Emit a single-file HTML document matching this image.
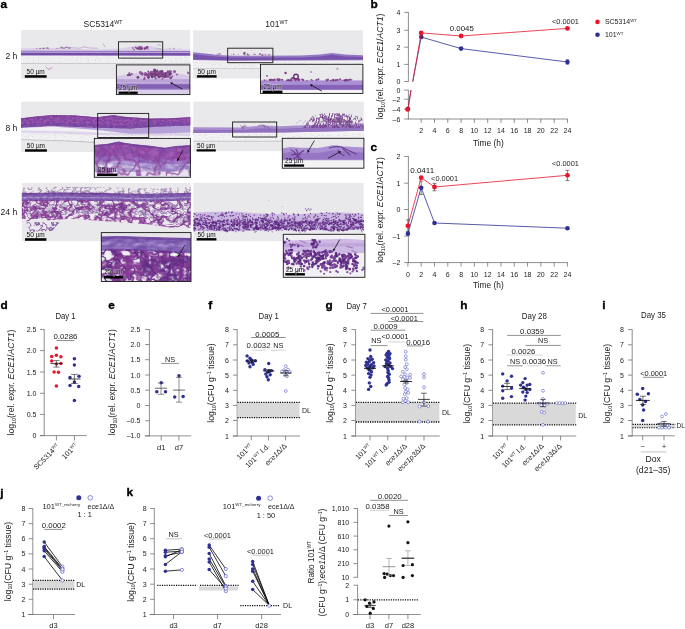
<!DOCTYPE html>
<html><head><meta charset="utf-8"><title>Figure</title>
<style>
html,body{margin:0;padding:0;background:#fff;}
svg{display:block;font-family:"Liberation Sans",sans-serif;}
</style></head><body>
<svg width="685" height="629" viewBox="0 0 685 629">
<rect width="685" height="629" fill="#fff"/>

<defs><filter id="cl_s" x="0" y="0" width="100%" height="100%" color-interpolation-filters="sRGB"><feTurbulence type="fractalNoise" baseFrequency="0.45 0.6" numOctaves="2" seed="23"/><feColorMatrix type="matrix" values="0 0 0 0 0.482  0 0 0 0 0.235  0 0 0 0 0.518  1 0 0 0 0"/><feComponentTransfer><feFuncA type="table" tableValues="0 0 0 0 0 0 0 0 0 0 0 .35 .9 1 1 1 1 1 1 1 1"/></feComponentTransfer><feGaussianBlur stdDeviation="0.25"/><feComposite in2="SourceAlpha" operator="in"/></filter><filter id="cl_m" x="0" y="0" width="100%" height="100%" color-interpolation-filters="sRGB"><feTurbulence type="fractalNoise" baseFrequency="0.22 0.3" numOctaves="2" seed="9"/><feColorMatrix type="matrix" values="0 0 0 0 0.490  0 0 0 0 0.247  0 0 0 0 0.533  1 0 0 0 0"/><feComponentTransfer><feFuncA type="table" tableValues="0 0 0 0 0 0 0 0 0 0 .35 .9 1 1 1 1 1 1 1 1 1"/></feComponentTransfer><feGaussianBlur stdDeviation="0.3"/><feComposite in2="SourceAlpha" operator="in"/></filter><filter id="cl_d" x="0" y="0" width="100%" height="100%" color-interpolation-filters="sRGB"><feTurbulence type="fractalNoise" baseFrequency="0.3 0.38" numOctaves="3" seed="31"/><feColorMatrix type="matrix" values="0 0 0 0 0.400  0 0 0 0 0.192  0 0 0 0 0.549  1 0 0 0 0"/><feComponentTransfer><feFuncA type="table" tableValues="0 0 0 0 0 0 0 0 0 0 .35 .9 1 1 1 1 1 1 1 1 1"/></feComponentTransfer><feGaussianBlur stdDeviation="0.25"/><feComposite in2="SourceAlpha" operator="in"/></filter><filter id="cl_d2" x="0" y="0" width="100%" height="100%" color-interpolation-filters="sRGB"><feTurbulence type="fractalNoise" baseFrequency="0.15 0.19" numOctaves="3" seed="17"/><feColorMatrix type="matrix" values="0 0 0 0 0.400  0 0 0 0 0.192  0 0 0 0 0.549  1 0 0 0 0"/><feComponentTransfer><feFuncA type="table" tableValues="0 0 0 0 0 0 0 0 0 0 .35 .9 1 1 1 1 1 1 1 1 1"/></feComponentTransfer><feGaussianBlur stdDeviation="0.35"/><feComposite in2="SourceAlpha" operator="in"/></filter><filter id="web_s" x="0" y="0" width="100%" height="100%" color-interpolation-filters="sRGB"><feTurbulence type="fractalNoise" baseFrequency="0.09 0.11" numOctaves="3" seed="11"/><feColorMatrix type="matrix" values="0 0 0 0 0.541  0 0 0 0 0.239  0 0 0 0 0.588  1 0 0 0 0"/><feComponentTransfer><feFuncA type="table" tableValues="0 0 0 0 0 0 0 0 .1 .7 1 .7 .1 0 0 0 0 0 0 0 0"/></feComponentTransfer><feGaussianBlur stdDeviation="0.3"/><feComposite in2="SourceAlpha" operator="in"/></filter><filter id="web_s2" x="0" y="0" width="100%" height="100%" color-interpolation-filters="sRGB"><feTurbulence type="fractalNoise" baseFrequency="0.13 0.16" numOctaves="3" seed="41"/><feColorMatrix type="matrix" values="0 0 0 0 0.392  0 0 0 0 0.173  0 0 0 0 0.518  0 1 0 0 0"/><feComponentTransfer><feFuncA type="table" tableValues="0 0 0 0 0 0 0 0 0 .5 1 .5 0 0 0 0 0 0 0 0 0"/></feComponentTransfer><feGaussianBlur stdDeviation="0.3"/><feComposite in2="SourceAlpha" operator="in"/></filter><filter id="web_l" x="0" y="0" width="100%" height="100%" color-interpolation-filters="sRGB"><feTurbulence type="fractalNoise" baseFrequency="0.06 0.075" numOctaves="3" seed="5"/><feColorMatrix type="matrix" values="0 0 0 0 0.525  0 0 0 0 0.235  0 0 0 0 0.588  1 0 0 0 0"/><feComponentTransfer><feFuncA type="table" tableValues="0 0 0 0 0 0 0 0 .25 .9 1 .9 .25 0 0 0 0 0 0 0 0"/></feComponentTransfer><feGaussianBlur stdDeviation="0.4"/><feComposite in2="SourceAlpha" operator="in"/></filter><filter id="web_l2" x="0" y="0" width="100%" height="100%" color-interpolation-filters="sRGB"><feTurbulence type="fractalNoise" baseFrequency="0.085 0.1" numOctaves="3" seed="29"/><feColorMatrix type="matrix" values="0 0 0 0 0.369  0 0 0 0 0.173  0 0 0 0 0.518  0 1 0 0 0"/><feComponentTransfer><feFuncA type="table" tableValues="0 0 0 0 0 0 0 0 .1 .7 1 .7 .1 0 0 0 0 0 0 0 0"/></feComponentTransfer><feGaussianBlur stdDeviation="0.35"/><feComposite in2="SourceAlpha" operator="in"/></filter><filter id="tex_m" x="0" y="0" width="100%" height="100%" color-interpolation-filters="sRGB"><feTurbulence type="fractalNoise" baseFrequency="0.3 0.5" numOctaves="2" seed="4"/><feColorMatrix type="matrix" values="0 0 0 0 0.353  0 0 0 0 0.208  0 0 0 0 0.588  0 0 1 0 0"/><feComponentTransfer><feFuncA type="table" tableValues="0 0 0 0 0 0 0 .1 .25 .4 .55 .7 .85 1 1 1 1 1 1 1 1"/></feComponentTransfer><feGaussianBlur stdDeviation="0.3"/><feComposite in2="SourceAlpha" operator="in"/></filter><filter id="tex_l" x="0" y="0" width="100%" height="100%" color-interpolation-filters="sRGB"><feTurbulence type="fractalNoise" baseFrequency="0.12 0.22" numOctaves="2" seed="14"/><feColorMatrix type="matrix" values="0 0 0 0 0.357  0 0 0 0 0.227  0 0 0 0 0.604  0 0 1 0 0"/><feComponentTransfer><feFuncA type="table" tableValues="0 0 0 0 0 0 0 .1 .25 .4 .55 .7 .85 1 1 1 1 1 1 1 1"/></feComponentTransfer><feGaussianBlur stdDeviation="0.4"/><feComposite in2="SourceAlpha" operator="in"/></filter><filter id="hy_s" x="0" y="0" width="100%" height="100%" color-interpolation-filters="sRGB"><feTurbulence type="fractalNoise" baseFrequency="0.3 0.14" numOctaves="2" seed="3"/><feColorMatrix type="matrix" values="0 0 0 0 0.455  0 0 0 0 0.251  0 0 0 0 0.541  1 0 0 0 0"/><feComponentTransfer><feFuncA type="table" tableValues="0 0 0 0 0 0 0 0 .1 .7 1 .7 .1 0 0 0 0 0 0 0 0"/></feComponentTransfer><feGaussianBlur stdDeviation="0.25"/><feComposite in2="SourceAlpha" operator="in"/></filter><filter id="hy_l" x="0" y="0" width="100%" height="100%" color-interpolation-filters="sRGB"><feTurbulence type="fractalNoise" baseFrequency="0.1 0.075" numOctaves="2" seed="8"/><feColorMatrix type="matrix" values="0 0 0 0 0.541  0 0 0 0 0.247  0 0 0 0 0.596  1 0 0 0 0"/><feComponentTransfer><feFuncA type="table" tableValues="0 0 0 0 0 0 0 0 0 .5 1 .5 0 0 0 0 0 0 0 0 0"/></feComponentTransfer><feGaussianBlur stdDeviation="0.35"/><feComposite in2="SourceAlpha" operator="in"/></filter><filter id="spk" x="0" y="0" width="100%" height="100%" color-interpolation-filters="sRGB"><feTurbulence type="fractalNoise" baseFrequency="0.6 0.9" numOctaves="1" seed="77"/><feColorMatrix type="matrix" values="0 0 0 0 0.663  0 0 0 0 0.655  0 0 0 0 0.675  1 0 0 0 0"/><feComponentTransfer><feFuncA type="table" tableValues="0 0 0 0 0 0 0 0 0 0 0 0 .35 .9 1 1 1 1 1 1 1"/></feComponentTransfer><feGaussianBlur stdDeviation="0.2"/><feComposite in2="SourceAlpha" operator="in"/></filter></defs>
<text x="83.60" y="27.00" font-size="8.5" text-anchor="start" fill="#1a1a1a" >SC5314<tspan dy="-3.1" font-size="5.2">WT</tspan></text>
<text x="265.30" y="27.00" font-size="8.5" text-anchor="start" fill="#1a1a1a" >101<tspan dy="-3.1" font-size="5.2">WT</tspan></text>
<text x="17.40" y="59.30" font-size="8.6" text-anchor="end" fill="#1a1a1a" >2 h</text>
<text x="17.40" y="131.40" font-size="8.6" text-anchor="end" fill="#1a1a1a" >8 h</text>
<text x="17.20" y="214.50" font-size="8.6" text-anchor="end" fill="#1a1a1a" >24 h</text>
<clipPath id="cp1"><rect x="20.90" y="30.00" width="169.50" height="49.20"/></clipPath>
<g clip-path="url(#cp1)">
<rect x="20.90" y="30.00" width="169.50" height="49.20" fill="#e9e8ea"/>
<rect x="20.90" y="55.20" width="169.50" height="8.20" fill="#f0eff2" />
<rect x="20.90" y="57.00" width="169.50" height="6.20" fill="#000" filter="url(#spk)" opacity="0.22"/>
<rect x="20.90" y="63.30" width="169.50" height="0.70" fill="#bdbcbf" />
<polygon points="20.9,48.4 45.0,47.8 70.0,48.6 95.0,49.6 122.0,48.6 135.0,45.6 150.0,46.0 162.0,48.6 190.4,49.6 190.4,52.0 20.9,52.0" fill="#d9cee7" />
<polygon points="20.9,50.8 190.4,51.0 190.4,55.6 20.9,55.3" fill="#9272c0" />
<polygon points="20.9,53.0 190.4,53.2 190.4,55.4 20.9,55.2" fill="#734ba8" />
<polygon points="20.9,51.8 190.4,52.0 190.4,52.7 20.9,52.5" fill="#cbbce2" />
<g opacity="0.9"><circle cx="139.9" cy="48.3" r="0.87" fill="#8a4690"/><circle cx="147.2" cy="46.4" r="0.62" fill="#5e2a70"/><circle cx="141.8" cy="48.6" r="0.69" fill="#6b2f74"/><circle cx="138.2" cy="47.8" r="0.83" fill="#7b3a7e"/><circle cx="132.9" cy="47.9" r="0.76" fill="#6b2f74"/><circle cx="145.0" cy="49.5" r="0.59" fill="#8a4690"/><circle cx="138.2" cy="49.2" r="0.51" fill="#5e2a70"/><circle cx="146.1" cy="47.0" r="0.58" fill="#7b3a7e"/><circle cx="139.2" cy="47.8" r="0.81" fill="#6b2f74"/><circle cx="140.2" cy="47.5" r="0.74" fill="#8a4690"/><circle cx="141.7" cy="47.5" r="0.89" fill="#6b2f74"/><circle cx="139.9" cy="46.5" r="0.80" fill="#8a4690"/><circle cx="135.7" cy="47.6" r="0.93" fill="#7b3a7e"/><circle cx="144.5" cy="48.1" r="0.89" fill="#7b3a7e"/><circle cx="142.5" cy="48.8" r="0.74" fill="#6b2f74"/><circle cx="139.9" cy="48.3" r="0.53" fill="#5e2a70"/><circle cx="147.8" cy="47.4" r="0.85" fill="#8a4690"/><circle cx="141.7" cy="49.4" r="0.55" fill="#7b3a7e"/><circle cx="146.0" cy="48.3" r="0.85" fill="#5e2a70"/><circle cx="145.8" cy="47.6" r="0.66" fill="#7b3a7e"/><circle cx="138.7" cy="48.1" r="0.57" fill="#8a4690"/><circle cx="140.8" cy="48.8" r="0.63" fill="#7b3a7e"/><circle cx="140.1" cy="48.2" r="0.50" fill="#5e2a70"/><circle cx="147.3" cy="47.0" r="0.92" fill="#7b3a7e"/><circle cx="139.8" cy="49.8" r="0.53" fill="#5e2a70"/><circle cx="137.4" cy="48.6" r="0.90" fill="#7b3a7e"/><circle cx="138.4" cy="48.6" r="0.58" fill="#6b2f74"/><circle cx="146.0" cy="47.9" r="0.69" fill="#7b3a7e"/><circle cx="145.3" cy="48.7" r="0.59" fill="#6b2f74"/><circle cx="140.5" cy="47.0" r="0.60" fill="#8a4690"/><circle cx="144.5" cy="49.0" r="0.85" fill="#7b3a7e"/><circle cx="140.2" cy="49.2" r="0.66" fill="#7b3a7e"/><circle cx="139.3" cy="47.9" r="0.67" fill="#7b3a7e"/><circle cx="139.7" cy="49.3" r="0.67" fill="#8a4690"/><circle cx="137.0" cy="48.4" r="0.83" fill="#5e2a70"/><circle cx="145.4" cy="48.5" r="0.60" fill="#6b2f74"/><circle cx="146.7" cy="47.5" r="0.78" fill="#7b3a7e"/><circle cx="146.8" cy="48.5" r="0.58" fill="#5e2a70"/><circle cx="136.7" cy="48.2" r="0.59" fill="#8a4690"/><circle cx="139.1" cy="46.3" r="0.53" fill="#8a4690"/><circle cx="134.1" cy="49.7" r="0.69" fill="#6b2f74"/><circle cx="148.1" cy="49.1" r="0.60" fill="#5e2a70"/><circle cx="141.3" cy="48.7" r="0.93" fill="#7b3a7e"/><circle cx="141.6" cy="47.3" r="0.64" fill="#7b3a7e"/></g>
<g opacity="0.8"><circle cx="39.4" cy="48.3" r="0.57" fill="#8a4690"/><circle cx="44.0" cy="48.2" r="0.69" fill="#8a4690"/><circle cx="36.5" cy="48.7" r="0.43" fill="#6b2f74"/><circle cx="43.7" cy="48.5" r="0.52" fill="#7b3a7e"/><circle cx="46.9" cy="48.0" r="0.56" fill="#6b2f74"/><circle cx="42.4" cy="48.2" r="0.51" fill="#7b3a7e"/><circle cx="48.2" cy="48.2" r="0.64" fill="#7b3a7e"/><circle cx="40.5" cy="48.2" r="0.50" fill="#5e2a70"/><circle cx="47.2" cy="47.9" r="0.57" fill="#7b3a7e"/></g>
<g opacity="0.8"><circle cx="66.1" cy="47.8" r="0.45" fill="#6b2f74"/><circle cx="61.3" cy="47.2" r="0.73" fill="#7b3a7e"/><circle cx="65.1" cy="47.8" r="0.57" fill="#6b2f74"/><circle cx="64.0" cy="48.2" r="0.55" fill="#6b2f74"/><circle cx="70.0" cy="48.1" r="0.59" fill="#6b2f74"/><circle cx="69.1" cy="47.9" r="0.77" fill="#6b2f74"/><circle cx="62.4" cy="48.1" r="0.74" fill="#7b3a7e"/><circle cx="66.9" cy="47.2" r="0.76" fill="#7b3a7e"/></g>
<g opacity="0.55"><circle cx="171.1" cy="48.0" r="0.42" fill="#6b2f74"/><circle cx="159.3" cy="48.2" r="0.47" fill="#5e2a70"/><circle cx="174.5" cy="48.7" r="0.51" fill="#7b3a7e"/><circle cx="169.6" cy="48.6" r="0.49" fill="#8a4690"/><circle cx="160.1" cy="48.6" r="0.37" fill="#5e2a70"/><circle cx="155.8" cy="48.2" r="0.43" fill="#7b3a7e"/><circle cx="157.8" cy="49.0" r="0.59" fill="#5e2a70"/><circle cx="160.9" cy="49.2" r="0.54" fill="#6b2f74"/><circle cx="173.4" cy="48.6" r="0.53" fill="#7b3a7e"/><circle cx="179.4" cy="48.6" r="0.43" fill="#6b2f74"/></g>
<path d="M56,48.6 q10,-2.6 20,-0.6 q6,1 9,-2.6 M84,47 q6,1.6 14,1.2" fill="none" stroke="#a277b8" stroke-width="0.6" opacity="0.8"/>
<path d="M157,45.4 q2.4,-1.6 4,0.6 M103,43.6 l2.2,3.4" fill="none" stroke="#b791c6" stroke-width="0.9" opacity="0.8"/>
<path d="M45.5,66.5 q2,2.5 3.5,3 q2,-0.5 3,-2.5" fill="none" stroke="#b35fb0" stroke-width="0.8" opacity="0.8"/>
</g>
<rect x="24.80" y="75.20" width="21.80" height="2.50" fill="#000"/>
<text x="35.70" y="73.70" font-size="6.5" text-anchor="middle" fill="#111" >50 µm</text>
<rect x="118.50" y="41.80" width="44.20" height="16.30" fill="none" stroke="#1a1a1a" stroke-width="0.9"/>
<clipPath id="cp2"><rect x="116.40" y="64.90" width="73.50" height="29.70"/></clipPath>
<g clip-path="url(#cp2)">
<rect x="116.40" y="64.90" width="73.50" height="29.70" fill="#e6e4e8"/>
<polygon points="116.0,76.5 128.0,74.0 140.0,72.4 165.0,72.0 180.0,73.6 190.0,76.0 190.0,80.0 116.0,80.0" fill="#d5c7e5" />
<rect x="116.00" y="79.20" width="74.00" height="3.80" fill="#b9a1d7" />
<rect x="116.00" y="82.70" width="74.00" height="0.80" fill="#d7cbe9" />
<rect x="116.00" y="83.50" width="74.00" height="6.30" fill="#8e6cbd" />
<rect x="116.00" y="85.00" width="74.00" height="3.00" fill="#8360b4" />
<rect x="116.00" y="89.80" width="74.00" height="5.20" fill="#d9ceea" />
<g opacity="0.88"><circle cx="158.9" cy="72.9" r="1.38" fill="#8a4690"/><circle cx="159.5" cy="77.2" r="1.00" fill="#7b3a7e"/><circle cx="162.3" cy="73.9" r="1.53" fill="#7b3a7e"/><circle cx="168.5" cy="74.9" r="1.43" fill="#6b2f74"/><circle cx="154.8" cy="75.6" r="1.29" fill="#8a4690"/><circle cx="154.8" cy="74.6" r="1.14" fill="#5e2a70"/><circle cx="160.3" cy="71.7" r="1.33" fill="#5e2a70"/><circle cx="145.8" cy="74.6" r="1.33" fill="#5e2a70"/><circle cx="161.6" cy="74.0" r="1.14" fill="#7b3a7e"/><circle cx="155.2" cy="70.7" r="1.01" fill="#8a4690"/><circle cx="168.1" cy="72.4" r="1.18" fill="#5e2a70"/><circle cx="155.3" cy="73.6" r="1.14" fill="#7b3a7e"/><circle cx="157.0" cy="73.4" r="0.81" fill="#6b2f74"/><circle cx="160.9" cy="73.2" r="0.92" fill="#6b2f74"/><circle cx="152.2" cy="77.3" r="1.05" fill="#7b3a7e"/><circle cx="148.6" cy="77.1" r="1.49" fill="#7b3a7e"/><circle cx="151.9" cy="76.3" r="0.91" fill="#8a4690"/><circle cx="168.2" cy="71.6" r="1.46" fill="#8a4690"/><circle cx="158.4" cy="73.5" r="1.16" fill="#7b3a7e"/><circle cx="148.6" cy="75.0" r="1.13" fill="#5e2a70"/><circle cx="158.6" cy="77.0" r="1.19" fill="#6b2f74"/><circle cx="162.8" cy="73.4" r="0.88" fill="#6b2f74"/><circle cx="142.1" cy="73.9" r="1.59" fill="#7b3a7e"/><circle cx="157.9" cy="73.5" r="0.85" fill="#6b2f74"/><circle cx="165.2" cy="74.6" r="1.27" fill="#8a4690"/><circle cx="154.1" cy="76.3" r="0.82" fill="#7b3a7e"/><circle cx="148.8" cy="73.4" r="1.05" fill="#8a4690"/><circle cx="168.1" cy="76.4" r="1.34" fill="#6b2f74"/><circle cx="160.8" cy="75.7" r="1.01" fill="#8a4690"/><circle cx="159.5" cy="74.3" r="1.55" fill="#6b2f74"/><circle cx="158.7" cy="73.1" r="1.57" fill="#6b2f74"/><circle cx="162.0" cy="74.7" r="1.14" fill="#5e2a70"/><circle cx="151.9" cy="72.4" r="1.19" fill="#7b3a7e"/><circle cx="154.8" cy="75.2" r="0.92" fill="#7b3a7e"/><circle cx="159.9" cy="72.8" r="1.55" fill="#8a4690"/><circle cx="164.3" cy="74.2" r="1.23" fill="#5e2a70"/><circle cx="161.8" cy="75.1" r="1.18" fill="#6b2f74"/><circle cx="152.5" cy="74.2" r="0.82" fill="#6b2f74"/><circle cx="162.2" cy="73.5" r="1.42" fill="#6b2f74"/><circle cx="145.5" cy="73.6" r="1.55" fill="#8a4690"/><circle cx="156.8" cy="74.7" r="1.25" fill="#5e2a70"/><circle cx="148.7" cy="73.9" r="1.52" fill="#7b3a7e"/><circle cx="153.5" cy="73.6" r="1.44" fill="#6b2f74"/><circle cx="172.2" cy="76.4" r="0.89" fill="#7b3a7e"/><circle cx="137.9" cy="77.3" r="1.38" fill="#5e2a70"/><circle cx="151.0" cy="73.0" r="1.03" fill="#6b2f74"/><circle cx="162.1" cy="71.4" r="1.31" fill="#5e2a70"/><circle cx="161.0" cy="75.8" r="0.90" fill="#8a4690"/><circle cx="151.1" cy="72.3" r="1.43" fill="#8a4690"/><circle cx="159.0" cy="76.6" r="0.80" fill="#5e2a70"/><circle cx="147.1" cy="75.3" r="0.88" fill="#5e2a70"/><circle cx="157.5" cy="75.2" r="0.94" fill="#6b2f74"/><circle cx="176.9" cy="74.6" r="0.86" fill="#6b2f74"/><circle cx="159.5" cy="75.8" r="0.80" fill="#7b3a7e"/><circle cx="170.7" cy="77.9" r="1.41" fill="#7b3a7e"/><circle cx="155.8" cy="78.5" r="1.04" fill="#7b3a7e"/><circle cx="145.1" cy="74.9" r="1.07" fill="#7b3a7e"/><circle cx="169.8" cy="75.1" r="0.88" fill="#5e2a70"/><circle cx="160.5" cy="74.5" r="1.56" fill="#5e2a70"/><circle cx="152.2" cy="76.7" r="1.33" fill="#5e2a70"/><circle cx="162.6" cy="72.9" r="0.92" fill="#8a4690"/><circle cx="155.2" cy="73.2" r="1.56" fill="#5e2a70"/><circle cx="144.3" cy="79.0" r="1.18" fill="#8a4690"/><circle cx="162.2" cy="75.7" r="1.22" fill="#7b3a7e"/><circle cx="164.3" cy="75.9" r="1.06" fill="#5e2a70"/><circle cx="153.0" cy="73.4" r="1.01" fill="#7b3a7e"/><circle cx="160.3" cy="75.6" r="0.99" fill="#7b3a7e"/><circle cx="160.5" cy="76.6" r="0.81" fill="#5e2a70"/><circle cx="149.9" cy="75.5" r="1.11" fill="#8a4690"/><circle cx="159.6" cy="74.3" r="1.32" fill="#7b3a7e"/><circle cx="156.1" cy="74.8" r="1.42" fill="#5e2a70"/><circle cx="148.3" cy="71.3" r="0.88" fill="#5e2a70"/><circle cx="152.6" cy="75.0" r="0.83" fill="#6b2f74"/><circle cx="160.6" cy="72.5" r="1.56" fill="#5e2a70"/><circle cx="164.8" cy="74.9" r="1.13" fill="#8a4690"/><circle cx="147.3" cy="75.9" r="1.01" fill="#8a4690"/><circle cx="152.0" cy="75.2" r="1.00" fill="#5e2a70"/><circle cx="155.6" cy="71.9" r="0.87" fill="#8a4690"/><circle cx="141.3" cy="73.6" r="1.19" fill="#8a4690"/><circle cx="153.0" cy="72.2" r="1.35" fill="#8a4690"/><circle cx="165.9" cy="75.6" r="1.15" fill="#5e2a70"/><circle cx="155.7" cy="71.9" r="1.14" fill="#6b2f74"/><circle cx="161.1" cy="72.5" r="1.15" fill="#5e2a70"/><circle cx="160.9" cy="74.3" r="0.82" fill="#8a4690"/><circle cx="154.5" cy="70.0" r="1.48" fill="#7b3a7e"/><circle cx="170.1" cy="74.0" r="1.33" fill="#6b2f74"/><circle cx="144.7" cy="77.5" r="0.80" fill="#7b3a7e"/><circle cx="154.7" cy="76.6" r="1.20" fill="#6b2f74"/><circle cx="162.5" cy="78.6" r="1.05" fill="#8a4690"/><circle cx="151.0" cy="75.3" r="0.95" fill="#5e2a70"/><circle cx="157.5" cy="74.5" r="0.98" fill="#6b2f74"/><circle cx="159.6" cy="72.4" r="0.94" fill="#7b3a7e"/><circle cx="170.2" cy="73.5" r="1.57" fill="#5e2a70"/><circle cx="163.5" cy="76.4" r="1.33" fill="#8a4690"/><circle cx="151.0" cy="73.4" r="0.88" fill="#6b2f74"/><circle cx="167.7" cy="72.0" r="0.90" fill="#5e2a70"/><circle cx="140.4" cy="72.5" r="1.42" fill="#8a4690"/><circle cx="157.9" cy="75.5" r="0.96" fill="#6b2f74"/><circle cx="166.6" cy="76.6" r="1.24" fill="#7b3a7e"/><circle cx="158.5" cy="73.6" r="1.32" fill="#6b2f74"/><circle cx="148.5" cy="77.6" r="1.20" fill="#5e2a70"/><circle cx="157.1" cy="73.0" r="1.19" fill="#7b3a7e"/><circle cx="170.4" cy="71.8" r="1.44" fill="#7b3a7e"/><circle cx="156.9" cy="71.8" r="1.41" fill="#7b3a7e"/><circle cx="168.2" cy="75.7" r="1.41" fill="#8a4690"/><circle cx="155.7" cy="72.4" r="0.83" fill="#7b3a7e"/><circle cx="153.3" cy="74.3" r="1.06" fill="#5e2a70"/><circle cx="159.6" cy="72.9" r="1.47" fill="#7b3a7e"/><circle cx="151.3" cy="74.1" r="1.36" fill="#6b2f74"/><circle cx="165.0" cy="76.6" r="1.59" fill="#6b2f74"/><circle cx="157.2" cy="70.5" r="1.06" fill="#5e2a70"/><circle cx="174.5" cy="71.5" r="1.58" fill="#8a4690"/><circle cx="165.6" cy="73.5" r="1.40" fill="#5e2a70"/><circle cx="154.9" cy="70.8" r="1.54" fill="#5e2a70"/><circle cx="162.9" cy="75.4" r="1.48" fill="#6b2f74"/><circle cx="144.6" cy="73.8" r="0.81" fill="#8a4690"/></g>
<g opacity="0.8"><circle cx="129.3" cy="73.3" r="1.04" fill="#5e2a70"/><circle cx="129.5" cy="75.2" r="0.83" fill="#6b2f74"/><circle cx="129.4" cy="74.6" r="1.10" fill="#8a4690"/><circle cx="130.0" cy="75.2" r="0.85" fill="#7b3a7e"/><circle cx="128.0" cy="75.1" r="1.18" fill="#5e2a70"/><circle cx="131.9" cy="74.6" r="0.75" fill="#5e2a70"/><circle cx="130.0" cy="74.9" r="1.05" fill="#6b2f74"/><circle cx="131.8" cy="73.6" r="0.78" fill="#7b3a7e"/></g>
<g opacity="0.7"><circle cx="188.4" cy="72.9" r="0.85" fill="#6b2f74"/><circle cx="187.6" cy="72.2" r="0.80" fill="#5e2a70"/><circle cx="188.3" cy="73.6" r="0.81" fill="#5e2a70"/></g>
</g>
<rect x="116.40" y="64.90" width="73.50" height="29.70" fill="none" stroke="#1a1a1a" stroke-width="0.9"/>
<rect x="118.70" y="91.60" width="19.00" height="2.30" fill="#000"/>
<text x="128.20" y="90.10" font-size="6.5" text-anchor="middle" fill="#111" stroke="#fff" stroke-width="0.9" stroke-opacity="0.55" paint-order="stroke">25 µm</text>
<line x1="182.50" y1="89.10" x2="172.47" y2="83.72" stroke="#111" stroke-width="0.8" />
<polygon points="170.00,82.40 173.08,82.58 171.85,84.87" fill="#111"/>
<clipPath id="cp3"><rect x="193.10" y="30.20" width="170.00" height="48.60"/></clipPath>
<g clip-path="url(#cp3)">
<rect x="193.10" y="30.20" width="170.00" height="48.60" fill="#e9e8ea"/>
<rect x="193.10" y="60.00" width="170.00" height="8.40" fill="#f0eff2" />
<rect x="193.10" y="62.00" width="170.00" height="6.20" fill="#000" filter="url(#spk)" opacity="0.2"/>
<rect x="193.10" y="68.30" width="170.00" height="0.70" fill="#c4c3c6" />
<polygon points="193.1,52.3 205.0,53.6 218.0,55.0 232.0,55.8 300.0,55.6 320.0,54.6 332.0,53.0 345.0,54.6 363.1,55.2 363.1,60.2 232.0,60.8 193.1,60.0" fill="#9579c4" />
<polygon points="193.1,54.1 205.0,55.4 218.0,56.8 232.0,57.6 300.0,57.4 320.0,56.4 332.0,54.8 345.0,56.4 363.1,57.0 363.1,59.6 232.0,60.2 193.1,59.4" fill="#7853ad" />
<g opacity="0.85"><circle cx="259.0" cy="54.8" r="0.38" fill="#8a4690"/><circle cx="243.4" cy="54.0" r="0.35" fill="#8a4690"/><circle cx="245.6" cy="55.1" r="0.44" fill="#7b3a7e"/><circle cx="248.3" cy="55.2" r="0.53" fill="#5e2a70"/><circle cx="231.5" cy="54.1" r="0.37" fill="#7b3a7e"/><circle cx="265.7" cy="55.0" r="0.64" fill="#8a4690"/><circle cx="259.7" cy="54.0" r="0.68" fill="#5e2a70"/><circle cx="233.7" cy="54.4" r="0.59" fill="#7b3a7e"/><circle cx="254.9" cy="54.4" r="0.69" fill="#6b2f74"/><circle cx="247.0" cy="54.8" r="0.46" fill="#8a4690"/><circle cx="261.9" cy="55.2" r="0.63" fill="#8a4690"/><circle cx="231.3" cy="55.0" r="0.37" fill="#8a4690"/><circle cx="269.9" cy="54.9" r="0.56" fill="#7b3a7e"/><circle cx="262.5" cy="55.3" r="0.61" fill="#8a4690"/><circle cx="263.9" cy="55.3" r="0.35" fill="#5e2a70"/><circle cx="264.0" cy="54.3" r="0.37" fill="#7b3a7e"/><circle cx="268.4" cy="54.8" r="0.65" fill="#6b2f74"/><circle cx="260.5" cy="53.9" r="0.59" fill="#6b2f74"/><circle cx="238.7" cy="54.2" r="0.47" fill="#8a4690"/><circle cx="233.9" cy="53.9" r="0.48" fill="#7b3a7e"/><circle cx="249.1" cy="54.3" r="0.51" fill="#6b2f74"/><circle cx="247.5" cy="54.2" r="0.64" fill="#5e2a70"/><circle cx="253.8" cy="54.5" r="0.49" fill="#8a4690"/><circle cx="262.3" cy="54.3" r="0.60" fill="#5e2a70"/><circle cx="247.3" cy="55.3" r="0.38" fill="#8a4690"/><circle cx="264.2" cy="54.3" r="0.45" fill="#8a4690"/></g>
<g opacity="0.85"><circle cx="243.8" cy="52.8" r="0.66" fill="#5e2a70"/><circle cx="245.0" cy="52.5" r="0.50" fill="#7b3a7e"/><circle cx="243.9" cy="53.7" r="0.56" fill="#8a4690"/><circle cx="244.1" cy="53.6" r="0.78" fill="#6b2f74"/><circle cx="244.7" cy="54.6" r="0.55" fill="#7b3a7e"/><circle cx="244.0" cy="53.8" r="0.63" fill="#8a4690"/><circle cx="244.9" cy="52.7" r="0.65" fill="#8a4690"/><circle cx="244.9" cy="53.2" r="0.67" fill="#5e2a70"/></g>
<g opacity="0.8"><circle cx="217.1" cy="54.4" r="0.45" fill="#6b2f74"/><circle cx="219.2" cy="54.1" r="0.50" fill="#8a4690"/><circle cx="211.6" cy="54.3" r="0.46" fill="#6b2f74"/><circle cx="218.1" cy="54.4" r="0.32" fill="#7b3a7e"/><circle cx="220.0" cy="54.3" r="0.34" fill="#7b3a7e"/><circle cx="220.7" cy="54.2" r="0.45" fill="#8a4690"/><circle cx="218.0" cy="54.2" r="0.59" fill="#7b3a7e"/><circle cx="220.0" cy="53.6" r="0.54" fill="#5e2a70"/></g>
<g opacity="0.7"><circle cx="240.2" cy="50.6" r="0.39" fill="#a86fb0"/><circle cx="251.2" cy="50.0" r="0.47" fill="#a86fb0"/><circle cx="253.5" cy="52.5" r="0.38" fill="#a86fb0"/><circle cx="264.5" cy="49.6" r="0.35" fill="#a86fb0"/><circle cx="266.3" cy="49.6" r="0.38" fill="#a86fb0"/><circle cx="261.5" cy="50.1" r="0.50" fill="#a86fb0"/></g>
</g>
<rect x="196.90" y="75.20" width="19.70" height="2.40" fill="#000"/>
<text x="206.75" y="74.20" font-size="6.5" text-anchor="middle" fill="#111" >50 µm</text>
<rect x="227.70" y="48.20" width="45.20" height="14.50" fill="none" stroke="#1a1a1a" stroke-width="0.9"/>
<clipPath id="cp4"><rect x="260.50" y="64.30" width="102.40" height="29.10"/></clipPath>
<g clip-path="url(#cp4)">
<rect x="260.50" y="64.30" width="102.40" height="29.10" fill="#e9e8eb"/>
<rect x="260.00" y="80.40" width="104.00" height="9.60" fill="#a98fd4" />
<rect x="260.00" y="84.90" width="104.00" height="4.60" fill="#8662b9" />
<rect x="260.00" y="90.20" width="104.00" height="3.80" fill="#f4f4f5" />
<g opacity="0.9"><circle cx="333.7" cy="80.6" r="0.90" fill="#5e2a70"/><circle cx="337.4" cy="79.6" r="0.88" fill="#8a4690"/><circle cx="350.2" cy="79.8" r="0.94" fill="#8a4690"/><circle cx="270.6" cy="80.2" r="0.96" fill="#7b3a7e"/><circle cx="346.5" cy="79.8" r="1.02" fill="#7b3a7e"/><circle cx="307.0" cy="80.6" r="0.69" fill="#5e2a70"/><circle cx="349.9" cy="79.4" r="0.96" fill="#8a4690"/><circle cx="274.8" cy="80.1" r="1.09" fill="#8a4690"/><circle cx="346.6" cy="79.9" r="0.96" fill="#7b3a7e"/><circle cx="345.3" cy="80.7" r="0.79" fill="#6b2f74"/><circle cx="326.9" cy="80.7" r="0.90" fill="#6b2f74"/><circle cx="291.8" cy="80.4" r="0.99" fill="#8a4690"/><circle cx="279.2" cy="80.1" r="0.63" fill="#7b3a7e"/><circle cx="264.0" cy="80.1" r="0.70" fill="#8a4690"/><circle cx="332.6" cy="80.3" r="1.12" fill="#8a4690"/><circle cx="269.8" cy="79.9" r="1.13" fill="#6b2f74"/><circle cx="277.5" cy="79.4" r="1.10" fill="#6b2f74"/><circle cx="291.1" cy="80.2" r="0.83" fill="#7b3a7e"/><circle cx="327.9" cy="79.6" r="1.10" fill="#8a4690"/><circle cx="301.9" cy="79.3" r="0.69" fill="#5e2a70"/><circle cx="266.3" cy="80.1" r="0.64" fill="#7b3a7e"/><circle cx="298.5" cy="80.2" r="0.74" fill="#7b3a7e"/><circle cx="291.1" cy="79.4" r="1.03" fill="#7b3a7e"/><circle cx="273.0" cy="80.0" r="1.07" fill="#5e2a70"/><circle cx="333.2" cy="79.9" r="1.12" fill="#6b2f74"/><circle cx="346.7" cy="80.6" r="0.91" fill="#7b3a7e"/><circle cx="345.6" cy="80.1" r="0.96" fill="#5e2a70"/><circle cx="290.3" cy="80.4" r="0.94" fill="#6b2f74"/><circle cx="332.6" cy="80.2" r="0.87" fill="#8a4690"/><circle cx="298.6" cy="80.6" r="0.84" fill="#7b3a7e"/><circle cx="335.9" cy="80.0" r="1.07" fill="#8a4690"/><circle cx="281.8" cy="79.8" r="0.68" fill="#5e2a70"/><circle cx="340.0" cy="79.4" r="1.13" fill="#8a4690"/><circle cx="337.7" cy="80.0" r="0.94" fill="#5e2a70"/><circle cx="350.1" cy="79.8" r="0.65" fill="#6b2f74"/><circle cx="328.1" cy="79.7" r="0.63" fill="#6b2f74"/><circle cx="287.2" cy="80.3" r="0.98" fill="#5e2a70"/><circle cx="295.5" cy="80.4" r="0.90" fill="#7b3a7e"/><circle cx="264.6" cy="80.3" r="0.74" fill="#7b3a7e"/><circle cx="299.0" cy="79.7" r="1.05" fill="#6b2f74"/><circle cx="348.0" cy="80.1" r="1.14" fill="#7b3a7e"/><circle cx="328.2" cy="80.1" r="0.81" fill="#8a4690"/><circle cx="345.3" cy="80.6" r="0.77" fill="#6b2f74"/><circle cx="335.5" cy="80.2" r="0.77" fill="#6b2f74"/><circle cx="318.3" cy="79.3" r="1.08" fill="#6b2f74"/><circle cx="311.4" cy="79.8" r="0.92" fill="#7b3a7e"/><circle cx="330.8" cy="80.6" r="0.83" fill="#6b2f74"/><circle cx="344.3" cy="80.2" r="0.95" fill="#6b2f74"/><circle cx="335.0" cy="80.2" r="0.62" fill="#6b2f74"/><circle cx="296.4" cy="79.5" r="0.72" fill="#7b3a7e"/><circle cx="336.0" cy="80.7" r="0.76" fill="#8a4690"/><circle cx="278.4" cy="80.1" r="1.04" fill="#5e2a70"/><circle cx="303.4" cy="80.0" r="0.87" fill="#7b3a7e"/><circle cx="351.7" cy="79.7" r="0.75" fill="#8a4690"/><circle cx="282.3" cy="79.8" r="0.87" fill="#5e2a70"/><circle cx="271.4" cy="79.8" r="1.06" fill="#6b2f74"/><circle cx="299.8" cy="79.4" r="0.63" fill="#6b2f74"/><circle cx="295.7" cy="79.5" r="0.76" fill="#7b3a7e"/><circle cx="288.7" cy="80.2" r="1.08" fill="#5e2a70"/><circle cx="280.0" cy="80.0" r="0.74" fill="#7b3a7e"/><circle cx="312.8" cy="80.3" r="0.65" fill="#8a4690"/><circle cx="277.9" cy="79.4" r="1.02" fill="#7b3a7e"/><circle cx="296.6" cy="79.5" r="0.60" fill="#7b3a7e"/><circle cx="278.6" cy="80.4" r="0.70" fill="#5e2a70"/><circle cx="342.0" cy="80.3" r="0.68" fill="#8a4690"/><circle cx="274.5" cy="79.3" r="0.80" fill="#6b2f74"/><circle cx="326.0" cy="79.7" r="0.70" fill="#6b2f74"/><circle cx="316.4" cy="79.9" r="0.93" fill="#6b2f74"/><circle cx="302.7" cy="79.7" r="0.99" fill="#6b2f74"/><circle cx="298.8" cy="79.7" r="0.74" fill="#8a4690"/></g>
<g opacity="0.9"><circle cx="294.0" cy="78.6" r="0.61" fill="#5e2a70"/><circle cx="295.6" cy="78.8" r="0.70" fill="#5e2a70"/><circle cx="293.9" cy="78.4" r="0.95" fill="#7b3a7e"/><circle cx="294.2" cy="79.3" r="1.05" fill="#8a4690"/><circle cx="297.1" cy="79.8" r="0.67" fill="#8a4690"/><circle cx="292.3" cy="78.1" r="1.04" fill="#5e2a70"/><circle cx="298.9" cy="78.8" r="0.66" fill="#8a4690"/><circle cx="298.1" cy="79.1" r="1.06" fill="#6b2f74"/><circle cx="295.4" cy="80.1" r="1.09" fill="#8a4690"/><circle cx="296.2" cy="78.8" r="0.87" fill="#7b3a7e"/></g>
<circle cx="296.0" cy="76.6" r="2.3" fill="none" stroke="#70357e" stroke-width="1.5"/>
<circle cx="285.6" cy="73.0" r="1.2" fill="#7a3f88"/><circle cx="267.0" cy="75.8" r="0.9" fill="#7a3f88"/><circle cx="311" cy="72.0" r="0.9" fill="#b57fb8"/><circle cx="337.4" cy="68.8" r="1.1" fill="#c48fc4"/><circle cx="279.5" cy="79.2" r="1.0" fill="#7a3f88"/>
</g>
<rect x="260.50" y="64.30" width="102.40" height="29.10" fill="none" stroke="#1a1a1a" stroke-width="0.9"/>
<rect x="262.60" y="90.60" width="19.80" height="2.70" fill="#000"/>
<text x="272.50" y="89.00" font-size="6.5" text-anchor="middle" fill="#111" stroke="#fff" stroke-width="0.9" stroke-opacity="0.55" paint-order="stroke">25 µm</text>
<line x1="321.90" y1="91.20" x2="312.13" y2="85.59" stroke="#111" stroke-width="0.8" />
<polygon points="309.70,84.20 312.78,84.47 311.48,86.72" fill="#111"/>
<clipPath id="cp5"><rect x="20.90" y="101.50" width="169.60" height="50.50"/></clipPath>
<g clip-path="url(#cp5)">
<rect x="20.90" y="101.50" width="169.60" height="50.50" fill="#e9e8ea"/>
<polygon points="20.9,127.0 190.5,126.0 190.5,142.8 97.0,142.4 60.0,140.6 20.9,139.6" fill="#f1f0f3" />
<polygon points="20.9,130.4 60.0,131.0 97.0,132.6 190.5,133.6 190.5,136.0 97.0,135.0 60.0,133.4 20.9,132.8" fill="#ded5e9" />
<rect x="20.90" y="133.00" width="169.60" height="9.60" fill="#000" filter="url(#spk)" opacity="0.2"/>
<polygon points="20.9,139.3 60.0,140.3 97.0,142.1 190.5,142.5 190.5,143.3 97.0,142.9 60.0,141.1 20.9,140.1" fill="#bcbbbe" />
<polygon points="20.9,118.5 35.0,116.8 52.0,115.3 75.0,115.6 97.0,117.4 108.0,116.0 113.0,115.3 125.0,117.0 150.0,118.8 170.0,118.4 190.5,117.3 190.5,132.6 160.0,133.6 130.0,133.8 97.0,130.0 52.0,126.4 20.9,128.0" fill="#b6a2d8" />
<polygon points="20.9,118.5 35.0,116.8 52.0,115.3 75.0,115.6 97.0,117.4 108.0,116.0 113.0,115.3 125.0,117.0 150.0,118.8 170.0,118.4 190.5,117.3 190.5,125.6 160.0,126.4 130.0,128.4 97.0,127.8 52.0,125.7 20.9,127.4" fill="#9f56ae" />
<polygon points="20.9,124.2 52.0,122.5 97.0,124.6 130.0,125.2 160.0,123.2 190.5,122.4 190.5,125.6 160.0,126.4 130.0,128.4 97.0,127.8 52.0,125.7 20.9,127.4" fill="#7650a6" opacity="0.55"/>
<polygon points="20.9,118.3 35.0,116.6 52.0,115.1 75.0,115.4 97.0,117.2 108.0,115.8 113.0,115.1 125.0,116.8 150.0,118.6 170.0,118.2 190.5,117.1 190.5,118.5 170.0,119.6 150.0,120.0 125.0,118.2 113.0,116.5 108.0,117.2 97.0,118.6 75.0,116.8 52.0,116.5 35.0,118.0 20.9,119.7" fill="#7e3f90" opacity="0.7"/>
<polygon points="20.9,118.5 35.0,116.8 52.0,115.3 75.0,115.6 97.0,117.4 108.0,116.0 113.0,115.3 125.0,117.0 150.0,118.8 170.0,118.4 190.5,117.3 190.5,125.6 160.0,126.4 130.0,128.4 97.0,127.8 52.0,125.7 20.9,127.4" fill="#000" filter="url(#tex_m)" opacity="0.5"/>
</g>
<rect x="25.00" y="149.30" width="21.90" height="2.40" fill="#000"/>
<text x="35.95" y="147.70" font-size="6.5" text-anchor="middle" fill="#111" >50 µm</text>
<rect x="97.70" y="113.40" width="51.00" height="24.10" fill="none" stroke="#1a1a1a" stroke-width="0.9"/>
<clipPath id="cp6"><rect x="94.30" y="138.40" width="96.10" height="38.90"/></clipPath>
<g clip-path="url(#cp6)">
<rect x="94.30" y="138.40" width="96.10" height="38.90" fill="#e8e6ea"/>
<polygon points="94.0,145.2 108.0,144.0 116.0,142.2 119.0,141.8 124.0,143.0 135.0,144.6 150.0,146.0 165.0,148.0 175.0,146.4 191.0,145.2 191.0,178.0 94.0,178.0" fill="#bcaade" />
<polygon points="94.0,145.2 108.0,144.0 116.0,142.2 119.0,141.8 124.0,143.0 135.0,144.6 150.0,146.0 165.0,148.0 175.0,146.4 191.0,145.2 191.0,160.0 150.0,159.6 120.0,157.0 94.0,158.0" fill="#a35bb2" />
<polygon points="94.0,157.0 120.0,156.0 150.0,158.6 191.0,159.0 191.0,164.0 150.0,163.6 120.0,161.0 94.0,162.0" fill="#a878c4" />
<polygon points="94.0,164.6 110.0,163.0 130.0,166.0 150.0,169.4 170.0,171.6 191.0,169.0 191.0,178.0 94.0,178.0" fill="#e6e0f0" />
<polygon points="94.0,144.9 108.0,143.7 116.0,141.9 119.0,141.5 124.0,142.7 135.0,144.3 150.0,145.7 165.0,147.7 175.0,146.1 191.0,144.9 191.0,146.8 175.0,148.0 165.0,149.6 150.0,147.6 135.0,146.2 124.0,144.6 119.0,143.4 116.0,143.8 108.0,145.6 94.0,146.8" fill="#6f3f94" opacity="0.7"/>
<polygon points="94.0,145.2 108.0,144.0 116.0,142.2 119.0,141.8 124.0,143.0 135.0,144.6 150.0,146.0 165.0,148.0 175.0,146.4 191.0,145.2 191.0,172.0 94.0,172.0" fill="#000" filter="url(#tex_l)" opacity="0.4"/>
<polygon points="94.0,146.7 108.0,145.5 116.0,143.7 119.0,143.3 124.0,144.5 135.0,146.1 150.0,147.5 165.0,149.5 175.0,147.9 191.0,146.7 191.0,176.0 94.0,176.0" fill="#000" filter="url(#hy_l)" opacity="0.8"/>
</g>
<rect x="94.30" y="138.40" width="96.10" height="38.90" fill="none" stroke="#1a1a1a" stroke-width="0.9"/>
<rect x="97.20" y="173.70" width="19.90" height="2.30" fill="#000"/>
<text x="107.15" y="172.10" font-size="6.5" text-anchor="middle" fill="#111" >25 µm</text>
<line x1="183.20" y1="149.80" x2="178.24" y2="158.94" stroke="#111" stroke-width="0.8" />
<polygon points="176.90,161.40 177.09,158.32 179.38,159.56" fill="#111"/>
<clipPath id="cp7"><rect x="193.20" y="101.40" width="170.70" height="50.00"/></clipPath>
<g clip-path="url(#cp7)">
<rect x="193.20" y="101.40" width="170.70" height="50.00" fill="#e9e8ea"/>
<polygon points="193.2,132.0 363.9,130.0 363.9,141.0 193.2,141.0" fill="#f2f1f4" />
<rect x="193.20" y="134.00" width="170.70" height="7.00" fill="#000" filter="url(#spk)" opacity="0.2"/>
<rect x="193.20" y="140.80" width="170.70" height="0.80" fill="#bfbec1" />
<polygon points="193.2,127.2 240.0,127.4 262.0,125.6 280.0,126.2 310.0,125.0 340.0,124.0 363.9,123.2 363.9,130.8 280.0,132.4 193.2,133.0" fill="#a98ed0" />
<polygon points="193.2,129.8 240.0,130.0 262.0,128.2 280.0,128.8 310.0,127.6 340.0,126.6 363.9,125.8 363.9,130.8 280.0,132.4 193.2,133.0" fill="#9272be" />
<polygon points="303.0,128.0 308.0,121.0 314.0,114.5 330.0,113.0 350.0,114.0 362.0,118.0 364.0,128.0" fill="#000" filter="url(#hy_s)" opacity="0.9"/>
<polygon points="313.0,126.0 315.0,116.0 330.0,114.0 348.0,115.0 351.0,126.0" fill="#000" filter="url(#hy_s)" opacity="0.9" transform="translate(2.2 0.9)"/>
<polygon points="316.0,125.0 318.0,116.0 332.0,114.5 346.0,116.0 348.0,125.0" fill="#000" filter="url(#hy_s)" opacity="0.8" transform="translate(-3.1 1.7)"/>
<g fill="none" stroke="#7a4590" stroke-width="0.7" stroke-linecap="round" opacity="0.85"><path d="M240.6,125.4 l3,3.2 M244.6,124.8 l-2.6,3.8 M242,127 l4.6,-0.8 M258.6,125.6 q4,-1.6 8,0.8 l3.4,2.6 M263,125 l2.4,3"/></g>
<path d="M296,123.6 q3,-2.6 5.6,-3.4 M306,120 q-2,3 -4,4.6" fill="none" stroke="#b79fd0" stroke-width="0.8" opacity="0.8"/>
</g>
<rect x="196.60" y="149.30" width="19.20" height="2.20" fill="#000"/>
<text x="206.20" y="147.70" font-size="6.5" text-anchor="middle" fill="#111" >50 µm</text>
<rect x="232.60" y="122.00" width="44.10" height="15.00" fill="none" stroke="#1a1a1a" stroke-width="0.9"/>
<clipPath id="cp8"><rect x="282.30" y="138.30" width="81.60" height="29.90"/></clipPath>
<g clip-path="url(#cp8)">
<rect x="282.30" y="138.30" width="81.60" height="29.90" fill="#e8e6ea"/>
<polygon points="282.0,148.4 290.0,147.0 300.0,147.8 318.0,148.0 328.0,146.2 333.0,145.2 345.0,146.6 364.0,147.6 364.0,160.4 282.0,160.6" fill="#aa90d3" />
<polygon points="282.0,153.4 290.0,152.0 300.0,152.8 318.0,153.0 328.0,151.2 333.0,150.2 345.0,151.6 364.0,152.6 364.0,159.4 282.0,159.6" fill="#9676c4" />
<rect x="282.00" y="160.50" width="82.00" height="7.90" fill="#f3f2f4" />
<g fill="none" stroke="#6a3a90" stroke-width="1.3" stroke-linecap="round" opacity="0.9"><path d="M291,150 q3,1 5,4 t5,5 M303.6,150.6 q-4,2 -6,5 t-4,3 M292,155 q4,-2 8,0 M296,149.4 q3,4 2,9"/><path d="M329.4,148 q8,-3 14,0 t13,6 M343,149 q4,3 7,6 M338,150 q2,4 6,5.5"/></g>
</g>
<rect x="282.30" y="138.30" width="81.60" height="29.90" fill="none" stroke="#1a1a1a" stroke-width="0.9"/>
<rect x="284.20" y="164.40" width="19.90" height="2.30" fill="#000"/>
<text x="294.15" y="163.00" font-size="6.5" text-anchor="middle" fill="#111" >25 µm</text>
<line x1="314.40" y1="140.60" x2="308.61" y2="150.48" stroke="#111" stroke-width="0.8" />
<polygon points="307.20,152.90 307.49,149.83 309.74,151.14" fill="#111"/>
<line x1="328.20" y1="158.20" x2="338.73" y2="152.61" stroke="#111" stroke-width="0.8" />
<polygon points="341.20,151.30 339.34,153.76 338.12,151.46" fill="#111"/>
<clipPath id="cp9"><rect x="21.60" y="183.00" width="169.30" height="58.20"/></clipPath>
<g clip-path="url(#cp9)">
<rect x="21.60" y="183.00" width="169.30" height="58.20" fill="#e9e8ea"/>
<polygon points="21.6,200.5 60.0,199.9 110.0,200.5 150.0,201.1 190.9,200.1 190.9,228.0 170.0,227.4 150.0,224.4 110.0,221.6 70.0,218.8 45.0,220.6 21.6,221.4" fill="#eceaef" />
<polygon points="21.6,193.4 60.0,192.8 110.0,193.6 150.0,194.4 190.9,193.0 190.9,200.6 150.0,201.6 110.0,201.0 60.0,200.4 21.6,201.0" fill="#8a66b6" />
<polygon points="21.6,193.1 60.0,192.5 110.0,193.3 150.0,194.1 190.9,192.7 190.9,194.6 150.0,196.0 110.0,195.2 60.0,194.4 21.6,195.0" fill="#8460ac" />
<polygon points="21.6,197.0 60.0,196.4 110.0,197.2 150.0,198.0 190.9,196.6 190.9,198.0 150.0,199.4 110.0,198.6 60.0,197.8 21.6,198.4" fill="#b49fd2" />
<polygon points="21.6,193.4 60.0,192.8 110.0,193.6 150.0,194.4 190.9,193.0 190.9,200.6 150.0,201.6 110.0,201.0 60.0,200.4 21.6,201.0" fill="#000" filter="url(#tex_m)" opacity="0.4"/>
<polygon points="21.6,193.4 60.0,192.8 110.0,193.6 150.0,194.4 190.9,193.0 190.9,200.6 150.0,201.6 110.0,201.0 60.0,200.4 21.6,201.0" fill="#000" filter="url(#web_s2)" opacity="0.5" transform="translate(1.5 -6)"/>
<polygon points="21.6,200.4 60.0,199.8 110.0,200.4 150.0,201.0 190.9,200.0 190.9,228.0 170.0,227.4 150.0,224.4 110.0,221.6 70.0,218.8 45.0,220.6 21.6,221.4" fill="#000" filter="url(#web_s)"/>
<polygon points="21.6,200.4 60.0,199.8 110.0,200.4 150.0,201.0 190.9,200.0 190.9,225.5 170.0,224.9 150.0,221.9 110.0,219.1 70.0,216.3 45.0,218.1 21.6,218.9" fill="#000" filter="url(#web_s2)" opacity="0.6"/>
<polygon points="21.6,204.0 60.0,203.4 110.0,204.0 150.0,204.6 190.9,203.6 190.9,221.0 170.0,220.4 150.0,217.4 110.0,214.6 70.0,211.8 45.0,213.6 21.6,214.4" fill="#000" filter="url(#cl_d)" opacity="0.28"/>
<rect x="21.60" y="190.60" width="169.30" height="3.40" fill="#000" filter="url(#web_s2)" opacity="0.3"/>
<polygon points="26.0,222.0 60.0,222.0 52.0,231.0 30.0,232.0" fill="#000" filter="url(#web_s2)" opacity="0.8"/>
</g>
<rect x="25.00" y="238.20" width="21.40" height="2.60" fill="#000"/>
<text x="35.70" y="237.00" font-size="6.5" text-anchor="middle" fill="#111" >50 µm</text>
<clipPath id="cp10"><rect x="101.30" y="232.60" width="89.70" height="48.90"/></clipPath>
<g clip-path="url(#cp10)">
<rect x="101.30" y="232.60" width="89.70" height="48.90" fill="#f1eff3"/>
<rect x="101.00" y="232.00" width="90.00" height="6.00" fill="#e6e3e9" />
<polygon points="101.0,236.8 120.0,236.4 150.0,237.4 191.0,238.4 191.0,253.6 160.0,252.0 130.0,250.8 101.0,250.6" fill="#9374bd" />
<polygon points="101.0,236.4 120.0,236.0 150.0,237.0 191.0,238.0 191.0,240.8 150.0,239.8 120.0,238.8 101.0,239.2" fill="#7d55a8" />
<polygon points="101.0,241.8 120.0,241.4 150.0,242.4 191.0,243.4 191.0,246.9 150.0,245.9 120.0,244.9 101.0,245.3" fill="#ab92cf" />
<polygon points="101.0,236.8 120.0,236.4 150.0,237.4 191.0,238.4 191.0,253.6 160.0,252.0 130.0,250.8 101.0,250.6" fill="#000" filter="url(#tex_l)" opacity="0.55"/>
<polygon points="101.0,249.1 130.0,249.3 160.0,250.5 191.0,252.1 191.0,282.0 101.0,282.0" fill="#000" filter="url(#web_l)"/>
<polygon points="101.0,249.1 130.0,249.3 160.0,250.5 191.0,252.1 191.0,282.0 101.0,282.0" fill="#000" filter="url(#web_l2)"/>
<polygon points="101.0,249.1 130.0,249.3 160.0,250.5 191.0,252.1 191.0,282.0 101.0,282.0" fill="#000" filter="url(#web_l)" opacity="0.85" transform="translate(11 6)"/>
<polygon points="150.0,252.0 191.0,253.0 191.0,282.0 150.0,282.0" fill="#000" filter="url(#web_l2)" opacity="0.8" transform="translate(-7 3)"/>
</g>
<rect x="101.30" y="232.60" width="89.70" height="48.90" fill="none" stroke="#1a1a1a" stroke-width="0.9"/>
<rect x="103.70" y="276.00" width="19.20" height="2.50" fill="#000"/>
<text x="113.30" y="274.30" font-size="6.5" text-anchor="middle" fill="#111" stroke="#fff" stroke-width="0.9" stroke-opacity="0.55" paint-order="stroke">25 µm</text>
<line x1="184.80" y1="245.40" x2="179.02" y2="255.19" stroke="#111" stroke-width="0.8" />
<polygon points="177.60,257.60 177.90,254.53 180.14,255.85" fill="#111"/>
<clipPath id="cp11"><rect x="193.30" y="183.00" width="170.50" height="58.30"/></clipPath>
<g clip-path="url(#cp11)">
<rect x="193.30" y="183.00" width="170.50" height="58.30" fill="#e9e8ea"/>
<polygon points="193.3,212.6 215.0,211.8 235.0,211.6 260.0,213.6 290.0,214.4 320.0,213.0 335.0,212.2 363.8,213.6 363.8,222.6 193.3,221.6" fill="#cbb8e0" />
<polygon points="193.3,219.6 363.8,220.6 363.8,229.6 330.0,230.4 290.0,229.6 240.0,231.2 193.3,231.0" fill="#c4b0dc" />
<path d="M219.2 229.9h0M307.8 221.0h0M232.9 222.9h0M312.4 223.6h0M219.0 223.2h0M271.8 225.0h0M360.0 224.6h0M297.1 222.3h0M244.5 224.4h0M225.3 224.7h0M340.6 223.6h0M288.6 229.9h0M306.3 225.5h0M283.2 223.5h0M271.9 226.4h0M271.9 222.1h0M307.1 227.7h0M324.1 224.5h0M312.9 222.3h0M348.6 228.4h0M222.2 221.3h0M211.6 229.1h0M223.8 229.9h0M342.5 230.0h0M216.4 228.2h0M311.7 222.1h0M338.5 222.2h0M197.1 223.7h0M250.1 221.0h0M209.3 226.2h0M245.3 226.3h0M355.2 219.9h0M333.6 222.3h0M247.9 226.1h0M356.2 220.7h0M273.0 226.1h0M213.2 221.2h0M275.9 227.6h0M209.6 226.7h0M320.8 228.7h0M253.8 230.0h0M347.5 228.0h0M196.1 219.0h0M256.6 226.7h0M215.7 222.9h0M277.7 229.1h0M320.0 227.6h0M238.9 224.0h0M225.6 229.0h0M243.6 224.2h0M360.1 223.5h0M361.5 224.9h0M203.4 227.9h0M255.8 222.3h0M267.7 221.0h0M278.3 224.5h0M295.2 226.1h0M206.7 224.1h0M262.5 226.0h0M243.7 222.6h0M313.0 221.9h0M246.9 229.0h0M219.5 220.5h0M337.9 228.1h0M227.9 220.1h0M300.2 225.3h0M282.2 223.8h0M196.8 218.7h0M314.1 228.2h0M244.5 223.8h0M207.4 225.7h0M277.9 224.4h0M216.8 229.1h0M197.0 225.1h0M360.3 220.6h0M339.0 229.6h0M350.6 221.3h0M236.1 220.6h0M249.2 221.2h0M329.0 230.5h0M334.9 224.0h0M333.3 230.2h0M216.0 225.9h0M305.8 228.6h0M204.3 224.5h0M257.0 226.2h0M360.9 220.4h0M305.3 226.2h0M309.1 229.3h0M224.5 222.2h0M312.2 225.7h0M273.5 226.8h0M329.8 223.4h0M337.2 224.1h0M219.4 227.4h0M277.0 227.5h0M274.9 224.1h0M306.9 222.7h0M327.9 219.0h0M302.9 222.4h0M245.0 227.6h0M278.2 223.0h0M312.5 228.5h0M328.1 221.3h0M239.9 225.5h0M295.9 226.4h0M234.2 221.5h0M239.7 223.7h0M294.0 221.8h0M295.6 224.0h0M352.0 229.0h0M305.4 221.4h0M216.1 224.1h0M352.5 225.8h0M196.6 223.7h0M315.4 224.0h0M250.2 225.5h0M239.3 226.9h0M332.4 227.1h0M317.3 219.4h0M257.5 219.9h0M252.9 219.7h0M294.9 225.6h0M326.9 229.0h0M300.2 224.2h0M309.9 223.0h0M350.3 226.4h0M243.8 228.3h0M343.8 228.1h0M347.0 225.7h0M237.5 222.0h0M231.7 221.5h0M233.1 230.4h0M216.2 225.9h0M293.8 228.2h0M284.9 220.5h0M280.2 227.7h0M205.6 223.5h0M260.2 228.0h0M194.5 222.1h0M236.9 224.9h0M245.0 221.9h0M271.1 224.7h0M283.3 221.8h0M334.8 226.7h0M277.8 224.3h0M297.1 226.0h0M247.4 221.1h0M355.6 221.1h0M308.9 222.8h0M361.4 226.8h0M292.2 226.0h0M326.6 229.7h0M276.6 222.4h0M242.8 222.6h0M316.0 228.8h0M217.7 221.3h0M244.0 224.2h0M249.9 220.5h0M291.3 222.7h0M325.2 226.8h0M237.9 229.5h0M244.0 222.3h0M239.9 222.3h0M322.4 228.8h0M326.3 229.4h0M354.4 220.1h0M333.6 229.9h0M316.3 222.7h0M272.5 227.4h0M281.1 222.4h0M312.2 226.6h0M322.0 225.9h0M285.2 226.8h0M267.3 228.9h0M352.6 223.8h0M195.0 228.7h0M243.1 223.0h0M242.6 227.1h0M289.6 220.7h0M343.8 222.7h0M201.2 220.7h0M286.4 229.2h0M285.8 228.9h0M307.7 224.2h0M348.6 219.1h0M325.4 219.9h0M339.6 226.7h0M194.1 220.6h0M278.9 228.2h0M264.5 227.1h0M298.6 230.6h0M328.4 221.8h0M237.3 220.1h0M353.1 222.2h0M214.9 225.6h0M334.5 222.7h0M316.5 219.5h0M211.3 227.0h0M315.6 220.8h0M302.4 230.6h0M258.5 227.9h0M275.1 221.8h0M360.4 224.8h0M322.9 224.1h0M330.8 229.3h0M289.8 226.8h0M212.3 225.4h0M278.2 224.3h0M281.5 222.6h0M324.9 229.2h0M322.8 228.2h0M314.2 224.9h0M343.1 220.6h0M317.5 220.0h0M281.4 227.7h0M337.9 222.6h0M270.2 220.7h0M277.3 224.3h0M277.0 223.7h0M347.6 229.7h0M212.3 222.6h0M310.2 229.6h0M202.8 226.9h0M301.3 223.3h0M276.4 222.4h0M194.3 225.2h0M311.7 224.3h0M226.2 220.2h0M205.7 221.3h0M298.9 223.1h0M361.6 223.7h0M256.7 223.5h0M333.7 227.9h0M260.7 227.5h0M202.8 229.3h0M225.4 230.6h0M244.5 223.2h0M205.4 222.5h0M253.0 223.1h0M325.3 222.6h0M264.0 224.7h0M283.0 227.2h0M281.9 226.6h0M202.8 221.0h0M252.4 221.8h0M322.9 221.1h0M293.7 230.3h0M350.1 228.8h0M349.4 220.3h0M240.3 221.0h0M238.2 223.9h0M194.0 227.8h0M284.7 221.6h0M278.9 224.2h0M289.2 223.4h0M228.8 224.6h0M354.1 228.8h0M275.7 224.2h0M305.7 221.1h0M245.0 222.3h0M248.9 229.4h0M348.4 222.9h0M360.4 224.3h0" fill="none" stroke="#5f2d86" stroke-width="1.6" stroke-linecap="round" opacity="0.93"/>
<path d="M339.3 230.9h0M227.0 223.7h0M295.7 230.3h0M356.6 222.7h0M275.3 221.7h0M234.1 222.3h0M314.8 224.4h0M331.7 228.0h0M278.6 229.1h0M219.9 224.5h0M243.5 227.0h0M254.5 222.8h0M225.6 224.3h0M294.2 219.7h0M299.9 222.6h0M212.3 223.5h0M327.5 223.3h0M272.5 227.5h0M256.3 229.1h0M234.1 219.8h0M350.8 222.0h0M310.6 229.7h0M264.8 228.3h0M335.7 227.0h0M265.4 226.8h0M248.4 227.3h0M277.1 221.7h0M360.3 228.4h0M266.8 230.2h0M215.7 225.6h0M266.5 226.7h0M346.0 229.7h0M352.6 218.5h0M335.3 223.1h0M270.5 224.8h0M231.6 220.2h0M356.6 220.2h0M251.9 224.3h0M227.8 222.0h0M324.4 228.9h0M269.5 227.5h0M222.8 222.5h0M230.0 226.6h0M277.3 226.1h0M357.4 221.4h0M229.3 227.7h0M286.1 226.1h0M209.6 222.8h0M302.4 230.8h0M281.9 222.8h0M283.8 227.0h0M321.7 226.6h0M255.3 227.7h0M287.0 220.5h0M250.1 222.8h0M228.0 220.0h0M265.2 228.3h0M222.8 224.1h0M276.2 227.7h0M337.8 225.4h0M211.9 227.6h0M243.0 223.7h0M284.5 226.8h0M362.3 229.3h0M246.3 229.3h0M220.2 221.4h0M340.3 228.9h0M200.8 226.4h0M256.4 223.7h0M255.3 227.8h0M362.2 227.5h0M304.6 222.4h0M246.5 224.3h0M226.8 221.5h0M208.3 219.6h0M333.5 224.8h0M220.5 226.9h0M243.5 224.6h0M315.2 222.9h0M219.8 223.0h0M272.4 226.5h0M237.6 223.9h0M211.2 222.3h0M244.9 228.7h0M251.4 224.5h0M258.4 229.0h0M348.8 221.5h0M282.4 223.1h0M306.4 221.0h0M316.4 220.1h0M336.0 221.1h0M320.4 224.1h0M243.8 224.0h0M323.8 221.8h0M212.3 228.6h0M253.5 228.8h0M194.0 228.8h0M265.0 223.5h0M212.4 225.5h0M329.9 222.9h0M285.4 220.1h0M255.6 226.7h0M263.3 228.6h0M355.9 219.9h0M295.0 224.2h0M325.1 229.8h0M299.1 222.1h0M287.3 225.2h0M245.5 222.8h0M232.5 229.4h0M261.4 220.2h0M302.4 223.8h0M320.4 225.8h0M266.6 228.5h0M342.0 224.2h0M356.0 220.7h0M347.4 225.4h0M244.8 226.8h0M224.0 220.6h0M266.2 228.9h0M238.8 222.5h0M247.6 224.9h0M239.6 229.0h0M229.1 224.0h0M295.6 221.9h0M324.5 227.5h0M332.9 222.8h0M234.4 220.2h0M248.3 224.8h0M258.8 228.6h0M286.3 227.3h0M352.7 222.8h0M322.6 227.5h0M224.7 228.6h0M291.3 224.6h0M259.9 224.3h0M200.7 225.7h0M247.5 224.6h0M215.2 222.7h0M195.1 225.6h0M246.7 227.3h0M201.1 225.6h0M358.7 222.5h0M206.9 223.1h0M341.9 230.3h0M359.5 224.1h0M262.3 228.2h0M303.9 230.6h0M338.7 226.3h0M309.3 223.6h0M247.4 227.3h0M284.5 226.6h0M283.3 223.4h0M340.9 226.3h0M243.3 222.8h0M331.8 224.1h0M325.8 224.1h0M257.1 226.3h0M344.3 227.0h0M325.1 229.7h0M236.9 221.1h0M338.6 229.8h0M362.5 225.6h0M247.8 222.9h0M292.1 226.1h0M347.3 225.4h0M236.9 225.4h0M221.9 221.7h0M286.8 228.0h0M250.6 226.9h0M226.0 229.6h0M346.5 229.9h0M322.2 227.0h0M274.1 227.1h0M354.0 219.7h0M296.4 223.3h0M340.6 221.1h0M267.1 224.0h0M269.0 229.9h0M319.7 223.3h0M304.5 228.2h0M357.9 222.7h0M282.1 225.1h0M219.8 229.8h0M312.7 222.8h0M234.9 223.6h0M218.6 220.5h0M231.6 225.5h0M237.4 225.0h0M203.6 222.4h0M291.9 229.6h0M314.9 222.8h0M262.2 220.9h0M359.9 222.0h0M219.9 226.1h0M336.5 227.5h0M289.8 219.4h0M310.9 229.5h0M310.8 227.6h0M224.8 230.8h0M269.2 220.5h0M355.3 223.5h0M329.0 220.8h0M318.0 223.0h0M265.1 230.5h0M229.8 230.0h0M343.5 224.4h0M219.9 223.2h0M195.6 222.0h0M360.0 226.7h0M315.4 221.9h0M240.1 221.8h0M326.1 226.1h0M316.9 225.3h0M287.1 220.8h0M239.0 218.8h0M242.4 223.9h0M252.2 224.8h0M256.3 229.3h0M226.2 230.8h0M266.6 219.9h0M279.0 225.6h0M318.6 218.9h0M325.0 226.1h0M243.4 222.8h0M238.9 229.6h0M256.8 228.6h0M347.2 219.0h0M322.6 228.8h0M302.0 224.6h0M330.7 223.6h0M323.8 224.3h0M290.6 220.0h0M250.1 220.0h0M244.7 225.4h0M273.8 223.7h0M257.3 229.4h0M259.3 228.4h0M262.1 224.3h0M317.3 221.5h0M302.6 229.7h0M256.9 223.1h0M215.0 221.6h0M323.5 221.8h0M326.8 223.4h0M265.0 219.2h0M257.4 220.6h0" fill="none" stroke="#6d3692" stroke-width="1.6" stroke-linecap="round" opacity="0.93"/>
<path d="M315.0 221.2h0M315.8 222.1h0M310.9 229.6h0M301.3 224.2h0M224.9 228.4h0M278.6 226.6h0M320.4 227.7h0M286.0 228.5h0M246.9 224.1h0M198.1 222.4h0M337.2 227.6h0M287.8 220.4h0M352.7 227.7h0M307.8 228.8h0M313.5 228.2h0M317.6 219.0h0M199.5 223.9h0M243.7 226.6h0M200.5 224.5h0M286.2 220.8h0M287.5 225.4h0M285.2 228.8h0M270.9 220.0h0M327.9 229.9h0M198.4 222.5h0M279.1 225.2h0M223.1 228.4h0M295.3 229.1h0M334.7 227.3h0M262.0 226.5h0M251.5 221.5h0M302.3 221.1h0M272.3 228.9h0M280.1 227.9h0M236.9 222.1h0M232.6 224.2h0M214.7 228.0h0M247.2 223.4h0M211.0 228.2h0M244.6 228.2h0M262.1 225.3h0M218.3 226.3h0M301.9 226.8h0M340.3 229.1h0M239.3 220.1h0M317.6 220.9h0M205.1 222.9h0M266.8 229.4h0M285.2 228.7h0M259.6 224.8h0M204.3 228.0h0M273.2 228.5h0M292.5 222.7h0M336.9 223.8h0M233.7 223.3h0M236.0 222.1h0M231.1 228.4h0M315.5 222.3h0M300.6 222.3h0M299.6 227.9h0M248.4 224.3h0M350.8 222.7h0M210.5 225.2h0M300.4 226.5h0M195.3 225.0h0M251.1 221.6h0M223.6 225.3h0M267.3 223.6h0M278.8 223.5h0M214.1 226.3h0M247.1 224.9h0M288.8 223.6h0M240.7 225.2h0M266.1 220.1h0M283.9 225.8h0M214.3 229.0h0M313.5 227.1h0M317.6 227.1h0M206.6 226.6h0M268.0 224.2h0M243.8 221.7h0M248.7 223.2h0M195.2 225.1h0M303.6 228.5h0M238.6 222.8h0M343.2 227.9h0M344.0 222.0h0M257.7 220.6h0M303.3 228.5h0M281.4 222.7h0M356.0 227.7h0M265.2 229.6h0M309.5 224.9h0M286.1 228.2h0M344.6 220.9h0M343.0 229.1h0M248.5 226.0h0M245.5 222.1h0M294.2 223.0h0M361.3 224.9h0M206.7 227.3h0M342.8 230.4h0M303.2 221.7h0M300.0 223.8h0M209.3 229.0h0M313.2 228.3h0M245.3 223.1h0M296.0 226.9h0M260.5 218.0h0M234.3 222.9h0M197.5 223.6h0M269.1 223.1h0M194.5 219.2h0M245.2 223.1h0M283.6 225.1h0M351.9 221.0h0M256.8 226.3h0M288.1 224.6h0M211.8 225.5h0M320.3 223.0h0M210.2 229.3h0M285.9 227.3h0M308.0 224.9h0M271.0 229.7h0M310.8 227.2h0M260.3 218.2h0M200.2 228.7h0M290.1 222.9h0M242.6 223.0h0M337.8 229.9h0M251.7 227.4h0M222.7 225.9h0M199.9 224.2h0M363.4 221.1h0M348.5 226.9h0M221.8 229.1h0M276.4 228.4h0M213.5 222.2h0M206.8 222.5h0M352.3 224.2h0M286.3 228.6h0M268.2 221.9h0M233.0 224.2h0M279.0 221.8h0M233.6 222.4h0M263.5 220.2h0M222.9 226.8h0M213.7 223.2h0M216.6 230.2h0M261.5 218.7h0M229.3 228.6h0M244.4 225.6h0M269.7 220.9h0M310.8 221.5h0M269.5 229.0h0M271.7 229.5h0M208.8 222.7h0M336.2 222.5h0M311.0 222.3h0M244.7 226.9h0M206.0 220.9h0M337.8 229.3h0M197.3 218.8h0M340.7 224.4h0M223.3 224.5h0M337.6 223.0h0M274.1 227.8h0M264.6 226.2h0M344.7 220.3h0M354.1 225.5h0M210.2 220.5h0M346.1 222.8h0M292.7 218.3h0M255.8 225.0h0M290.3 225.4h0M227.5 228.0h0M244.0 223.4h0M227.4 223.5h0M231.2 227.5h0M344.8 224.3h0M231.6 220.1h0M312.0 225.6h0M353.6 223.3h0M302.6 221.5h0M346.4 224.3h0M277.7 223.3h0M315.5 219.8h0M312.8 229.5h0M354.0 227.6h0M308.9 222.4h0M202.7 223.9h0M344.5 223.0h0M276.9 224.2h0M301.8 230.2h0M303.7 230.1h0M231.5 224.7h0M313.6 227.5h0M348.4 225.7h0M247.3 229.0h0M241.5 222.5h0M293.7 225.4h0M206.2 223.6h0M274.7 225.0h0M193.6 224.8h0M239.1 226.0h0M201.8 226.8h0M358.2 227.1h0M274.4 222.6h0M316.0 222.3h0M311.3 227.9h0M234.2 223.9h0M263.5 218.6h0M313.8 227.5h0M206.5 225.7h0M256.8 222.7h0M210.0 227.9h0M265.3 224.1h0M194.6 227.2h0M349.8 220.6h0M263.4 228.8h0M351.3 224.4h0M363.0 227.1h0M310.0 229.0h0M351.1 226.9h0M229.4 230.0h0M306.3 223.2h0M340.3 221.6h0M201.1 227.7h0M209.8 219.9h0M363.5 229.5h0M202.5 227.1h0M284.3 223.5h0M213.1 229.5h0M359.6 222.0h0M240.3 225.0h0M283.1 227.3h0M267.8 228.5h0M315.2 220.8h0M260.6 225.8h0M267.3 226.2h0M306.1 222.2h0M318.7 223.8h0M230.8 221.6h0M267.5 224.9h0M216.6 223.5h0M290.2 222.5h0M362.7 225.7h0M328.6 224.5h0M275.6 226.9h0M198.8 229.8h0M279.3 228.8h0M275.1 221.1h0M223.6 227.7h0M266.5 222.2h0M249.5 229.7h0M339.4 220.4h0M357.7 221.5h0M361.4 221.1h0M243.5 228.7h0M296.9 223.7h0M207.7 226.2h0M362.6 227.5h0M312.2 222.0h0M329.3 224.4h0M272.9 225.3h0M253.5 228.4h0M298.4 226.0h0M216.2 223.9h0M262.4 221.9h0M286.4 228.7h0M292.8 225.1h0M255.6 223.9h0M302.7 230.2h0" fill="none" stroke="#7a3f98" stroke-width="1.6" stroke-linecap="round" opacity="0.93"/>
<path d="M233.9 225.3h0M363.1 224.8h0M244.7 221.7h0M294.7 229.8h0M216.5 222.4h0M326.1 228.4h0M241.9 220.5h0M299.0 230.4h0M301.4 228.1h0M356.1 219.9h0M250.7 226.3h0M194.1 230.0h0M251.5 222.2h0M333.7 221.4h0M214.4 225.9h0M299.5 225.0h0M322.9 222.5h0M214.0 227.2h0M312.7 229.1h0M353.4 224.6h0M264.1 225.6h0M209.6 227.0h0M344.9 223.3h0M275.6 228.4h0M275.4 227.1h0M194.5 222.9h0M206.6 225.3h0M353.8 222.8h0M211.8 225.8h0M315.3 226.8h0M256.3 223.1h0M199.6 224.5h0M197.7 225.7h0M330.8 230.0h0M331.0 223.3h0M227.5 230.7h0M279.8 225.6h0M333.3 226.2h0M342.4 230.5h0M256.0 222.0h0M219.4 228.2h0M355.3 219.6h0M270.0 222.6h0M355.9 226.8h0M346.2 229.1h0M309.9 229.9h0M198.5 225.2h0M210.8 226.5h0M246.4 224.2h0M353.9 229.0h0M218.9 227.5h0M360.4 221.8h0M283.8 227.9h0M272.4 225.2h0M195.3 223.0h0M256.8 226.9h0M334.5 229.5h0M251.1 225.6h0M213.3 222.6h0M204.6 218.4h0M300.9 221.8h0M343.6 222.7h0M211.0 224.7h0M309.9 225.8h0M292.0 221.7h0M211.7 225.5h0M248.5 222.0h0M222.7 224.8h0M287.6 223.1h0M289.8 225.5h0M237.2 224.9h0M309.3 221.8h0M314.0 225.1h0M358.9 220.3h0M351.3 224.6h0M278.5 225.3h0M252.0 222.7h0M309.4 223.1h0M265.2 227.5h0M304.2 228.1h0M363.5 220.9h0M257.6 228.8h0M279.1 224.8h0M220.2 227.6h0M291.9 228.4h0M255.7 220.1h0M302.6 225.8h0M284.8 229.2h0M294.6 223.1h0M295.7 222.8h0M283.6 227.6h0M311.1 228.2h0M326.8 220.5h0M358.5 221.7h0M276.1 222.7h0M360.4 227.2h0M334.1 224.8h0M317.3 220.3h0M237.2 229.0h0M234.2 226.7h0M263.4 221.9h0M214.7 228.2h0M197.9 223.0h0M314.3 229.3h0M247.9 225.9h0M309.7 222.8h0M234.4 224.8h0M343.3 221.2h0M270.7 225.7h0M221.0 221.7h0M200.6 224.2h0M322.0 223.1h0M250.1 220.8h0M299.8 226.0h0M310.4 226.2h0M214.9 222.7h0M194.8 223.6h0M281.1 220.6h0M306.0 228.7h0M288.0 226.5h0M348.1 228.8h0M207.2 218.5h0M246.1 226.4h0M254.4 228.4h0M363.2 227.6h0M333.1 228.2h0M216.8 223.8h0M322.4 228.2h0M255.4 227.8h0M339.0 224.7h0M344.8 230.1h0M194.9 221.0h0M273.7 228.6h0M205.6 225.2h0M302.0 230.5h0M280.7 222.4h0M322.2 228.0h0M311.1 223.5h0M266.2 227.7h0M281.0 225.1h0M257.3 227.3h0M328.8 224.3h0M320.4 229.2h0M223.8 224.7h0M266.2 224.0h0M278.0 225.0h0M303.4 222.4h0M199.6 222.0h0M337.4 229.4h0M272.0 221.0h0M335.3 221.3h0M356.3 222.4h0M272.4 229.3h0M297.8 227.8h0M266.0 228.3h0M197.5 218.9h0M287.9 222.2h0M237.0 228.6h0M324.9 223.0h0M262.9 219.1h0M277.7 228.1h0M274.3 221.5h0M259.7 222.2h0M276.5 221.8h0M314.7 225.4h0M358.3 228.1h0M232.7 226.1h0M245.4 224.6h0M226.0 230.2h0M227.6 224.3h0M218.1 227.3h0M291.6 228.3h0M298.2 224.9h0M341.2 221.1h0M339.1 220.2h0M289.5 229.1h0M298.0 223.4h0M254.8 229.1h0M278.8 227.0h0M262.3 220.9h0M207.8 227.9h0M223.8 225.4h0M258.5 229.2h0M261.1 220.5h0M232.3 229.9h0M195.4 219.0h0M193.9 225.5h0M362.0 221.4h0M343.5 230.4h0M265.3 220.2h0M291.0 227.8h0M331.2 220.5h0M198.0 220.0h0M213.1 222.2h0M218.0 229.2h0M209.0 223.6h0M349.5 227.8h0M357.1 227.9h0M198.9 223.7h0M327.0 222.0h0M337.7 222.2h0M263.0 222.9h0M218.1 221.1h0M197.9 219.1h0M279.0 223.1h0M236.5 228.9h0M213.6 225.3h0M244.9 226.7h0M280.2 228.1h0M269.1 222.7h0M214.8 227.8h0M252.8 224.6h0M231.8 225.1h0M305.0 222.1h0M326.2 218.5h0M260.8 227.6h0M223.7 221.2h0M337.4 230.6h0M256.7 227.0h0M340.9 227.0h0M354.6 220.7h0M341.5 230.1h0M281.6 220.6h0M296.3 230.7h0M218.7 229.4h0M256.7 225.3h0M195.3 228.6h0M323.6 224.4h0M337.2 224.9h0M231.5 221.6h0M305.8 221.4h0M331.4 227.3h0M247.9 226.8h0M236.6 224.3h0M203.0 224.2h0M351.4 226.2h0M334.3 228.4h0M262.6 228.0h0M292.8 225.0h0M332.1 222.5h0M295.7 229.1h0M337.4 230.4h0M335.3 223.0h0M231.4 224.6h0M256.7 228.4h0M267.0 225.2h0M260.5 227.4h0M275.3 228.2h0M278.6 227.2h0M325.3 229.0h0M235.3 228.8h0M299.1 225.1h0M268.8 225.2h0M299.6 223.4h0M267.6 221.2h0M234.4 228.6h0M342.7 222.3h0M250.4 224.9h0M234.9 224.2h0M286.6 229.6h0M301.0 227.9h0M275.5 222.9h0M318.8 224.8h0M350.6 224.6h0M288.6 223.5h0M221.0 225.7h0" fill="none" stroke="#532578" stroke-width="1.6" stroke-linecap="round" opacity="0.93"/>
<path d="M354.0 218.8h0M339.9 213.7h0M246.0 217.0h0M304.3 215.1h0M305.8 220.2h0M284.1 214.7h0M281.7 219.4h0M314.0 217.7h0M349.6 219.8h0M201.6 218.8h0M201.6 219.5h0M276.8 220.0h0M215.7 213.6h0M324.5 215.4h0M346.1 218.3h0M268.7 219.1h0M242.0 213.7h0M254.2 219.6h0M284.1 220.3h0M255.8 219.3h0M218.3 216.2h0M355.7 214.9h0M345.6 218.0h0M318.8 219.1h0M248.6 215.1h0M309.9 217.1h0M277.0 220.0h0M278.3 218.0h0M201.9 216.8h0M209.0 216.4h0M332.8 213.7h0M326.0 215.8h0M243.4 219.8h0M196.9 215.7h0M333.8 216.5h0M284.8 218.1h0M200.6 218.7h0M278.9 220.0h0M222.7 215.2h0M211.7 217.3h0M272.8 213.2h0M294.9 216.9h0M339.5 214.5h0M244.1 219.7h0M349.2 217.5h0M328.1 218.6h0M288.4 217.1h0M333.3 220.3h0M224.4 216.8h0M248.8 215.1h0M281.8 213.0h0M245.1 216.5h0M358.7 217.2h0M209.7 216.3h0M361.8 219.6h0M199.3 220.3h0M333.4 216.6h0M266.0 214.1h0M200.4 214.7h0M255.6 220.5h0M262.5 218.4h0M258.7 217.7h0M310.5 213.7h0M298.1 214.1h0M290.1 220.1h0M226.5 213.1h0M307.0 218.7h0" fill="none" stroke="#5f2d86" stroke-width="1.4" stroke-linecap="round" opacity="0.88"/>
<path d="M235.8 218.4h0M329.2 213.4h0M221.7 215.1h0M257.5 219.5h0M361.5 217.2h0M243.6 216.6h0M347.1 214.8h0M310.7 220.3h0M331.9 217.6h0M220.0 215.8h0M272.5 215.3h0M339.7 219.4h0M203.1 217.8h0M308.9 215.8h0M233.3 215.4h0M202.4 215.1h0M242.9 218.2h0M204.7 220.5h0M350.4 218.0h0M265.5 218.8h0M345.3 220.5h0M254.4 215.2h0M267.3 216.3h0M228.7 212.2h0M289.2 215.7h0M335.1 216.6h0M358.5 213.8h0M346.3 218.5h0M358.5 218.3h0M355.4 214.5h0M198.5 214.6h0M247.6 219.5h0M194.3 220.4h0M213.2 217.0h0M267.0 214.4h0M349.4 216.6h0M258.3 219.8h0M321.8 215.4h0M238.2 217.0h0M315.4 214.8h0M294.2 219.7h0M305.4 217.3h0M265.8 217.7h0M284.7 219.7h0M200.0 219.7h0M273.5 218.5h0M256.5 219.1h0M232.1 212.3h0M328.9 218.6h0M196.8 219.7h0M225.3 213.4h0M266.0 216.4h0M336.8 217.6h0M245.3 219.5h0M270.5 218.0h0M232.2 212.3h0M233.7 215.5h0M349.0 215.3h0M206.8 216.4h0" fill="none" stroke="#6d3692" stroke-width="1.4" stroke-linecap="round" opacity="0.88"/>
<path d="M249.9 219.3h0M223.3 214.6h0M337.4 213.2h0M272.2 217.2h0M208.5 215.9h0M293.5 213.9h0M335.7 214.9h0M338.5 216.7h0M307.8 217.0h0M244.9 217.4h0M315.7 215.8h0M339.2 219.5h0M243.6 217.1h0M294.6 218.8h0M346.6 217.1h0M335.9 218.2h0M221.5 218.1h0M288.0 217.9h0M234.0 219.5h0M333.2 213.7h0M335.8 215.1h0M226.6 216.3h0M346.1 216.3h0M338.0 214.3h0M305.2 218.1h0M222.2 212.9h0M204.5 215.3h0M232.7 215.8h0M292.3 218.8h0M205.6 218.9h0M211.9 218.4h0M260.4 215.1h0M303.8 218.9h0M236.3 213.9h0M294.6 217.6h0M264.8 219.0h0M298.5 215.3h0M258.4 218.1h0M245.5 219.5h0M268.9 219.9h0M354.2 216.1h0M265.0 219.3h0M305.3 217.8h0M267.4 215.3h0M324.2 218.0h0M314.1 216.4h0M320.0 218.1h0M317.2 219.6h0M238.4 217.2h0M272.0 213.3h0M294.0 214.9h0M204.8 214.7h0M266.9 214.8h0M212.3 219.7h0M352.6 214.4h0M274.4 214.0h0M204.4 214.9h0M247.4 218.1h0M231.1 215.9h0M286.3 213.5h0M239.3 214.1h0" fill="none" stroke="#7a3f98" stroke-width="1.4" stroke-linecap="round" opacity="0.88"/>
<path d="M360.6 217.4h0M211.5 216.8h0M317.7 216.5h0M252.6 218.3h0M283.6 213.8h0M264.3 217.8h0M226.3 212.6h0M266.9 214.7h0M264.1 215.7h0M361.9 215.4h0M266.6 219.1h0M316.5 220.3h0M349.8 215.1h0M195.0 214.1h0M211.6 217.4h0M321.1 213.1h0M193.4 216.6h0M304.7 214.6h0M220.8 215.0h0M353.2 218.5h0M326.6 212.6h0M317.0 219.8h0M246.4 214.4h0M242.1 216.0h0M350.3 219.2h0M246.5 216.4h0M231.6 212.8h0M250.5 216.5h0M243.8 215.8h0M207.9 215.9h0M230.1 215.7h0M345.3 215.0h0M245.1 219.9h0M351.0 216.5h0M277.6 216.9h0M354.1 216.1h0M322.2 213.8h0M224.0 220.0h0M298.2 214.7h0M267.9 215.0h0M302.9 218.7h0M222.1 214.0h0M225.7 213.7h0M323.3 219.4h0M333.8 219.7h0M194.5 213.8h0M200.2 217.3h0M293.9 214.2h0M294.7 219.8h0M220.9 215.3h0M354.1 220.1h0M222.9 215.8h0M350.4 214.9h0" fill="none" stroke="#532578" stroke-width="1.4" stroke-linecap="round" opacity="0.88"/>
<path d="M332.1 230.5h0M331.1 231.1h0M260.9 229.9h0M227.7 231.6h0M229.3 229.5h0M226.7 231.7h0M272.2 231.8h0M214.8 230.5h0" fill="none" stroke="#5f2d86" stroke-width="1.2" stroke-linecap="round" opacity="0.8"/>
<path d="M280.2 229.7h0M357.8 229.5h0M203.6 231.2h0M305.0 231.7h0M278.8 230.4h0M235.9 231.7h0M247.8 229.6h0M304.7 230.5h0" fill="none" stroke="#6d3692" stroke-width="1.2" stroke-linecap="round" opacity="0.8"/>
<path d="M323.6 229.8h0M230.8 229.6h0M194.4 231.2h0M243.8 231.0h0M330.9 231.5h0M299.9 232.1h0M242.8 231.2h0M239.1 229.7h0M361.9 231.6h0M361.5 230.2h0" fill="none" stroke="#7a3f98" stroke-width="1.2" stroke-linecap="round" opacity="0.8"/>
<path d="M363.7 230.1h0M276.4 230.6h0M238.8 230.6h0M306.0 230.4h0M276.6 230.0h0M329.1 230.5h0M347.6 229.9h0M282.1 230.5h0M268.2 231.5h0M304.4 229.8h0M333.3 231.1h0M254.9 232.1h0M256.0 231.6h0M207.7 230.0h0" fill="none" stroke="#532578" stroke-width="1.2" stroke-linecap="round" opacity="0.8"/>
<path d="M305.6 208.8h0M307.2 209.8h0M308.6 208.6h0M306.6 210.6h0M309.8 210.2h0M311.0 209.2h0" fill="none" stroke="#6d3692" stroke-width="1.2" stroke-linecap="round" opacity="0.9"/>
<path d="M268.6 200.6h0M282.0 206.6h0" fill="none" stroke="#b9a6cf" stroke-width="1.2" stroke-linecap="round" opacity="0.8"/>
</g>
<rect x="196.70" y="238.10" width="19.70" height="2.40" fill="#000"/>
<text x="206.55" y="237.00" font-size="6.5" text-anchor="middle" fill="#111" >50 µm</text>
<clipPath id="cp12"><rect x="283.30" y="234.30" width="81.60" height="43.00"/></clipPath>
<g clip-path="url(#cp12)">
<rect x="283.30" y="234.30" width="81.60" height="43.00" fill="#f2f0f4"/>
<polygon points="283.0,240.6 300.0,240.2 320.0,239.4 345.0,238.8 365.0,240.0 365.0,253.0 320.0,253.6 283.0,251.4" fill="#cdb9e3" />
<polygon points="283.0,243.6 365.0,243.0 365.0,246.6 283.0,247.0" fill="#bfa7db" />
<path d="M312.3 265.0h0M290.0 254.4h0M357.7 263.0h0M334.7 258.0h0M300.5 260.5h0M318.8 253.1h0M312.0 258.9h0M341.6 263.2h0M346.0 268.7h0M326.0 256.0h0M312.8 262.4h0M337.0 256.0h0M354.0 261.2h0M292.0 249.9h0M321.9 258.3h0M329.7 251.6h0M298.4 261.7h0M346.1 268.9h0M326.7 252.4h0M321.9 258.8h0M288.8 254.3h0M349.7 269.3h0M299.6 258.2h0M312.5 265.7h0M321.1 264.3h0M343.8 254.9h0M287.2 263.9h0M336.1 253.2h0M298.7 252.7h0M293.7 258.3h0M319.6 258.3h0M342.2 254.9h0M289.6 253.3h0M334.3 264.4h0M345.5 258.2h0M325.0 269.2h0M312.9 257.2h0M354.6 265.3h0M296.9 258.0h0M356.7 265.5h0M325.8 250.5h0M345.4 256.2h0M346.4 256.9h0M349.0 255.9h0M323.2 255.3h0M335.3 266.9h0M342.4 259.3h0M352.5 263.9h0M318.0 252.9h0M303.0 254.0h0M315.9 257.9h0M294.3 258.0h0M347.8 256.1h0M287.0 253.1h0M353.3 259.0h0M293.7 258.7h0M305.3 255.6h0M284.3 260.4h0M352.0 256.4h0M335.8 260.8h0M283.8 257.5h0M286.7 253.3h0M347.4 268.3h0M303.7 250.8h0M343.3 265.8h0M349.1 257.9h0M337.9 262.7h0M322.1 257.4h0M348.8 253.7h0M334.3 259.2h0M298.3 258.3h0M327.5 263.4h0M296.2 259.4h0M315.8 254.6h0M311.1 255.2h0M291.6 256.2h0" fill="none" stroke="#5f2d86" stroke-width="2.5" stroke-linecap="round" opacity="0.93"/>
<path d="M343.4 260.8h0M356.7 267.8h0M318.1 259.3h0M316.8 254.4h0M314.7 256.6h0M289.0 250.4h0M284.7 254.8h0M297.1 254.2h0M337.5 255.4h0M322.2 267.4h0M349.9 269.1h0M310.9 251.5h0M349.9 258.0h0M330.7 265.2h0M332.3 265.1h0M284.3 256.3h0M300.4 264.0h0M314.9 255.0h0M343.8 254.7h0M340.0 260.0h0M333.5 267.5h0M284.4 253.7h0M285.2 258.5h0M323.6 266.6h0M323.0 266.2h0M300.8 263.3h0M307.0 254.5h0M312.4 256.6h0M292.1 257.9h0M343.5 257.6h0M340.7 264.5h0M312.3 264.7h0M331.1 262.8h0M304.0 260.4h0M330.7 264.2h0M300.1 256.1h0M343.8 262.9h0M316.6 262.7h0M305.2 262.6h0M307.2 255.9h0M342.9 261.7h0M306.5 251.2h0M321.9 252.4h0M283.6 261.3h0M341.0 265.8h0M329.8 252.1h0M308.3 253.9h0M326.3 253.7h0M318.0 253.7h0M317.3 257.8h0M329.3 262.1h0M287.5 260.9h0M348.1 259.6h0M318.7 254.5h0M319.5 252.4h0M288.9 263.1h0M340.5 260.8h0M355.8 255.2h0M353.2 268.8h0M325.8 267.7h0M318.7 259.5h0M322.2 264.2h0M330.8 256.8h0M308.4 261.8h0M327.1 268.3h0M333.1 257.5h0M340.5 267.4h0M324.2 265.5h0M355.0 254.3h0M327.8 254.8h0M299.2 263.5h0M326.6 256.1h0M288.7 255.0h0M327.7 261.4h0M291.8 252.7h0M340.9 261.6h0M337.0 265.7h0M305.3 261.4h0M342.4 267.1h0" fill="none" stroke="#6d3692" stroke-width="2.5" stroke-linecap="round" opacity="0.93"/>
<path d="M324.6 268.0h0M288.7 260.9h0M325.7 253.9h0M283.5 261.9h0M355.2 257.7h0M349.1 259.0h0M345.2 257.7h0M331.3 257.6h0M324.5 262.7h0M356.3 262.1h0M322.4 266.0h0M298.5 262.5h0M325.9 253.7h0M344.2 259.7h0M300.8 266.6h0M353.9 260.1h0M310.7 253.8h0M342.9 257.2h0M310.6 251.4h0M292.0 264.0h0M311.0 259.9h0M306.1 261.7h0M349.2 256.2h0M310.8 251.1h0M333.9 261.1h0M296.7 263.5h0M336.3 266.4h0M304.4 253.0h0M330.2 268.0h0M354.1 266.0h0M348.3 261.2h0M350.7 255.1h0M302.6 254.1h0M306.6 253.9h0M329.9 263.8h0M293.7 258.1h0M334.5 257.5h0M322.2 255.9h0M345.0 255.3h0M322.6 258.8h0M338.0 261.8h0M318.9 253.5h0M332.4 267.5h0M300.7 256.4h0M331.9 255.8h0M335.0 256.1h0M323.0 251.9h0M315.9 261.3h0M335.3 265.0h0M332.6 261.2h0M317.9 266.0h0M295.5 260.5h0M298.7 255.2h0M320.2 259.7h0M309.0 256.0h0M303.8 256.6h0M285.3 254.4h0M318.5 261.3h0M286.3 251.1h0M330.0 260.5h0M308.3 260.6h0M325.8 258.2h0M343.2 255.7h0M315.7 253.4h0M325.7 252.8h0M307.5 250.4h0M325.0 254.3h0M326.5 254.3h0M309.9 253.6h0M320.7 264.5h0M345.3 265.8h0M288.3 262.4h0M344.0 256.4h0M308.8 254.2h0M310.8 254.6h0M284.6 254.9h0M354.9 264.4h0" fill="none" stroke="#7a3f98" stroke-width="2.5" stroke-linecap="round" opacity="0.93"/>
<path d="M317.2 260.1h0M286.2 262.1h0M355.0 261.2h0M314.5 255.7h0M339.4 254.3h0M339.7 258.6h0M318.6 266.2h0M314.1 264.2h0M317.3 261.1h0M323.2 263.3h0M294.6 259.1h0M323.6 258.4h0M315.8 263.5h0M347.0 263.0h0M343.3 260.8h0M346.2 267.1h0M329.3 264.1h0M290.8 253.4h0M355.6 262.5h0M347.2 261.7h0M341.1 262.1h0M339.7 259.3h0M356.0 258.1h0M324.5 262.3h0M293.4 264.2h0M344.3 260.0h0M340.5 261.2h0M347.1 266.0h0M314.8 252.9h0M322.9 256.0h0M298.2 257.5h0M301.9 258.0h0M336.4 256.2h0M291.0 250.0h0M313.8 251.4h0M294.5 261.8h0M306.4 260.7h0M309.2 264.0h0M339.5 260.5h0M351.1 257.6h0M306.4 257.8h0M342.4 256.2h0M319.9 255.4h0M305.5 251.6h0M318.0 257.8h0M301.9 264.0h0M298.8 256.3h0M330.6 251.5h0M350.7 254.5h0M318.1 258.7h0M299.9 260.0h0M311.0 253.9h0M336.0 254.1h0M313.6 264.3h0M348.3 263.5h0M345.6 262.0h0M308.6 251.3h0M319.6 258.5h0M304.1 265.9h0M353.2 261.0h0M321.2 256.3h0M299.3 261.5h0M345.9 264.1h0M324.6 251.4h0M331.5 251.4h0M294.4 260.8h0M355.8 268.2h0M357.8 256.6h0" fill="none" stroke="#532578" stroke-width="2.5" stroke-linecap="round" opacity="0.93"/>
<path d="M307.4 268.6h0M337.8 272.1h0M289.1 268.0h0M362.2 269.8h0M297.0 271.8h0" fill="none" stroke="#5f2d86" stroke-width="2.2" stroke-linecap="round" opacity="0.85"/>
<path d="M304.5 270.4h0M336.3 271.2h0M363.5 267.5h0M320.7 271.4h0M330.3 272.1h0M352.6 271.5h0M347.3 272.2h0M288.5 267.3h0M353.4 270.2h0" fill="none" stroke="#6d3692" stroke-width="2.2" stroke-linecap="round" opacity="0.85"/>
<path d="M363.9 269.1h0M350.4 273.3h0M307.3 267.4h0M304.0 270.7h0M324.1 273.8h0M317.9 268.6h0M287.2 268.7h0M298.9 270.2h0M308.4 269.1h0M326.8 270.5h0" fill="none" stroke="#7a3f98" stroke-width="2.2" stroke-linecap="round" opacity="0.85"/>
<path d="M312.3 267.2h0M356.9 271.2h0M309.4 266.9h0M301.6 268.8h0" fill="none" stroke="#532578" stroke-width="2.2" stroke-linecap="round" opacity="0.85"/>
<path d="M314.6 240.8h0M312.0 243.5h0M314.7 240.2h0M313.2 247.6h0" fill="none" stroke="#5f2d86" stroke-width="2.4" stroke-linecap="round" opacity="0.9"/>
<path d="M312.8 244.1h0M312.9 245.3h0M319.7 241.7h0M313.3 244.5h0M313.9 242.2h0M315.9 241.9h0" fill="none" stroke="#6d3692" stroke-width="2.4" stroke-linecap="round" opacity="0.9"/>
<path d="M316.5 246.1h0M313.2 245.3h0M315.0 240.2h0M316.5 242.6h0M314.7 246.9h0" fill="none" stroke="#7a3f98" stroke-width="2.4" stroke-linecap="round" opacity="0.9"/>
<path d="M312.5 240.0h0M313.9 243.7h0M314.4 240.4h0M317.6 244.5h0M314.4 240.4h0M311.7 244.2h0M316.1 247.2h0" fill="none" stroke="#532578" stroke-width="2.4" stroke-linecap="round" opacity="0.9"/>
<path d="M284.1 241.9h0" fill="none" stroke="#5f2d86" stroke-width="2.2" stroke-linecap="round" opacity="0.85"/>
<path d="M294.8 245.0h0M289.2 240.5h0M291.0 246.9h0M298.3 245.7h0" fill="none" stroke="#6d3692" stroke-width="2.2" stroke-linecap="round" opacity="0.85"/>
<path d="M285.5 242.0h0" fill="none" stroke="#7a3f98" stroke-width="2.2" stroke-linecap="round" opacity="0.85"/>
<path d="M298.1 246.3h0M290.2 244.5h0M284.3 243.0h0M292.7 244.5h0M287.1 238.9h0M292.3 245.4h0" fill="none" stroke="#532578" stroke-width="2.2" stroke-linecap="round" opacity="0.85"/>
<g fill="none" stroke="#8a5aa8" stroke-width="0.9" stroke-linecap="round" opacity="0.8"><path d="M296,243.6 l8,3 M300,240.6 l6,2.4 M347,246.6 l6,1.4 M352,250.6 l5,2.2 M325,250.4 l7,1.4"/></g>
</g>
<rect x="283.30" y="234.30" width="81.60" height="43.00" fill="none" stroke="#1a1a1a" stroke-width="0.9"/>
<rect x="285.30" y="273.10" width="19.60" height="2.40" fill="#000"/>
<text x="295.10" y="271.70" font-size="6.5" text-anchor="middle" fill="#111" stroke="#fff" stroke-width="0.9" stroke-opacity="0.55" paint-order="stroke">25 µm</text>
<line x1="339.70" y1="239.60" x2="334.28" y2="249.16" stroke="#111" stroke-width="0.8" />
<polygon points="332.90,251.60 333.15,248.52 335.41,249.80" fill="#111"/>
<text x="0.50" y="8.30" font-size="11.8" text-anchor="start" fill="#000" font-weight="bold" stroke="#000" stroke-width="0.35">a</text>
<text x="370.60" y="8.30" font-size="11.8" text-anchor="start" fill="#000" font-weight="bold" stroke="#000" stroke-width="0.35">b</text>
<text x="370.60" y="151.20" font-size="11.8" text-anchor="start" fill="#000" font-weight="bold" stroke="#000" stroke-width="0.35">c</text>
<text x="0.50" y="308.70" font-size="11.8" text-anchor="start" fill="#000" font-weight="bold" stroke="#000" stroke-width="0.35">d</text>
<text x="108.30" y="308.70" font-size="11.8" text-anchor="start" fill="#000" font-weight="bold" stroke="#000" stroke-width="0.35">e</text>
<text x="208.30" y="308.70" font-size="11.8" text-anchor="start" fill="#000" font-weight="bold" stroke="#000" stroke-width="0.35">f</text>
<text x="325.60" y="308.70" font-size="11.8" text-anchor="start" fill="#000" font-weight="bold" stroke="#000" stroke-width="0.35">g</text>
<text x="460.30" y="308.70" font-size="11.8" text-anchor="start" fill="#000" font-weight="bold" stroke="#000" stroke-width="0.35">h</text>
<text x="602.20" y="308.70" font-size="11.8" text-anchor="start" fill="#000" font-weight="bold" stroke="#000" stroke-width="0.35">i</text>
<text x="0.30" y="496.50" font-size="11.8" text-anchor="start" fill="#000" font-weight="bold" stroke="#000" stroke-width="0.35">j</text>
<text x="126.50" y="496.30" font-size="11.8" text-anchor="start" fill="#000" font-weight="bold" stroke="#000" stroke-width="0.35">k</text>
<line x1="408.40" y1="12.10" x2="408.40" y2="81.80" stroke="#6a6a6a" stroke-width="0.75" />
<line x1="404.20" y1="12.40" x2="408.40" y2="12.40" stroke="#6a6a6a" stroke-width="0.75" />
<text x="400.40" y="14.90" font-size="7" text-anchor="end" fill="#1a1a1a" >4</text>
<line x1="404.20" y1="30.30" x2="408.40" y2="30.30" stroke="#6a6a6a" stroke-width="0.75" />
<text x="400.40" y="32.80" font-size="7" text-anchor="end" fill="#1a1a1a" >3</text>
<line x1="404.20" y1="47.20" x2="408.40" y2="47.20" stroke="#6a6a6a" stroke-width="0.75" />
<text x="400.40" y="49.70" font-size="7" text-anchor="end" fill="#1a1a1a" >2</text>
<line x1="404.20" y1="64.40" x2="408.40" y2="64.40" stroke="#6a6a6a" stroke-width="0.75" />
<text x="400.40" y="66.90" font-size="7" text-anchor="end" fill="#1a1a1a" >1</text>
<line x1="404.20" y1="81.50" x2="408.40" y2="81.50" stroke="#6a6a6a" stroke-width="0.75" />
<text x="400.40" y="84.00" font-size="7" text-anchor="end" fill="#1a1a1a" >0</text>
<line x1="408.40" y1="89.80" x2="408.40" y2="119.30" stroke="#6a6a6a" stroke-width="0.75" />
<line x1="404.20" y1="90.10" x2="408.40" y2="90.10" stroke="#6a6a6a" stroke-width="0.75" />
<text x="400.40" y="92.60" font-size="7" text-anchor="end" fill="#1a1a1a" >0</text>
<line x1="404.20" y1="99.20" x2="408.40" y2="99.20" stroke="#6a6a6a" stroke-width="0.75" />
<text x="400.40" y="101.70" font-size="7" text-anchor="end" fill="#1a1a1a" >–2</text>
<line x1="404.20" y1="109.20" x2="408.40" y2="109.20" stroke="#6a6a6a" stroke-width="0.75" />
<text x="400.40" y="111.70" font-size="7" text-anchor="end" fill="#1a1a1a" >–4</text>
<line x1="404.20" y1="119.00" x2="408.40" y2="119.00" stroke="#6a6a6a" stroke-width="0.75" />
<text x="400.40" y="121.50" font-size="7" text-anchor="end" fill="#1a1a1a" >–6</text>
<line x1="408.10" y1="119.00" x2="567.80" y2="119.00" stroke="#6a6a6a" stroke-width="0.75" />
<line x1="421.20" y1="119.00" x2="421.20" y2="122.90" stroke="#6a6a6a" stroke-width="0.75" />
<text x="421.20" y="133.20" font-size="7" text-anchor="middle" fill="#1a1a1a" >2</text>
<line x1="434.49" y1="119.00" x2="434.49" y2="122.90" stroke="#6a6a6a" stroke-width="0.75" />
<text x="434.49" y="133.20" font-size="7" text-anchor="middle" fill="#1a1a1a" >4</text>
<line x1="447.79" y1="119.00" x2="447.79" y2="122.90" stroke="#6a6a6a" stroke-width="0.75" />
<text x="447.79" y="133.20" font-size="7" text-anchor="middle" fill="#1a1a1a" >6</text>
<line x1="461.08" y1="119.00" x2="461.08" y2="122.90" stroke="#6a6a6a" stroke-width="0.75" />
<text x="461.08" y="133.20" font-size="7" text-anchor="middle" fill="#1a1a1a" >8</text>
<line x1="474.38" y1="119.00" x2="474.38" y2="122.90" stroke="#6a6a6a" stroke-width="0.75" />
<text x="474.38" y="133.20" font-size="7" text-anchor="middle" fill="#1a1a1a" >10</text>
<line x1="487.68" y1="119.00" x2="487.68" y2="122.90" stroke="#6a6a6a" stroke-width="0.75" />
<text x="487.68" y="133.20" font-size="7" text-anchor="middle" fill="#1a1a1a" >12</text>
<line x1="500.97" y1="119.00" x2="500.97" y2="122.90" stroke="#6a6a6a" stroke-width="0.75" />
<text x="500.97" y="133.20" font-size="7" text-anchor="middle" fill="#1a1a1a" >14</text>
<line x1="514.27" y1="119.00" x2="514.27" y2="122.90" stroke="#6a6a6a" stroke-width="0.75" />
<text x="514.27" y="133.20" font-size="7" text-anchor="middle" fill="#1a1a1a" >16</text>
<line x1="527.56" y1="119.00" x2="527.56" y2="122.90" stroke="#6a6a6a" stroke-width="0.75" />
<text x="527.56" y="133.20" font-size="7" text-anchor="middle" fill="#1a1a1a" >18</text>
<line x1="540.86" y1="119.00" x2="540.86" y2="122.90" stroke="#6a6a6a" stroke-width="0.75" />
<text x="540.86" y="133.20" font-size="7" text-anchor="middle" fill="#1a1a1a" >20</text>
<line x1="554.16" y1="119.00" x2="554.16" y2="122.90" stroke="#6a6a6a" stroke-width="0.75" />
<text x="554.16" y="133.20" font-size="7" text-anchor="middle" fill="#1a1a1a" >22</text>
<line x1="567.45" y1="119.00" x2="567.45" y2="122.90" stroke="#6a6a6a" stroke-width="0.75" />
<text x="567.45" y="133.20" font-size="7" text-anchor="middle" fill="#1a1a1a" >24</text>
<text x="488.40" y="146.00" font-size="8.4" text-anchor="middle" fill="#1a1a1a" >Time (h)</text>
<text transform="translate(382.90 66.40) rotate(-90)" font-size="8.3" text-anchor="middle" fill="#1a1a1a"  textLength="105.6" lengthAdjust="spacingAndGlyphs">log<tspan dy="1.8" font-size="5">10</tspan><tspan dy="-1.8">(rel. expr. </tspan><tspan font-style="italic">ECE1</tspan>/<tspan font-style="italic">ACT1</tspan>)</text>
<polyline points="408.0,108.7 411.0,90.1" fill="none" stroke="#2e3192" stroke-width="0.8"/>
<polyline points="412.7,81.5 421.2,37.0 461.1,48.6 567.5,62.0" fill="none" stroke="#2e3192" stroke-width="0.8"/>
<circle cx="407.90" cy="108.70" r="2.3" fill="#2e3192"/>
<circle cx="421.20" cy="37.00" r="2.3" fill="#2e3192"/>
<circle cx="461.08" cy="48.60" r="2.3" fill="#2e3192"/>
<circle cx="567.45" cy="62.00" r="2.3" fill="#2e3192"/>
<line x1="567.45" y1="59.80" x2="567.45" y2="64.20" stroke="#2e3192" stroke-width="0.7" />
<line x1="565.85" y1="59.80" x2="569.05" y2="59.80" stroke="#2e3192" stroke-width="0.7" />
<line x1="565.85" y1="64.20" x2="569.05" y2="64.20" stroke="#2e3192" stroke-width="0.7" />
<polyline points="407.9,109.4 411.0,90.1" fill="none" stroke="#e8152c" stroke-width="0.8"/>
<polyline points="412.9,81.5 421.2,32.9 461.1,36.0 567.5,28.4" fill="none" stroke="#e8152c" stroke-width="0.8"/>
<circle cx="407.70" cy="109.40" r="2.4" fill="#e8152c"/>
<circle cx="421.20" cy="32.90" r="2.4" fill="#e8152c"/>
<circle cx="461.08" cy="36.00" r="2.4" fill="#e8152c"/>
<circle cx="567.45" cy="28.40" r="2.4" fill="#e8152c"/>
<text x="461.80" y="31.30" font-size="7.3" text-anchor="middle" fill="#1a1a1a" textLength="24.0" lengthAdjust="spacingAndGlyphs">0.0045</text>
<text x="565.50" y="24.00" font-size="7.3" text-anchor="middle" fill="#1a1a1a" textLength="27.0" lengthAdjust="spacingAndGlyphs">&lt;0.0001</text>
<circle cx="597.50" cy="21.90" r="2.3" fill="#e8152c"/>
<text x="604.90" y="24.30" font-size="7" text-anchor="start" fill="#1a1a1a" >SC5314<tspan dy="-2.6" font-size="4.4">WT</tspan></text>
<circle cx="597.50" cy="34.80" r="2.3" fill="#2e3192"/>
<text x="604.90" y="37.30" font-size="7" text-anchor="start" fill="#1a1a1a" >101<tspan dy="-2.6" font-size="4.4">WT</tspan></text>
<line x1="408.40" y1="156.20" x2="408.40" y2="262.90" stroke="#6a6a6a" stroke-width="0.75" />
<line x1="404.20" y1="156.50" x2="408.40" y2="156.50" stroke="#6a6a6a" stroke-width="0.75" />
<text x="400.40" y="159.00" font-size="7" text-anchor="end" fill="#1a1a1a" >2</text>
<line x1="404.20" y1="183.20" x2="408.40" y2="183.20" stroke="#6a6a6a" stroke-width="0.75" />
<text x="400.40" y="185.70" font-size="7" text-anchor="end" fill="#1a1a1a" >1</text>
<line x1="404.20" y1="209.50" x2="408.40" y2="209.50" stroke="#6a6a6a" stroke-width="0.75" />
<text x="400.40" y="212.00" font-size="7" text-anchor="end" fill="#1a1a1a" >0</text>
<line x1="404.20" y1="236.10" x2="408.40" y2="236.10" stroke="#6a6a6a" stroke-width="0.75" />
<text x="400.40" y="238.60" font-size="7" text-anchor="end" fill="#1a1a1a" >–1</text>
<line x1="404.20" y1="262.60" x2="408.40" y2="262.60" stroke="#6a6a6a" stroke-width="0.75" />
<text x="400.40" y="265.10" font-size="7" text-anchor="end" fill="#1a1a1a" >–2</text>
<line x1="408.10" y1="262.60" x2="567.80" y2="262.60" stroke="#6a6a6a" stroke-width="0.75" />
<line x1="407.90" y1="262.60" x2="407.90" y2="266.50" stroke="#6a6a6a" stroke-width="0.75" />
<text x="407.90" y="276.60" font-size="7" text-anchor="middle" fill="#1a1a1a" >0</text>
<line x1="421.20" y1="262.60" x2="421.20" y2="266.50" stroke="#6a6a6a" stroke-width="0.75" />
<text x="421.20" y="276.60" font-size="7" text-anchor="middle" fill="#1a1a1a" >2</text>
<line x1="434.49" y1="262.60" x2="434.49" y2="266.50" stroke="#6a6a6a" stroke-width="0.75" />
<text x="434.49" y="276.60" font-size="7" text-anchor="middle" fill="#1a1a1a" >4</text>
<line x1="447.79" y1="262.60" x2="447.79" y2="266.50" stroke="#6a6a6a" stroke-width="0.75" />
<text x="447.79" y="276.60" font-size="7" text-anchor="middle" fill="#1a1a1a" >6</text>
<line x1="461.08" y1="262.60" x2="461.08" y2="266.50" stroke="#6a6a6a" stroke-width="0.75" />
<text x="461.08" y="276.60" font-size="7" text-anchor="middle" fill="#1a1a1a" >8</text>
<line x1="474.38" y1="262.60" x2="474.38" y2="266.50" stroke="#6a6a6a" stroke-width="0.75" />
<text x="474.38" y="276.60" font-size="7" text-anchor="middle" fill="#1a1a1a" >10</text>
<line x1="487.68" y1="262.60" x2="487.68" y2="266.50" stroke="#6a6a6a" stroke-width="0.75" />
<text x="487.68" y="276.60" font-size="7" text-anchor="middle" fill="#1a1a1a" >12</text>
<line x1="500.97" y1="262.60" x2="500.97" y2="266.50" stroke="#6a6a6a" stroke-width="0.75" />
<text x="500.97" y="276.60" font-size="7" text-anchor="middle" fill="#1a1a1a" >14</text>
<line x1="514.27" y1="262.60" x2="514.27" y2="266.50" stroke="#6a6a6a" stroke-width="0.75" />
<text x="514.27" y="276.60" font-size="7" text-anchor="middle" fill="#1a1a1a" >16</text>
<line x1="527.56" y1="262.60" x2="527.56" y2="266.50" stroke="#6a6a6a" stroke-width="0.75" />
<text x="527.56" y="276.60" font-size="7" text-anchor="middle" fill="#1a1a1a" >18</text>
<line x1="540.86" y1="262.60" x2="540.86" y2="266.50" stroke="#6a6a6a" stroke-width="0.75" />
<text x="540.86" y="276.60" font-size="7" text-anchor="middle" fill="#1a1a1a" >20</text>
<line x1="554.16" y1="262.60" x2="554.16" y2="266.50" stroke="#6a6a6a" stroke-width="0.75" />
<text x="554.16" y="276.60" font-size="7" text-anchor="middle" fill="#1a1a1a" >22</text>
<line x1="567.45" y1="262.60" x2="567.45" y2="266.50" stroke="#6a6a6a" stroke-width="0.75" />
<text x="567.45" y="276.60" font-size="7" text-anchor="middle" fill="#1a1a1a" >24</text>
<text x="488.40" y="287.80" font-size="8.4" text-anchor="middle" fill="#1a1a1a" >Time (h)</text>
<text transform="translate(382.90 210.00) rotate(-90)" font-size="8.3" text-anchor="middle" fill="#1a1a1a"  textLength="105.6" lengthAdjust="spacingAndGlyphs">log<tspan dy="1.8" font-size="5">10</tspan><tspan dy="-1.8">(rel. expr. </tspan><tspan font-style="italic">ECE1</tspan>/<tspan font-style="italic">ACT1</tspan>)</text>
<line x1="421.20" y1="181.00" x2="421.20" y2="194.40" stroke="#333" stroke-width="0.6" />
<line x1="419.20" y1="181.00" x2="423.20" y2="181.00" stroke="#333" stroke-width="0.6" />
<line x1="419.20" y1="194.40" x2="423.20" y2="194.40" stroke="#333" stroke-width="0.6" />
<polyline points="407.9,233.7 421.2,187.7 434.5,223.0 567.5,228.2" fill="none" stroke="#2e3192" stroke-width="0.8"/>
<circle cx="407.90" cy="233.70" r="2.3" fill="#2e3192"/>
<circle cx="421.20" cy="187.70" r="2.3" fill="#2e3192"/>
<circle cx="434.49" cy="223.00" r="2.3" fill="#2e3192"/>
<circle cx="567.45" cy="228.20" r="2.3" fill="#2e3192"/>
<line x1="407.90" y1="219.80" x2="407.90" y2="231.50" stroke="#333" stroke-width="0.6" />
<line x1="405.90" y1="219.80" x2="409.90" y2="219.80" stroke="#333" stroke-width="0.6" />
<line x1="405.90" y1="231.50" x2="409.90" y2="231.50" stroke="#333" stroke-width="0.6" />
<line x1="434.49" y1="183.40" x2="434.49" y2="190.80" stroke="#333" stroke-width="0.6" />
<line x1="432.49" y1="183.40" x2="436.49" y2="183.40" stroke="#333" stroke-width="0.6" />
<line x1="432.49" y1="190.80" x2="436.49" y2="190.80" stroke="#333" stroke-width="0.6" />
<line x1="567.45" y1="170.30" x2="567.45" y2="180.50" stroke="#333" stroke-width="0.6" />
<line x1="565.45" y1="170.30" x2="569.45" y2="170.30" stroke="#333" stroke-width="0.6" />
<line x1="565.45" y1="180.50" x2="569.45" y2="180.50" stroke="#333" stroke-width="0.6" />
<polyline points="407.9,225.8 421.2,177.7 434.5,187.0 567.5,175.3" fill="none" stroke="#e8152c" stroke-width="0.8"/>
<circle cx="407.90" cy="225.80" r="2.4" fill="#e8152c"/>
<circle cx="421.20" cy="177.70" r="2.4" fill="#e8152c"/>
<circle cx="434.49" cy="187.00" r="2.4" fill="#e8152c"/>
<circle cx="567.45" cy="175.30" r="2.4" fill="#e8152c"/>
<text x="422.20" y="173.00" font-size="7.3" text-anchor="middle" fill="#1a1a1a" textLength="24.0" lengthAdjust="spacingAndGlyphs">0.0411</text>
<text x="444.60" y="181.20" font-size="7.3" text-anchor="middle" fill="#1a1a1a" textLength="27.0" lengthAdjust="spacingAndGlyphs">&lt;0.0001</text>
<text x="565.50" y="166.40" font-size="7.3" text-anchor="middle" fill="#1a1a1a" textLength="27.0" lengthAdjust="spacingAndGlyphs">&lt;0.0001</text>
<text x="65.50" y="318.60" font-size="8.5" text-anchor="middle" fill="#1a1a1a" textLength="20.2" lengthAdjust="spacingAndGlyphs">Day 1</text>
<line x1="44.20" y1="329.10" x2="44.20" y2="435.90" stroke="#6a6a6a" stroke-width="0.75" />
<line x1="40.00" y1="329.40" x2="44.20" y2="329.40" stroke="#6a6a6a" stroke-width="0.75" />
<text x="36.40" y="331.90" font-size="7" text-anchor="end" fill="#1a1a1a" >2.5</text>
<line x1="40.00" y1="350.60" x2="44.20" y2="350.60" stroke="#6a6a6a" stroke-width="0.75" />
<text x="36.40" y="353.10" font-size="7" text-anchor="end" fill="#1a1a1a" >2.0</text>
<line x1="40.00" y1="372.00" x2="44.20" y2="372.00" stroke="#6a6a6a" stroke-width="0.75" />
<text x="36.40" y="374.50" font-size="7" text-anchor="end" fill="#1a1a1a" >1.5</text>
<line x1="40.00" y1="393.30" x2="44.20" y2="393.30" stroke="#6a6a6a" stroke-width="0.75" />
<text x="36.40" y="395.80" font-size="7" text-anchor="end" fill="#1a1a1a" >1.0</text>
<line x1="40.00" y1="414.40" x2="44.20" y2="414.40" stroke="#6a6a6a" stroke-width="0.75" />
<text x="36.40" y="416.90" font-size="7" text-anchor="end" fill="#1a1a1a" >0.5</text>
<line x1="40.00" y1="435.60" x2="44.20" y2="435.60" stroke="#6a6a6a" stroke-width="0.75" />
<text x="36.40" y="438.10" font-size="7" text-anchor="end" fill="#1a1a1a" >0</text>
<line x1="39.90" y1="435.60" x2="86.60" y2="435.60" stroke="#6a6a6a" stroke-width="0.75" />
<line x1="56.40" y1="435.60" x2="56.40" y2="440.40" stroke="#6a6a6a" stroke-width="0.75" />
<line x1="74.40" y1="435.60" x2="74.40" y2="440.40" stroke="#6a6a6a" stroke-width="0.75" />
<text transform="translate(13.80 382.50) rotate(-90)" font-size="8.3" text-anchor="middle" fill="#1a1a1a"  textLength="106" lengthAdjust="spacingAndGlyphs">log<tspan dy="1.8" font-size="5">10</tspan><tspan dy="-1.8">(rel. expr. </tspan><tspan font-style="italic">ECE1</tspan>/<tspan font-style="italic">ACT1</tspan>)</text>
<line x1="56.40" y1="340.50" x2="74.40" y2="340.50" stroke="#555" stroke-width="0.65" />
<text x="65.40" y="339.30" font-size="7.3" text-anchor="middle" fill="#1a1a1a" textLength="24.0" lengthAdjust="spacingAndGlyphs">0.0286</text>
<circle cx="56.40" cy="348.00" r="1.75" fill="#e8152c"/>
<circle cx="51.70" cy="356.40" r="1.75" fill="#e8152c"/>
<circle cx="56.40" cy="355.20" r="1.75" fill="#e8152c"/>
<circle cx="60.90" cy="356.80" r="1.75" fill="#e8152c"/>
<circle cx="51.70" cy="360.90" r="1.75" fill="#e8152c"/>
<circle cx="56.40" cy="364.10" r="1.75" fill="#e8152c"/>
<circle cx="60.90" cy="363.60" r="1.75" fill="#e8152c"/>
<circle cx="54.10" cy="371.90" r="1.75" fill="#e8152c"/>
<circle cx="58.50" cy="372.30" r="1.75" fill="#e8152c"/>
<circle cx="56.40" cy="386.00" r="1.75" fill="#e8152c"/>
<line x1="50.40" y1="363.60" x2="62.40" y2="363.60" stroke="#222" stroke-width="0.8" />
<line x1="56.40" y1="360.60" x2="56.40" y2="367.10" stroke="#222" stroke-width="0.6" />
<line x1="53.30" y1="360.60" x2="59.50" y2="360.60" stroke="#222" stroke-width="0.6" />
<line x1="53.30" y1="367.10" x2="59.50" y2="367.10" stroke="#222" stroke-width="0.6" />
<circle cx="74.40" cy="358.80" r="1.75" fill="#2e3192"/>
<circle cx="74.40" cy="364.90" r="1.75" fill="#2e3192"/>
<circle cx="70.00" cy="377.40" r="1.75" fill="#2e3192"/>
<circle cx="79.00" cy="376.30" r="1.75" fill="#2e3192"/>
<circle cx="74.40" cy="381.90" r="1.75" fill="#2e3192"/>
<circle cx="70.00" cy="385.50" r="1.75" fill="#2e3192"/>
<circle cx="78.70" cy="386.60" r="1.75" fill="#2e3192"/>
<circle cx="74.40" cy="400.60" r="1.75" fill="#2e3192"/>
<line x1="68.40" y1="379.00" x2="80.40" y2="379.00" stroke="#222" stroke-width="0.8" />
<line x1="74.40" y1="374.40" x2="74.40" y2="383.50" stroke="#222" stroke-width="0.6" />
<line x1="71.10" y1="374.40" x2="77.70" y2="374.40" stroke="#222" stroke-width="0.6" />
<line x1="71.10" y1="383.50" x2="77.70" y2="383.50" stroke="#222" stroke-width="0.6" />
<text transform="translate(60.00 446.60) rotate(-45)" font-size="7.3" text-anchor="end" fill="#1a1a1a" >SC5314<tspan dy="-2.6" font-size="4.4">WT</tspan></text>
<text transform="translate(78.20 446.20) rotate(-45)" font-size="7.3" text-anchor="end" fill="#1a1a1a" >101<tspan dy="-2.6" font-size="4.4">WT</tspan></text>
<line x1="149.40" y1="329.10" x2="149.40" y2="436.20" stroke="#6a6a6a" stroke-width="0.75" />
<line x1="145.20" y1="329.40" x2="149.40" y2="329.40" stroke="#6a6a6a" stroke-width="0.75" />
<text x="140.30" y="331.90" font-size="7" text-anchor="end" fill="#1a1a1a" >2.5</text>
<line x1="145.20" y1="344.50" x2="149.40" y2="344.50" stroke="#6a6a6a" stroke-width="0.75" />
<text x="140.30" y="347.00" font-size="7" text-anchor="end" fill="#1a1a1a" >2.0</text>
<line x1="145.20" y1="359.70" x2="149.40" y2="359.70" stroke="#6a6a6a" stroke-width="0.75" />
<text x="140.30" y="362.20" font-size="7" text-anchor="end" fill="#1a1a1a" >1.5</text>
<line x1="145.20" y1="375.00" x2="149.40" y2="375.00" stroke="#6a6a6a" stroke-width="0.75" />
<text x="140.30" y="377.50" font-size="7" text-anchor="end" fill="#1a1a1a" >1.0</text>
<line x1="145.20" y1="390.20" x2="149.40" y2="390.20" stroke="#6a6a6a" stroke-width="0.75" />
<text x="140.30" y="392.70" font-size="7" text-anchor="end" fill="#1a1a1a" >0.5</text>
<line x1="145.20" y1="405.50" x2="149.40" y2="405.50" stroke="#6a6a6a" stroke-width="0.75" />
<text x="140.30" y="408.00" font-size="7" text-anchor="end" fill="#1a1a1a" >0</text>
<line x1="145.20" y1="420.70" x2="149.40" y2="420.70" stroke="#6a6a6a" stroke-width="0.75" />
<text x="140.30" y="423.20" font-size="7" text-anchor="end" fill="#1a1a1a" >–0.5</text>
<line x1="145.20" y1="435.90" x2="149.40" y2="435.90" stroke="#6a6a6a" stroke-width="0.75" />
<text x="140.30" y="438.40" font-size="7" text-anchor="end" fill="#1a1a1a" >–1.0</text>
<line x1="145.10" y1="435.90" x2="191.20" y2="435.90" stroke="#6a6a6a" stroke-width="0.75" />
<line x1="161.20" y1="435.90" x2="161.20" y2="440.60" stroke="#6a6a6a" stroke-width="0.75" />
<line x1="178.90" y1="435.90" x2="178.90" y2="440.60" stroke="#6a6a6a" stroke-width="0.75" />
<text x="161.20" y="450.30" font-size="7.5" text-anchor="middle" fill="#1a1a1a" >d1</text>
<text x="178.90" y="450.30" font-size="7.5" text-anchor="middle" fill="#1a1a1a" >d7</text>
<text transform="translate(114.70 382.20) rotate(-90)" font-size="8.3" text-anchor="middle" fill="#1a1a1a"  textLength="106" lengthAdjust="spacingAndGlyphs">log<tspan dy="1.8" font-size="5">10</tspan><tspan dy="-1.8">(rel. expr. </tspan><tspan font-style="italic">ECE1</tspan>/<tspan font-style="italic">ACT1</tspan>)</text>
<line x1="161.20" y1="363.40" x2="179.00" y2="363.40" stroke="#555" stroke-width="0.65" />
<text x="170.10" y="362.20" font-size="7.3" text-anchor="middle" fill="#1a1a1a" >NS</text>
<circle cx="161.20" cy="382.70" r="1.75" fill="#2e3192"/>
<circle cx="156.80" cy="391.70" r="1.75" fill="#2e3192"/>
<circle cx="165.50" cy="391.70" r="1.75" fill="#2e3192"/>
<line x1="154.90" y1="388.20" x2="167.10" y2="388.20" stroke="#444" stroke-width="0.8" />
<line x1="161.00" y1="383.00" x2="161.00" y2="394.30" stroke="#444" stroke-width="0.6" />
<line x1="157.80" y1="383.00" x2="164.20" y2="383.00" stroke="#444" stroke-width="0.6" />
<line x1="157.80" y1="394.30" x2="164.20" y2="394.30" stroke="#444" stroke-width="0.6" />
<circle cx="179.00" cy="375.80" r="1.75" fill="#2e3192"/>
<circle cx="174.70" cy="397.00" r="1.75" fill="#2e3192"/>
<circle cx="183.10" cy="396.50" r="1.75" fill="#2e3192"/>
<line x1="173.00" y1="390.10" x2="185.00" y2="390.10" stroke="#444" stroke-width="0.8" />
<line x1="179.00" y1="377.40" x2="179.00" y2="402.20" stroke="#444" stroke-width="0.6" />
<line x1="176.00" y1="377.40" x2="182.00" y2="377.40" stroke="#444" stroke-width="0.6" />
<line x1="176.00" y1="402.20" x2="182.00" y2="402.20" stroke="#444" stroke-width="0.6" />
<text x="268.70" y="318.60" font-size="8.5" text-anchor="middle" fill="#1a1a1a" textLength="20.2" lengthAdjust="spacingAndGlyphs">Day 1</text>
<line x1="237.20" y1="329.30" x2="237.20" y2="436.30" stroke="#6a6a6a" stroke-width="0.75" />
<line x1="233.00" y1="329.60" x2="237.20" y2="329.60" stroke="#6a6a6a" stroke-width="0.75" />
<text x="228.80" y="332.10" font-size="7" text-anchor="end" fill="#1a1a1a" >8</text>
<line x1="233.00" y1="344.80" x2="237.20" y2="344.80" stroke="#6a6a6a" stroke-width="0.75" />
<text x="228.80" y="347.30" font-size="7" text-anchor="end" fill="#1a1a1a" >7</text>
<line x1="233.00" y1="360.00" x2="237.20" y2="360.00" stroke="#6a6a6a" stroke-width="0.75" />
<text x="228.80" y="362.50" font-size="7" text-anchor="end" fill="#1a1a1a" >6</text>
<line x1="233.00" y1="375.10" x2="237.20" y2="375.10" stroke="#6a6a6a" stroke-width="0.75" />
<text x="228.80" y="377.60" font-size="7" text-anchor="end" fill="#1a1a1a" >5</text>
<line x1="233.00" y1="390.30" x2="237.20" y2="390.30" stroke="#6a6a6a" stroke-width="0.75" />
<text x="228.80" y="392.80" font-size="7" text-anchor="end" fill="#1a1a1a" >4</text>
<line x1="233.00" y1="405.40" x2="237.20" y2="405.40" stroke="#6a6a6a" stroke-width="0.75" />
<text x="228.80" y="407.90" font-size="7" text-anchor="end" fill="#1a1a1a" >3</text>
<line x1="233.00" y1="420.50" x2="237.20" y2="420.50" stroke="#6a6a6a" stroke-width="0.75" />
<text x="228.80" y="423.00" font-size="7" text-anchor="end" fill="#1a1a1a" >2</text>
<line x1="233.00" y1="436.00" x2="237.20" y2="436.00" stroke="#6a6a6a" stroke-width="0.75" />
<text x="228.80" y="438.50" font-size="7" text-anchor="end" fill="#1a1a1a" >1</text>
<rect x="237.5" y="402.4" width="62.1" height="15.3" fill="#d9d9d9"/>
<line x1="237.50" y1="402.40" x2="299.80" y2="402.40" stroke="#000" stroke-width="1.3" stroke-dasharray="1.15 1.20"/>
<line x1="237.50" y1="417.70" x2="299.80" y2="417.70" stroke="#000" stroke-width="1.3" stroke-dasharray="1.15 1.20"/>
<text x="302.00" y="413.20" font-size="7" text-anchor="start" fill="#1a1a1a" >DL</text>
<line x1="232.90" y1="436.00" x2="300.00" y2="436.00" stroke="#6a6a6a" stroke-width="0.75" />
<line x1="251.30" y1="436.00" x2="251.30" y2="440.40" stroke="#6a6a6a" stroke-width="0.75" />
<line x1="268.40" y1="436.00" x2="268.40" y2="440.40" stroke="#6a6a6a" stroke-width="0.75" />
<line x1="285.60" y1="436.00" x2="285.60" y2="440.40" stroke="#6a6a6a" stroke-width="0.75" />
<text transform="translate(213.80 383.00) rotate(-90)" font-size="8.3" text-anchor="middle" fill="#1a1a1a"  textLength="79.5" lengthAdjust="spacingAndGlyphs">log<tspan dy="1.8" font-size="5">10</tspan><tspan dy="-1.8">(CFU g</tspan><tspan dy="-2.8" font-size="5">–1</tspan><tspan dy="2.8"> tissue)</tspan></text>
<line x1="251.10" y1="337.50" x2="285.80" y2="337.50" stroke="#555" stroke-width="0.65" />
<text x="267.30" y="336.60" font-size="7.3" text-anchor="middle" fill="#1a1a1a" textLength="24.0" lengthAdjust="spacingAndGlyphs">0.0005</text>
<line x1="251.90" y1="350.20" x2="266.40" y2="350.20" stroke="#bdbdbd" stroke-width="0.65" />
<text x="258.60" y="348.30" font-size="7.3" text-anchor="middle" fill="#1a1a1a" textLength="24.0" lengthAdjust="spacingAndGlyphs">0.0032</text>
<line x1="271.00" y1="350.20" x2="285.80" y2="350.20" stroke="#bdbdbd" stroke-width="0.65" />
<text x="278.20" y="348.30" font-size="7.3" text-anchor="middle" fill="#1a1a1a" >NS</text>
<circle cx="247.10" cy="355.90" r="1.7" fill="#2e3192"/>
<circle cx="250.00" cy="358.20" r="1.7" fill="#2e3192"/>
<circle cx="247.30" cy="360.90" r="1.7" fill="#2e3192"/>
<circle cx="255.30" cy="360.70" r="1.7" fill="#2e3192"/>
<circle cx="252.50" cy="362.60" r="1.7" fill="#2e3192"/>
<circle cx="250.00" cy="366.80" r="1.7" fill="#2e3192"/>
<circle cx="251.70" cy="360.20" r="1.7" fill="#2e3192"/>
<circle cx="253.20" cy="364.40" r="1.7" fill="#2e3192"/>
<circle cx="249.00" cy="363.00" r="1.7" fill="#2e3192"/>
<line x1="245.70" y1="361.00" x2="257.10" y2="361.00" stroke="#111" stroke-width="0.9" />
<line x1="251.40" y1="359.80" x2="251.40" y2="362.30" stroke="#111" stroke-width="0.6" />
<line x1="249.20" y1="359.80" x2="253.60" y2="359.80" stroke="#111" stroke-width="0.6" />
<line x1="249.20" y1="362.30" x2="253.60" y2="362.30" stroke="#111" stroke-width="0.6" />
<circle cx="268.70" cy="363.50" r="1.7" fill="#2e3192"/>
<circle cx="264.90" cy="369.60" r="1.7" fill="#2e3192"/>
<circle cx="271.50" cy="370.60" r="1.7" fill="#2e3192"/>
<circle cx="267.70" cy="372.10" r="1.7" fill="#2e3192"/>
<circle cx="265.80" cy="374.00" r="1.7" fill="#2e3192"/>
<circle cx="270.20" cy="374.80" r="1.7" fill="#2e3192"/>
<circle cx="268.30" cy="379.70" r="1.7" fill="#2e3192"/>
<circle cx="269.00" cy="371.00" r="1.7" fill="#2e3192"/>
<circle cx="267.00" cy="376.80" r="1.7" fill="#2e3192"/>
<line x1="263.20" y1="371.00" x2="274.40" y2="371.00" stroke="#111" stroke-width="0.9" />
<line x1="268.80" y1="369.60" x2="268.80" y2="372.50" stroke="#111" stroke-width="0.6" />
<line x1="266.60" y1="369.60" x2="271.00" y2="369.60" stroke="#111" stroke-width="0.6" />
<line x1="266.60" y1="372.50" x2="271.00" y2="372.50" stroke="#111" stroke-width="0.6" />
<circle cx="285.80" cy="366.20" r="1.45" fill="#fff" stroke="#5a5fc4" stroke-width="0.6"/>
<circle cx="282.00" cy="371.50" r="1.45" fill="#fff" stroke="#5a5fc4" stroke-width="0.6"/>
<circle cx="289.70" cy="371.90" r="1.45" fill="#fff" stroke="#5a5fc4" stroke-width="0.6"/>
<circle cx="284.00" cy="370.20" r="1.45" fill="#fff" stroke="#5a5fc4" stroke-width="0.6"/>
<circle cx="286.80" cy="373.40" r="1.45" fill="#fff" stroke="#5a5fc4" stroke-width="0.6"/>
<circle cx="285.50" cy="374.80" r="1.45" fill="#fff" stroke="#5a5fc4" stroke-width="0.6"/>
<circle cx="286.80" cy="376.30" r="1.45" fill="#fff" stroke="#5a5fc4" stroke-width="0.6"/>
<circle cx="285.80" cy="391.00" r="1.45" fill="#fff" stroke="#5a5fc4" stroke-width="0.6"/>
<circle cx="288.00" cy="369.60" r="1.45" fill="#fff" stroke="#5a5fc4" stroke-width="0.6"/>
<line x1="280.20" y1="373.00" x2="291.40" y2="373.00" stroke="#111" stroke-width="0.9" />
<line x1="285.80" y1="370.60" x2="285.80" y2="375.80" stroke="#111" stroke-width="0.6" />
<line x1="283.20" y1="370.60" x2="288.40" y2="370.60" stroke="#111" stroke-width="0.6" />
<line x1="283.20" y1="375.80" x2="288.40" y2="375.80" stroke="#111" stroke-width="0.6" />
<text transform="translate(253.00 446.60) rotate(-45)" font-size="7.3" text-anchor="end" fill="#1a1a1a" >101<tspan dy="-2.6" font-size="4.4">WT</tspan></text>
<text transform="translate(270.00 446.60) rotate(-45)" font-size="7.3" text-anchor="end" fill="#1a1a1a" >101<tspan dy="-2.6" font-size="4.4">WT</tspan><tspan dy="2.6"> l.d.</tspan></text>
<text transform="translate(287.20 446.60) rotate(-45)" font-size="7.3" text-anchor="end" fill="#1a1a1a" ><tspan font-style="italic">ece1</tspan>Δ/Δ</text>
<text x="356.60" y="309.20" font-size="8.5" text-anchor="middle" fill="#1a1a1a" textLength="20.4" lengthAdjust="spacingAndGlyphs">Day 7</text>
<line x1="355.60" y1="329.30" x2="355.60" y2="436.30" stroke="#6a6a6a" stroke-width="0.75" />
<line x1="351.40" y1="329.60" x2="355.60" y2="329.60" stroke="#6a6a6a" stroke-width="0.75" />
<text x="347.00" y="332.10" font-size="7" text-anchor="end" fill="#1a1a1a" >8</text>
<line x1="351.40" y1="344.80" x2="355.60" y2="344.80" stroke="#6a6a6a" stroke-width="0.75" />
<text x="347.00" y="347.30" font-size="7" text-anchor="end" fill="#1a1a1a" >7</text>
<line x1="351.40" y1="360.00" x2="355.60" y2="360.00" stroke="#6a6a6a" stroke-width="0.75" />
<text x="347.00" y="362.50" font-size="7" text-anchor="end" fill="#1a1a1a" >6</text>
<line x1="351.40" y1="375.10" x2="355.60" y2="375.10" stroke="#6a6a6a" stroke-width="0.75" />
<text x="347.00" y="377.60" font-size="7" text-anchor="end" fill="#1a1a1a" >5</text>
<line x1="351.40" y1="390.30" x2="355.60" y2="390.30" stroke="#6a6a6a" stroke-width="0.75" />
<text x="347.00" y="392.80" font-size="7" text-anchor="end" fill="#1a1a1a" >4</text>
<line x1="351.40" y1="405.40" x2="355.60" y2="405.40" stroke="#6a6a6a" stroke-width="0.75" />
<text x="347.00" y="407.90" font-size="7" text-anchor="end" fill="#1a1a1a" >3</text>
<line x1="351.40" y1="420.50" x2="355.60" y2="420.50" stroke="#6a6a6a" stroke-width="0.75" />
<text x="347.00" y="423.00" font-size="7" text-anchor="end" fill="#1a1a1a" >2</text>
<line x1="351.40" y1="436.00" x2="355.60" y2="436.00" stroke="#6a6a6a" stroke-width="0.75" />
<text x="347.00" y="438.50" font-size="7" text-anchor="end" fill="#1a1a1a" >1</text>
<rect x="355.9" y="402.4" width="83.5" height="19.6" fill="#d9d9d9"/>
<line x1="355.90" y1="402.40" x2="439.80" y2="402.40" stroke="#000" stroke-width="1.3" stroke-dasharray="1.15 1.20"/>
<line x1="355.90" y1="422.00" x2="439.80" y2="422.00" stroke="#000" stroke-width="1.3" stroke-dasharray="1.15 1.20"/>
<text x="442.00" y="415.20" font-size="7" text-anchor="start" fill="#1a1a1a" >DL</text>
<line x1="351.30" y1="436.00" x2="439.80" y2="436.00" stroke="#6a6a6a" stroke-width="0.75" />
<line x1="370.00" y1="436.00" x2="370.00" y2="440.40" stroke="#6a6a6a" stroke-width="0.75" />
<line x1="387.80" y1="436.00" x2="387.80" y2="440.40" stroke="#6a6a6a" stroke-width="0.75" />
<line x1="405.80" y1="436.00" x2="405.80" y2="440.40" stroke="#6a6a6a" stroke-width="0.75" />
<line x1="424.00" y1="436.00" x2="424.00" y2="440.40" stroke="#6a6a6a" stroke-width="0.75" />
<text transform="translate(332.60 383.00) rotate(-90)" font-size="8.3" text-anchor="middle" fill="#1a1a1a"  textLength="79.5" lengthAdjust="spacingAndGlyphs">log<tspan dy="1.8" font-size="5">10</tspan><tspan dy="-1.8">(CFU g</tspan><tspan dy="-2.8" font-size="5">–1</tspan><tspan dy="2.8"> tissue)</tspan></text>
<line x1="370.60" y1="313.40" x2="423.30" y2="313.40" stroke="#555" stroke-width="0.65" />
<text x="395.00" y="312.10" font-size="7.3" text-anchor="middle" fill="#1a1a1a" textLength="27.0" lengthAdjust="spacingAndGlyphs">&lt;0.0001</text>
<line x1="388.20" y1="321.50" x2="423.30" y2="321.50" stroke="#555" stroke-width="0.65" />
<text x="404.30" y="320.50" font-size="7.3" text-anchor="middle" fill="#1a1a1a" textLength="27.0" lengthAdjust="spacingAndGlyphs">&lt;0.0001</text>
<line x1="370.60" y1="330.20" x2="405.40" y2="330.20" stroke="#555" stroke-width="0.65" />
<text x="385.50" y="329.30" font-size="7.3" text-anchor="middle" fill="#1a1a1a" textLength="24.0" lengthAdjust="spacingAndGlyphs">0.0009</text>
<line x1="370.60" y1="345.60" x2="387.60" y2="345.60" stroke="#555" stroke-width="0.65" />
<text x="376.20" y="343.00" font-size="7.3" text-anchor="middle" fill="#1a1a1a" >NS</text>
<line x1="388.20" y1="342.00" x2="405.40" y2="342.00" stroke="#bdbdbd" stroke-width="0.65" />
<text x="395.00" y="339.20" font-size="7.3" text-anchor="middle" fill="#1a1a1a" textLength="27.0" lengthAdjust="spacingAndGlyphs">&lt;0.0001</text>
<line x1="406.80" y1="345.90" x2="423.30" y2="345.90" stroke="#555" stroke-width="0.65" />
<text x="418.20" y="345.20" font-size="7.3" text-anchor="middle" fill="#1a1a1a" textLength="24.0" lengthAdjust="spacingAndGlyphs">0.0016</text>
<circle cx="370.00" cy="350.00" r="1.7" fill="#2e3192"/>
<circle cx="370.70" cy="356.50" r="1.7" fill="#2e3192"/>
<circle cx="367.90" cy="358.60" r="1.7" fill="#2e3192"/>
<circle cx="372.20" cy="359.30" r="1.7" fill="#2e3192"/>
<circle cx="366.40" cy="362.20" r="1.7" fill="#2e3192"/>
<circle cx="369.30" cy="361.50" r="1.7" fill="#2e3192"/>
<circle cx="373.60" cy="362.60" r="1.7" fill="#2e3192"/>
<circle cx="367.90" cy="364.30" r="1.7" fill="#2e3192"/>
<circle cx="371.50" cy="364.60" r="1.7" fill="#2e3192"/>
<circle cx="370.00" cy="366.50" r="1.7" fill="#2e3192"/>
<circle cx="367.20" cy="367.90" r="1.7" fill="#2e3192"/>
<circle cx="372.90" cy="367.90" r="1.7" fill="#2e3192"/>
<circle cx="369.30" cy="370.00" r="1.7" fill="#2e3192"/>
<circle cx="371.50" cy="371.80" r="1.7" fill="#2e3192"/>
<circle cx="368.60" cy="373.60" r="1.7" fill="#2e3192"/>
<circle cx="370.00" cy="377.20" r="1.7" fill="#2e3192"/>
<circle cx="369.30" cy="382.90" r="1.7" fill="#2e3192"/>
<circle cx="370.70" cy="386.50" r="1.7" fill="#2e3192"/>
<circle cx="368.60" cy="389.40" r="1.7" fill="#2e3192"/>
<circle cx="365.80" cy="365.50" r="1.7" fill="#2e3192"/>
<circle cx="374.00" cy="366.00" r="1.7" fill="#2e3192"/>
<circle cx="370.40" cy="360.00" r="1.7" fill="#2e3192"/>
<circle cx="368.80" cy="369.00" r="1.7" fill="#2e3192"/>
<circle cx="371.00" cy="375.00" r="1.7" fill="#2e3192"/>
<line x1="363.90" y1="368.30" x2="376.10" y2="368.30" stroke="#111" stroke-width="0.9" />
<line x1="370.00" y1="366.80" x2="370.00" y2="369.90" stroke="#111" stroke-width="0.6" />
<line x1="367.60" y1="366.80" x2="372.40" y2="366.80" stroke="#111" stroke-width="0.6" />
<line x1="367.60" y1="369.90" x2="372.40" y2="369.90" stroke="#111" stroke-width="0.6" />
<circle cx="388.60" cy="351.40" r="1.7" fill="#2e3192"/>
<circle cx="387.20" cy="353.20" r="1.7" fill="#2e3192"/>
<circle cx="390.00" cy="353.60" r="1.7" fill="#2e3192"/>
<circle cx="386.20" cy="355.00" r="1.7" fill="#2e3192"/>
<circle cx="389.00" cy="355.50" r="1.7" fill="#2e3192"/>
<circle cx="387.60" cy="357.20" r="1.7" fill="#2e3192"/>
<circle cx="385.80" cy="360.00" r="1.7" fill="#2e3192"/>
<circle cx="388.20" cy="360.70" r="1.7" fill="#2e3192"/>
<circle cx="390.00" cy="362.90" r="1.7" fill="#2e3192"/>
<circle cx="386.50" cy="363.60" r="1.7" fill="#2e3192"/>
<circle cx="388.60" cy="365.00" r="1.7" fill="#2e3192"/>
<circle cx="385.00" cy="366.50" r="1.7" fill="#2e3192"/>
<circle cx="390.80" cy="366.50" r="1.7" fill="#2e3192"/>
<circle cx="387.60" cy="368.60" r="1.7" fill="#2e3192"/>
<circle cx="392.50" cy="368.60" r="1.7" fill="#2e3192"/>
<circle cx="388.20" cy="370.80" r="1.7" fill="#2e3192"/>
<circle cx="389.30" cy="374.30" r="1.7" fill="#2e3192"/>
<circle cx="387.60" cy="376.50" r="1.7" fill="#2e3192"/>
<circle cx="388.60" cy="377.90" r="1.7" fill="#2e3192"/>
<circle cx="389.00" cy="382.20" r="1.7" fill="#2e3192"/>
<circle cx="387.20" cy="383.60" r="1.7" fill="#2e3192"/>
<circle cx="386.20" cy="385.00" r="1.7" fill="#2e3192"/>
<circle cx="389.60" cy="358.50" r="1.7" fill="#2e3192"/>
<circle cx="387.00" cy="362.00" r="1.7" fill="#2e3192"/>
<circle cx="388.00" cy="372.50" r="1.7" fill="#2e3192"/>
<circle cx="389.00" cy="380.00" r="1.7" fill="#2e3192"/>
<line x1="382.10" y1="365.80" x2="393.90" y2="365.80" stroke="#111" stroke-width="0.9" />
<line x1="388.00" y1="364.40" x2="388.00" y2="367.30" stroke="#111" stroke-width="0.6" />
<line x1="385.60" y1="364.40" x2="390.40" y2="364.40" stroke="#111" stroke-width="0.6" />
<line x1="385.60" y1="367.30" x2="390.40" y2="367.30" stroke="#111" stroke-width="0.6" />
<circle cx="405.80" cy="351.70" r="1.45" fill="#fff" stroke="#5a5fc4" stroke-width="0.6"/>
<circle cx="405.80" cy="356.20" r="1.45" fill="#fff" stroke="#5a5fc4" stroke-width="0.6"/>
<circle cx="405.80" cy="359.70" r="1.45" fill="#fff" stroke="#5a5fc4" stroke-width="0.6"/>
<circle cx="406.80" cy="364.30" r="1.45" fill="#fff" stroke="#5a5fc4" stroke-width="0.6"/>
<circle cx="405.10" cy="367.20" r="1.45" fill="#fff" stroke="#5a5fc4" stroke-width="0.6"/>
<circle cx="406.80" cy="369.30" r="1.45" fill="#fff" stroke="#5a5fc4" stroke-width="0.6"/>
<circle cx="402.90" cy="371.80" r="1.45" fill="#fff" stroke="#5a5fc4" stroke-width="0.6"/>
<circle cx="405.10" cy="374.30" r="1.45" fill="#fff" stroke="#5a5fc4" stroke-width="0.6"/>
<circle cx="410.10" cy="374.60" r="1.45" fill="#fff" stroke="#5a5fc4" stroke-width="0.6"/>
<circle cx="401.10" cy="376.50" r="1.45" fill="#fff" stroke="#5a5fc4" stroke-width="0.6"/>
<circle cx="404.40" cy="376.90" r="1.45" fill="#fff" stroke="#5a5fc4" stroke-width="0.6"/>
<circle cx="407.70" cy="377.50" r="1.45" fill="#fff" stroke="#5a5fc4" stroke-width="0.6"/>
<circle cx="410.10" cy="377.90" r="1.45" fill="#fff" stroke="#5a5fc4" stroke-width="0.6"/>
<circle cx="402.90" cy="379.30" r="1.45" fill="#fff" stroke="#5a5fc4" stroke-width="0.6"/>
<circle cx="406.20" cy="380.80" r="1.45" fill="#fff" stroke="#5a5fc4" stroke-width="0.6"/>
<circle cx="404.40" cy="384.40" r="1.45" fill="#fff" stroke="#5a5fc4" stroke-width="0.6"/>
<circle cx="406.80" cy="382.90" r="1.45" fill="#fff" stroke="#5a5fc4" stroke-width="0.6"/>
<circle cx="405.10" cy="387.90" r="1.45" fill="#fff" stroke="#5a5fc4" stroke-width="0.6"/>
<circle cx="407.70" cy="389.40" r="1.45" fill="#fff" stroke="#5a5fc4" stroke-width="0.6"/>
<circle cx="404.80" cy="394.10" r="1.45" fill="#fff" stroke="#5a5fc4" stroke-width="0.6"/>
<circle cx="408.20" cy="392.90" r="1.45" fill="#fff" stroke="#5a5fc4" stroke-width="0.6"/>
<circle cx="405.80" cy="391.50" r="1.45" fill="#fff" stroke="#5a5fc4" stroke-width="0.6"/>
<circle cx="403.40" cy="398.70" r="1.45" fill="#fff" stroke="#5a5fc4" stroke-width="0.6"/>
<circle cx="406.80" cy="398.00" r="1.45" fill="#fff" stroke="#5a5fc4" stroke-width="0.6"/>
<circle cx="402.90" cy="402.20" r="1.45" fill="#fff" stroke="#5a5fc4" stroke-width="0.6"/>
<circle cx="408.20" cy="402.20" r="1.45" fill="#fff" stroke="#5a5fc4" stroke-width="0.6"/>
<circle cx="405.40" cy="400.80" r="1.45" fill="#fff" stroke="#5a5fc4" stroke-width="0.6"/>
<line x1="400.10" y1="381.50" x2="411.90" y2="381.50" stroke="#111" stroke-width="0.9" />
<line x1="406.00" y1="380.00" x2="406.00" y2="383.00" stroke="#111" stroke-width="0.6" />
<line x1="403.60" y1="380.00" x2="408.40" y2="380.00" stroke="#111" stroke-width="0.6" />
<line x1="403.60" y1="383.00" x2="408.40" y2="383.00" stroke="#111" stroke-width="0.6" />
<circle cx="424.00" cy="374.10" r="1.45" fill="#fff" stroke="#5a5fc4" stroke-width="0.6"/>
<circle cx="424.00" cy="377.50" r="1.45" fill="#fff" stroke="#5a5fc4" stroke-width="0.6"/>
<circle cx="424.00" cy="387.20" r="1.45" fill="#fff" stroke="#5a5fc4" stroke-width="0.6"/>
<circle cx="424.00" cy="402.20" r="1.45" fill="#fff" stroke="#5a5fc4" stroke-width="0.6"/>
<circle cx="419.40" cy="406.50" r="1.45" fill="#fff" stroke="#5a5fc4" stroke-width="0.6"/>
<circle cx="428.30" cy="406.10" r="1.45" fill="#fff" stroke="#5a5fc4" stroke-width="0.6"/>
<circle cx="419.40" cy="421.60" r="1.45" fill="#fff" stroke="#5a5fc4" stroke-width="0.6"/>
<circle cx="428.00" cy="421.60" r="1.45" fill="#fff" stroke="#5a5fc4" stroke-width="0.6"/>
<line x1="418.00" y1="399.40" x2="429.80" y2="399.40" stroke="#111" stroke-width="0.8" />
<line x1="423.90" y1="393.20" x2="423.90" y2="406.10" stroke="#111" stroke-width="0.6" />
<line x1="421.00" y1="393.20" x2="426.80" y2="393.20" stroke="#111" stroke-width="0.6" />
<line x1="421.00" y1="406.10" x2="426.80" y2="406.10" stroke="#111" stroke-width="0.6" />
<text transform="translate(371.60 446.60) rotate(-45)" font-size="7.3" text-anchor="end" fill="#1a1a1a" >101<tspan dy="-2.6" font-size="4.4">WT</tspan></text>
<text transform="translate(389.40 446.60) rotate(-45)" font-size="7.3" text-anchor="end" fill="#1a1a1a" >101<tspan dy="-2.6" font-size="4.4">WT</tspan><tspan dy="2.6"> l.d.</tspan></text>
<text transform="translate(407.40 446.60) rotate(-45)" font-size="7.3" text-anchor="end" fill="#1a1a1a" ><tspan font-style="italic">ece1</tspan>Δ/Δ</text>
<text transform="translate(425.60 446.60) rotate(-45)" font-size="7.3" text-anchor="end" fill="#1a1a1a" ><tspan font-style="italic">ece1p3</tspan>Δ/Δ</text>
<text x="534.30" y="318.60" font-size="8.5" text-anchor="middle" fill="#1a1a1a" textLength="25.0" lengthAdjust="spacingAndGlyphs">Day 28</text>
<line x1="492.60" y1="329.30" x2="492.60" y2="436.30" stroke="#6a6a6a" stroke-width="0.75" />
<line x1="488.40" y1="329.60" x2="492.60" y2="329.60" stroke="#6a6a6a" stroke-width="0.75" />
<text x="484.20" y="332.10" font-size="7" text-anchor="end" fill="#1a1a1a" >8</text>
<line x1="488.40" y1="344.80" x2="492.60" y2="344.80" stroke="#6a6a6a" stroke-width="0.75" />
<text x="484.20" y="347.30" font-size="7" text-anchor="end" fill="#1a1a1a" >7</text>
<line x1="488.40" y1="360.00" x2="492.60" y2="360.00" stroke="#6a6a6a" stroke-width="0.75" />
<text x="484.20" y="362.50" font-size="7" text-anchor="end" fill="#1a1a1a" >6</text>
<line x1="488.40" y1="375.10" x2="492.60" y2="375.10" stroke="#6a6a6a" stroke-width="0.75" />
<text x="484.20" y="377.60" font-size="7" text-anchor="end" fill="#1a1a1a" >5</text>
<line x1="488.40" y1="390.30" x2="492.60" y2="390.30" stroke="#6a6a6a" stroke-width="0.75" />
<text x="484.20" y="392.80" font-size="7" text-anchor="end" fill="#1a1a1a" >4</text>
<line x1="488.40" y1="405.40" x2="492.60" y2="405.40" stroke="#6a6a6a" stroke-width="0.75" />
<text x="484.20" y="407.90" font-size="7" text-anchor="end" fill="#1a1a1a" >3</text>
<line x1="488.40" y1="420.50" x2="492.60" y2="420.50" stroke="#6a6a6a" stroke-width="0.75" />
<text x="484.20" y="423.00" font-size="7" text-anchor="end" fill="#1a1a1a" >2</text>
<line x1="488.40" y1="436.00" x2="492.60" y2="436.00" stroke="#6a6a6a" stroke-width="0.75" />
<text x="484.20" y="438.50" font-size="7" text-anchor="end" fill="#1a1a1a" >1</text>
<rect x="492.9" y="403.1" width="82.9" height="21.8" fill="#d9d9d9"/>
<line x1="492.90" y1="403.10" x2="576.20" y2="403.10" stroke="#000" stroke-width="1.3" stroke-dasharray="1.15 1.20"/>
<line x1="492.90" y1="424.90" x2="576.20" y2="424.90" stroke="#000" stroke-width="1.3" stroke-dasharray="1.15 1.20"/>
<text x="578.30" y="417.80" font-size="7" text-anchor="start" fill="#1a1a1a" >DL</text>
<line x1="488.40" y1="436.00" x2="576.20" y2="436.00" stroke="#6a6a6a" stroke-width="0.75" />
<line x1="507.30" y1="436.00" x2="507.30" y2="440.40" stroke="#6a6a6a" stroke-width="0.75" />
<line x1="524.90" y1="436.00" x2="524.90" y2="440.40" stroke="#6a6a6a" stroke-width="0.75" />
<line x1="542.60" y1="436.00" x2="542.60" y2="440.40" stroke="#6a6a6a" stroke-width="0.75" />
<line x1="560.60" y1="436.00" x2="560.60" y2="440.40" stroke="#6a6a6a" stroke-width="0.75" />
<text transform="translate(469.80 383.60) rotate(-90)" font-size="8.3" text-anchor="middle" fill="#1a1a1a"  textLength="79.5" lengthAdjust="spacingAndGlyphs">log<tspan dy="1.8" font-size="5">10</tspan><tspan dy="-1.8">(CFU g</tspan><tspan dy="-2.8" font-size="5">–1</tspan><tspan dy="2.8"> tissue)</tspan></text>
<line x1="507.10" y1="335.40" x2="560.80" y2="335.40" stroke="#555" stroke-width="0.65" />
<text x="532.10" y="334.30" font-size="7.3" text-anchor="middle" fill="#1a1a1a" textLength="24.0" lengthAdjust="spacingAndGlyphs">0.0359</text>
<line x1="525.50" y1="345.40" x2="560.80" y2="345.40" stroke="#555" stroke-width="0.65" />
<text x="543.00" y="343.20" font-size="7.3" text-anchor="middle" fill="#1a1a1a" >NS</text>
<line x1="507.10" y1="355.00" x2="542.60" y2="355.00" stroke="#bdbdbd" stroke-width="0.65" />
<text x="523.40" y="354.00" font-size="7.3" text-anchor="middle" fill="#1a1a1a" textLength="24.0" lengthAdjust="spacingAndGlyphs">0.0026</text>
<line x1="507.10" y1="365.80" x2="522.80" y2="365.80" stroke="#555" stroke-width="0.65" />
<text x="515.00" y="363.60" font-size="7.3" text-anchor="middle" fill="#1a1a1a" >NS</text>
<line x1="527.20" y1="365.80" x2="540.90" y2="365.80" stroke="#bdbdbd" stroke-width="0.65" />
<text x="534.20" y="364.10" font-size="7.3" text-anchor="middle" fill="#1a1a1a" textLength="24.0" lengthAdjust="spacingAndGlyphs">0.0036</text>
<line x1="545.20" y1="365.80" x2="560.80" y2="365.80" stroke="#6a6a6a" stroke-width="0.65" />
<text x="552.60" y="363.60" font-size="7.3" text-anchor="middle" fill="#1a1a1a" >NS</text>
<circle cx="502.70" cy="373.90" r="1.7" fill="#2e3192"/>
<circle cx="511.50" cy="376.30" r="1.7" fill="#2e3192"/>
<circle cx="507.10" cy="380.90" r="1.7" fill="#2e3192"/>
<circle cx="502.70" cy="386.10" r="1.7" fill="#2e3192"/>
<circle cx="511.50" cy="388.20" r="1.7" fill="#2e3192"/>
<circle cx="502.70" cy="390.80" r="1.7" fill="#2e3192"/>
<circle cx="502.70" cy="398.20" r="1.7" fill="#2e3192"/>
<circle cx="511.50" cy="396.60" r="1.7" fill="#2e3192"/>
<line x1="501.00" y1="386.50" x2="513.20" y2="386.50" stroke="#111" stroke-width="0.8" />
<line x1="507.10" y1="383.30" x2="507.10" y2="389.60" stroke="#111" stroke-width="0.6" />
<line x1="504.10" y1="383.30" x2="510.10" y2="383.30" stroke="#111" stroke-width="0.6" />
<line x1="504.10" y1="389.60" x2="510.10" y2="389.60" stroke="#111" stroke-width="0.6" />
<circle cx="525.10" cy="378.60" r="1.7" fill="#2e3192"/>
<circle cx="522.80" cy="382.60" r="1.7" fill="#2e3192"/>
<circle cx="520.60" cy="385.10" r="1.7" fill="#2e3192"/>
<circle cx="527.20" cy="385.10" r="1.7" fill="#2e3192"/>
<circle cx="529.80" cy="384.40" r="1.7" fill="#2e3192"/>
<circle cx="523.40" cy="387.30" r="1.7" fill="#2e3192"/>
<circle cx="526.30" cy="389.60" r="1.7" fill="#2e3192"/>
<circle cx="529.80" cy="389.60" r="1.7" fill="#2e3192"/>
<circle cx="522.80" cy="392.10" r="1.7" fill="#2e3192"/>
<circle cx="527.20" cy="392.60" r="1.7" fill="#2e3192"/>
<circle cx="525.80" cy="396.10" r="1.7" fill="#2e3192"/>
<circle cx="525.10" cy="400.10" r="1.7" fill="#2e3192"/>
<circle cx="543.00" cy="372.80" r="1.45" fill="#fff" stroke="#5a5fc4" stroke-width="0.6"/>
<circle cx="543.00" cy="390.80" r="1.45" fill="#fff" stroke="#5a5fc4" stroke-width="0.6"/>
<circle cx="543.00" cy="399.00" r="1.45" fill="#fff" stroke="#5a5fc4" stroke-width="0.6"/>
<circle cx="539.50" cy="403.60" r="1.45" fill="#fff" stroke="#5a5fc4" stroke-width="0.6"/>
<circle cx="547.30" cy="403.60" r="1.45" fill="#fff" stroke="#5a5fc4" stroke-width="0.6"/>
<circle cx="541.20" cy="405.30" r="1.45" fill="#fff" stroke="#5a5fc4" stroke-width="0.6"/>
<circle cx="544.40" cy="405.70" r="1.45" fill="#fff" stroke="#5a5fc4" stroke-width="0.6"/>
<circle cx="541.60" cy="411.80" r="1.45" fill="#fff" stroke="#5a5fc4" stroke-width="0.6"/>
<circle cx="544.20" cy="412.70" r="1.45" fill="#fff" stroke="#5a5fc4" stroke-width="0.6"/>
<circle cx="543.00" cy="424.90" r="1.45" fill="#fff" stroke="#5a5fc4" stroke-width="0.6"/>
<line x1="519.30" y1="388.60" x2="531.10" y2="388.60" stroke="#111" stroke-width="0.9" />
<line x1="525.20" y1="387.20" x2="525.20" y2="390.10" stroke="#111" stroke-width="0.6" />
<line x1="522.80" y1="387.20" x2="527.60" y2="387.20" stroke="#111" stroke-width="0.6" />
<line x1="522.80" y1="390.10" x2="527.60" y2="390.10" stroke="#111" stroke-width="0.6" />
<circle cx="556.60" cy="403.10" r="1.45" fill="#fff" stroke="#5a5fc4" stroke-width="0.6"/>
<circle cx="559.60" cy="403.10" r="1.45" fill="#fff" stroke="#5a5fc4" stroke-width="0.6"/>
<circle cx="562.40" cy="403.10" r="1.45" fill="#fff" stroke="#5a5fc4" stroke-width="0.6"/>
<circle cx="565.20" cy="403.10" r="1.45" fill="#fff" stroke="#5a5fc4" stroke-width="0.6"/>
<line x1="536.90" y1="403.10" x2="549.10" y2="403.10" stroke="#111" stroke-width="0.8" />
<line x1="543.00" y1="399.60" x2="543.00" y2="406.60" stroke="#111" stroke-width="0.6" />
<line x1="540.20" y1="399.60" x2="545.80" y2="399.60" stroke="#111" stroke-width="0.6" />
<line x1="540.20" y1="406.60" x2="545.80" y2="406.60" stroke="#111" stroke-width="0.6" />
<text transform="translate(508.80 446.60) rotate(-45)" font-size="7.3" text-anchor="end" fill="#1a1a1a" >101<tspan dy="-2.6" font-size="4.4">WT</tspan></text>
<text transform="translate(526.40 446.60) rotate(-45)" font-size="7.3" text-anchor="end" fill="#1a1a1a" >101<tspan dy="-2.6" font-size="4.4">WT</tspan><tspan dy="2.6"> l.d.</tspan></text>
<text transform="translate(544.20 446.60) rotate(-45)" font-size="7.3" text-anchor="end" fill="#1a1a1a" ><tspan font-style="italic">ece1</tspan>Δ/Δ</text>
<text transform="translate(562.20 446.60) rotate(-45)" font-size="7.3" text-anchor="end" fill="#1a1a1a" ><tspan font-style="italic">ece1p3</tspan>Δ/Δ</text>
<text x="653.50" y="318.00" font-size="8.5" text-anchor="middle" fill="#1a1a1a" textLength="25.0" lengthAdjust="spacingAndGlyphs">Day 35</text>
<line x1="632.20" y1="329.30" x2="632.20" y2="436.30" stroke="#6a6a6a" stroke-width="0.75" />
<line x1="628.00" y1="329.60" x2="632.20" y2="329.60" stroke="#6a6a6a" stroke-width="0.75" />
<text x="623.80" y="332.10" font-size="7" text-anchor="end" fill="#1a1a1a" >8</text>
<line x1="628.00" y1="344.80" x2="632.20" y2="344.80" stroke="#6a6a6a" stroke-width="0.75" />
<text x="623.80" y="347.30" font-size="7" text-anchor="end" fill="#1a1a1a" >7</text>
<line x1="628.00" y1="360.00" x2="632.20" y2="360.00" stroke="#6a6a6a" stroke-width="0.75" />
<text x="623.80" y="362.50" font-size="7" text-anchor="end" fill="#1a1a1a" >6</text>
<line x1="628.00" y1="375.10" x2="632.20" y2="375.10" stroke="#6a6a6a" stroke-width="0.75" />
<text x="623.80" y="377.60" font-size="7" text-anchor="end" fill="#1a1a1a" >5</text>
<line x1="628.00" y1="390.30" x2="632.20" y2="390.30" stroke="#6a6a6a" stroke-width="0.75" />
<text x="623.80" y="392.80" font-size="7" text-anchor="end" fill="#1a1a1a" >4</text>
<line x1="628.00" y1="405.40" x2="632.20" y2="405.40" stroke="#6a6a6a" stroke-width="0.75" />
<text x="623.80" y="407.90" font-size="7" text-anchor="end" fill="#1a1a1a" >3</text>
<line x1="628.00" y1="420.50" x2="632.20" y2="420.50" stroke="#6a6a6a" stroke-width="0.75" />
<text x="623.80" y="423.00" font-size="7" text-anchor="end" fill="#1a1a1a" >2</text>
<line x1="628.00" y1="436.00" x2="632.20" y2="436.00" stroke="#6a6a6a" stroke-width="0.75" />
<text x="623.80" y="438.50" font-size="7" text-anchor="end" fill="#1a1a1a" >1</text>
<rect x="632.5" y="424.5" width="42.6" height="3.2" fill="#d9d9d9"/>
<line x1="632.50" y1="424.40" x2="675.30" y2="424.40" stroke="#000" stroke-width="1.1" stroke-dasharray="1.15 1.20"/>
<line x1="632.50" y1="427.80" x2="675.30" y2="427.80" stroke="#000" stroke-width="1.1" stroke-dasharray="1.15 1.20"/>
<text x="676.60" y="428.20" font-size="6.6" text-anchor="start" fill="#1a1a1a" >DL</text>
<line x1="627.80" y1="435.80" x2="674.70" y2="435.80" stroke="#6a6a6a" stroke-width="0.75" />
<line x1="642.70" y1="435.80" x2="642.70" y2="440.40" stroke="#6a6a6a" stroke-width="0.75" />
<line x1="664.00" y1="435.80" x2="664.00" y2="440.40" stroke="#6a6a6a" stroke-width="0.75" />
<text transform="translate(609.80 383.60) rotate(-90)" font-size="8.3" text-anchor="middle" fill="#1a1a1a"  textLength="79.5" lengthAdjust="spacingAndGlyphs">log<tspan dy="1.8" font-size="5">10</tspan><tspan dy="-1.8">(CFU g</tspan><tspan dy="-2.8" font-size="5">–1</tspan><tspan dy="2.8"> tissue)</tspan></text>
<line x1="643.00" y1="377.30" x2="663.80" y2="377.30" stroke="#555" stroke-width="0.65" />
<text x="653.70" y="376.30" font-size="7.3" text-anchor="middle" fill="#1a1a1a" textLength="27.0" lengthAdjust="spacingAndGlyphs">&lt;0.0001</text>
<circle cx="642.70" cy="388.60" r="1.75" fill="#2e3192"/>
<circle cx="637.30" cy="394.30" r="1.75" fill="#2e3192"/>
<circle cx="648.40" cy="393.80" r="1.75" fill="#2e3192"/>
<circle cx="639.80" cy="399.50" r="1.75" fill="#2e3192"/>
<circle cx="645.50" cy="401.60" r="1.75" fill="#2e3192"/>
<circle cx="642.70" cy="405.00" r="1.75" fill="#2e3192"/>
<circle cx="643.60" cy="410.00" r="1.75" fill="#2e3192"/>
<circle cx="642.70" cy="420.40" r="1.75" fill="#2e3192"/>
<line x1="635.90" y1="400.40" x2="649.90" y2="400.40" stroke="#111" stroke-width="0.9" />
<line x1="642.90" y1="396.20" x2="642.90" y2="404.40" stroke="#111" stroke-width="0.6" />
<line x1="639.90" y1="396.20" x2="645.90" y2="396.20" stroke="#111" stroke-width="0.6" />
<line x1="639.90" y1="404.40" x2="645.90" y2="404.40" stroke="#111" stroke-width="0.6" />
<circle cx="665.90" cy="414.00" r="1.45" fill="#fff" stroke="#5a5fc4" stroke-width="0.6"/>
<circle cx="662.10" cy="416.60" r="1.45" fill="#fff" stroke="#5a5fc4" stroke-width="0.6"/>
<circle cx="658.90" cy="427.70" r="1.45" fill="#fff" stroke="#5a5fc4" stroke-width="0.6"/>
<circle cx="662.10" cy="427.70" r="1.45" fill="#fff" stroke="#5a5fc4" stroke-width="0.6"/>
<circle cx="665.60" cy="427.70" r="1.45" fill="#fff" stroke="#5a5fc4" stroke-width="0.6"/>
<circle cx="669.00" cy="427.70" r="1.45" fill="#fff" stroke="#5a5fc4" stroke-width="0.6"/>
<circle cx="660.80" cy="423.90" r="1.45" fill="#fff" stroke="#5a5fc4" stroke-width="0.6"/>
<circle cx="664.60" cy="424.50" r="1.45" fill="#fff" stroke="#5a5fc4" stroke-width="0.6"/>
<circle cx="667.50" cy="424.80" r="1.45" fill="#fff" stroke="#5a5fc4" stroke-width="0.6"/>
<line x1="657.10" y1="423.90" x2="670.90" y2="423.90" stroke="#111" stroke-width="0.9" />
<line x1="664.00" y1="421.40" x2="664.00" y2="426.20" stroke="#111" stroke-width="0.6" />
<line x1="661.40" y1="421.40" x2="666.60" y2="421.40" stroke="#111" stroke-width="0.6" />
<line x1="661.40" y1="426.20" x2="666.60" y2="426.20" stroke="#111" stroke-width="0.6" />
<text x="642.70" y="448.40" font-size="7" text-anchor="middle" fill="#1a1a1a" >–</text>
<text x="664.00" y="448.80" font-size="7" text-anchor="middle" fill="#1a1a1a" >+</text>
<line x1="640.80" y1="451.90" x2="666.50" y2="451.90" stroke="#bdbdbd" stroke-width="0.9" />
<text x="653.20" y="462.20" font-size="8.6" text-anchor="middle" fill="#1a1a1a" >Dox</text>
<text x="653.20" y="472.60" font-size="8.6" text-anchor="middle" fill="#1a1a1a" >(d21–35)</text>
<line x1="32.80" y1="508.20" x2="32.80" y2="614.80" stroke="#6a6a6a" stroke-width="0.75" />
<line x1="28.60" y1="508.50" x2="32.80" y2="508.50" stroke="#6a6a6a" stroke-width="0.75" />
<text x="25.40" y="511.00" font-size="7" text-anchor="end" fill="#1a1a1a" >8</text>
<line x1="28.60" y1="523.60" x2="32.80" y2="523.60" stroke="#6a6a6a" stroke-width="0.75" />
<text x="25.40" y="526.10" font-size="7" text-anchor="end" fill="#1a1a1a" >7</text>
<line x1="28.60" y1="538.70" x2="32.80" y2="538.70" stroke="#6a6a6a" stroke-width="0.75" />
<text x="25.40" y="541.20" font-size="7" text-anchor="end" fill="#1a1a1a" >6</text>
<line x1="28.60" y1="553.90" x2="32.80" y2="553.90" stroke="#6a6a6a" stroke-width="0.75" />
<text x="25.40" y="556.40" font-size="7" text-anchor="end" fill="#1a1a1a" >5</text>
<line x1="28.60" y1="569.00" x2="32.80" y2="569.00" stroke="#6a6a6a" stroke-width="0.75" />
<text x="25.40" y="571.50" font-size="7" text-anchor="end" fill="#1a1a1a" >4</text>
<line x1="28.60" y1="584.20" x2="32.80" y2="584.20" stroke="#6a6a6a" stroke-width="0.75" />
<text x="25.40" y="586.70" font-size="7" text-anchor="end" fill="#1a1a1a" >3</text>
<line x1="28.60" y1="599.30" x2="32.80" y2="599.30" stroke="#6a6a6a" stroke-width="0.75" />
<text x="25.40" y="601.80" font-size="7" text-anchor="end" fill="#1a1a1a" >2</text>
<line x1="28.60" y1="614.50" x2="32.80" y2="614.50" stroke="#6a6a6a" stroke-width="0.75" />
<text x="25.40" y="617.00" font-size="7" text-anchor="end" fill="#1a1a1a" >1</text>
<rect x="33.1" y="580.4" width="41.4" height="8.8" fill="#d9d9d9"/>
<line x1="33.10" y1="580.40" x2="74.80" y2="580.40" stroke="#000" stroke-width="1.3" stroke-dasharray="1.15 1.20"/>
<line x1="33.10" y1="589.20" x2="74.80" y2="589.20" stroke="#000" stroke-width="1.3" stroke-dasharray="1.15 1.20"/>
<text x="76.30" y="587.00" font-size="7" text-anchor="start" fill="#1a1a1a" >DL</text>
<line x1="27.80" y1="614.50" x2="75.00" y2="614.50" stroke="#6a6a6a" stroke-width="0.75" />
<line x1="53.50" y1="614.50" x2="53.50" y2="619.20" stroke="#6a6a6a" stroke-width="0.75" />
<text x="53.50" y="627.80" font-size="7.5" text-anchor="middle" fill="#1a1a1a" >d3</text>
<text transform="translate(10.60 561.50) rotate(-90)" font-size="8.3" text-anchor="middle" fill="#1a1a1a"  textLength="79.5" lengthAdjust="spacingAndGlyphs">log<tspan dy="1.8" font-size="5">10</tspan><tspan dy="-1.8">(CFU g</tspan><tspan dy="-2.8" font-size="5">–1</tspan><tspan dy="2.8"> tissue)</tspan></text>
<line x1="44.20" y1="529.40" x2="62.60" y2="529.40" stroke="#555" stroke-width="0.65" />
<text x="53.80" y="527.80" font-size="7.3" text-anchor="middle" fill="#1a1a1a" textLength="24.0" lengthAdjust="spacingAndGlyphs">0.0002</text>
<line x1="44.20" y1="542.00" x2="62.40" y2="566.70" stroke="#111" stroke-width="0.85" />
<line x1="44.20" y1="546.50" x2="62.40" y2="568.50" stroke="#111" stroke-width="0.85" />
<line x1="44.20" y1="548.80" x2="62.40" y2="570.30" stroke="#111" stroke-width="0.85" />
<line x1="44.20" y1="550.80" x2="62.40" y2="571.80" stroke="#111" stroke-width="0.85" />
<line x1="44.20" y1="556.60" x2="62.40" y2="580.40" stroke="#111" stroke-width="0.85" />
<line x1="44.20" y1="547.60" x2="62.40" y2="569.40" stroke="#111" stroke-width="0.85" />
<circle cx="44.20" cy="542.00" r="1.75" fill="#2e3192"/>
<circle cx="44.20" cy="546.50" r="1.75" fill="#2e3192"/>
<circle cx="44.20" cy="548.80" r="1.75" fill="#2e3192"/>
<circle cx="44.20" cy="550.80" r="1.75" fill="#2e3192"/>
<circle cx="44.20" cy="556.60" r="1.75" fill="#2e3192"/>
<circle cx="44.20" cy="547.60" r="1.75" fill="#2e3192"/>
<circle cx="62.40" cy="566.70" r="1.6" fill="#fff" stroke="#5a5fc4" stroke-width="0.7"/>
<circle cx="62.40" cy="568.50" r="1.6" fill="#fff" stroke="#5a5fc4" stroke-width="0.7"/>
<circle cx="62.40" cy="570.30" r="1.6" fill="#fff" stroke="#5a5fc4" stroke-width="0.7"/>
<circle cx="62.40" cy="571.80" r="1.6" fill="#fff" stroke="#5a5fc4" stroke-width="0.7"/>
<circle cx="62.40" cy="580.40" r="1.6" fill="#fff" stroke="#5a5fc4" stroke-width="0.7"/>
<circle cx="62.40" cy="569.40" r="1.6" fill="#fff" stroke="#5a5fc4" stroke-width="0.7"/>
<circle cx="78.80" cy="497.80" r="2.5" fill="#2e3192"/>
<circle cx="90.20" cy="497.80" r="2.3" fill="#fff" stroke="#5a5fc4" stroke-width="0.7"/>
<text x="42.40" y="508.60" font-size="7.6" text-anchor="start" fill="#1a1a1a" >101<tspan dy="-2.8" font-size="4.4">WT_mcherry</tspan></text>
<text x="87.60" y="508.60" font-size="7.6" text-anchor="start" fill="#1a1a1a" textLength="26.5" lengthAdjust="spacingAndGlyphs">ece1Δ/Δ</text>
<text x="84.60" y="517.40" font-size="7.4" text-anchor="middle" fill="#1a1a1a" >1 : 1</text>
<line x1="154.30" y1="508.20" x2="154.30" y2="614.80" stroke="#6a6a6a" stroke-width="0.75" />
<line x1="150.10" y1="508.50" x2="154.30" y2="508.50" stroke="#6a6a6a" stroke-width="0.75" />
<text x="146.60" y="511.00" font-size="7" text-anchor="end" fill="#1a1a1a" >8</text>
<line x1="150.10" y1="523.60" x2="154.30" y2="523.60" stroke="#6a6a6a" stroke-width="0.75" />
<text x="146.60" y="526.10" font-size="7" text-anchor="end" fill="#1a1a1a" >7</text>
<line x1="150.10" y1="538.70" x2="154.30" y2="538.70" stroke="#6a6a6a" stroke-width="0.75" />
<text x="146.60" y="541.20" font-size="7" text-anchor="end" fill="#1a1a1a" >6</text>
<line x1="150.10" y1="553.90" x2="154.30" y2="553.90" stroke="#6a6a6a" stroke-width="0.75" />
<text x="146.60" y="556.40" font-size="7" text-anchor="end" fill="#1a1a1a" >5</text>
<line x1="150.10" y1="569.00" x2="154.30" y2="569.00" stroke="#6a6a6a" stroke-width="0.75" />
<text x="146.60" y="571.50" font-size="7" text-anchor="end" fill="#1a1a1a" >4</text>
<line x1="150.10" y1="584.20" x2="154.30" y2="584.20" stroke="#6a6a6a" stroke-width="0.75" />
<text x="146.60" y="586.70" font-size="7" text-anchor="end" fill="#1a1a1a" >3</text>
<line x1="150.10" y1="599.30" x2="154.30" y2="599.30" stroke="#6a6a6a" stroke-width="0.75" />
<text x="146.60" y="601.80" font-size="7" text-anchor="end" fill="#1a1a1a" >2</text>
<line x1="150.10" y1="614.50" x2="154.30" y2="614.50" stroke="#6a6a6a" stroke-width="0.75" />
<text x="146.60" y="617.00" font-size="7" text-anchor="end" fill="#1a1a1a" >1</text>
<line x1="149.70" y1="614.50" x2="281.00" y2="614.50" stroke="#6a6a6a" stroke-width="0.75" />
<line x1="173.60" y1="614.50" x2="173.60" y2="619.20" stroke="#6a6a6a" stroke-width="0.75" />
<text x="173.60" y="627.80" font-size="7.5" text-anchor="middle" fill="#1a1a1a" >d3</text>
<line x1="217.50" y1="614.50" x2="217.50" y2="619.20" stroke="#6a6a6a" stroke-width="0.75" />
<text x="217.50" y="627.80" font-size="7.5" text-anchor="middle" fill="#1a1a1a" >d7</text>
<line x1="261.60" y1="614.50" x2="261.60" y2="619.20" stroke="#6a6a6a" stroke-width="0.75" />
<text x="261.60" y="627.80" font-size="7.5" text-anchor="middle" fill="#1a1a1a" >d28</text>
<text transform="translate(133.60 562.00) rotate(-90)" font-size="8.3" text-anchor="middle" fill="#1a1a1a"  textLength="79.5" lengthAdjust="spacingAndGlyphs">log<tspan dy="1.8" font-size="5">10</tspan><tspan dy="-1.8">(CFU g</tspan><tspan dy="-2.8" font-size="5">–1</tspan><tspan dy="2.8"> tissue)</tspan></text>
<line x1="157.20" y1="585.40" x2="197.20" y2="585.40" stroke="#000" stroke-width="1.3" stroke-dasharray="1.15 1.20"/>
<rect x="199.0" y="586.4" width="39.0" height="4.1" fill="#d9d9d9"/>
<line x1="200.00" y1="585.40" x2="238.60" y2="585.40" stroke="#000" stroke-width="1.3" stroke-dasharray="1.15 1.20"/>
<line x1="240.30" y1="605.70" x2="280.20" y2="605.70" stroke="#000" stroke-width="1.3" stroke-dasharray="1.15 1.20"/>
<text x="283.10" y="608.00" font-size="7" text-anchor="start" fill="#1a1a1a" >DL</text>
<line x1="166.00" y1="538.80" x2="181.90" y2="538.80" stroke="#bdbdbd" stroke-width="0.9" />
<text x="173.60" y="536.80" font-size="7.3" text-anchor="middle" fill="#1a1a1a" >NS</text>
<line x1="208.90" y1="539.00" x2="225.80" y2="539.00" stroke="#bdbdbd" stroke-width="0.9" />
<text x="217.50" y="537.60" font-size="7.3" text-anchor="middle" fill="#1a1a1a" textLength="27.0" lengthAdjust="spacingAndGlyphs">&lt;0.0001</text>
<line x1="252.40" y1="555.20" x2="269.30" y2="555.20" stroke="#bdbdbd" stroke-width="0.9" />
<text x="260.40" y="553.80" font-size="7.3" text-anchor="middle" fill="#1a1a1a" textLength="27.0" lengthAdjust="spacingAndGlyphs">&lt;0.0001</text>
<line x1="165.40" y1="550.30" x2="181.90" y2="549.10" stroke="#111" stroke-width="0.85" />
<line x1="165.40" y1="552.20" x2="181.90" y2="551.20" stroke="#111" stroke-width="0.85" />
<line x1="165.40" y1="555.80" x2="181.90" y2="552.20" stroke="#111" stroke-width="0.85" />
<line x1="165.40" y1="556.80" x2="181.90" y2="549.60" stroke="#111" stroke-width="0.85" />
<line x1="165.40" y1="564.40" x2="181.90" y2="551.80" stroke="#111" stroke-width="0.85" />
<line x1="165.40" y1="571.20" x2="181.90" y2="569.90" stroke="#111" stroke-width="0.85" />
<circle cx="165.40" cy="550.30" r="1.75" fill="#2e3192"/>
<circle cx="165.40" cy="552.20" r="1.75" fill="#2e3192"/>
<circle cx="165.40" cy="555.80" r="1.75" fill="#2e3192"/>
<circle cx="165.40" cy="556.80" r="1.75" fill="#2e3192"/>
<circle cx="165.40" cy="564.40" r="1.75" fill="#2e3192"/>
<circle cx="165.40" cy="571.20" r="1.75" fill="#2e3192"/>
<circle cx="181.90" cy="549.10" r="1.6" fill="#fff" stroke="#5a5fc4" stroke-width="0.7"/>
<circle cx="181.90" cy="551.20" r="1.6" fill="#fff" stroke="#5a5fc4" stroke-width="0.7"/>
<circle cx="181.90" cy="552.20" r="1.6" fill="#fff" stroke="#5a5fc4" stroke-width="0.7"/>
<circle cx="181.90" cy="549.60" r="1.6" fill="#fff" stroke="#5a5fc4" stroke-width="0.7"/>
<circle cx="181.90" cy="551.80" r="1.6" fill="#fff" stroke="#5a5fc4" stroke-width="0.7"/>
<circle cx="181.90" cy="569.90" r="1.6" fill="#fff" stroke="#5a5fc4" stroke-width="0.7"/>
<line x1="209.20" y1="545.10" x2="225.80" y2="569.00" stroke="#111" stroke-width="0.85" />
<line x1="209.20" y1="547.30" x2="225.80" y2="576.10" stroke="#111" stroke-width="0.85" />
<line x1="209.20" y1="553.40" x2="225.80" y2="585.90" stroke="#111" stroke-width="0.85" />
<line x1="209.20" y1="558.90" x2="225.80" y2="587.00" stroke="#111" stroke-width="0.85" />
<line x1="209.20" y1="562.00" x2="225.80" y2="591.10" stroke="#111" stroke-width="0.85" />
<line x1="209.20" y1="569.60" x2="225.80" y2="588.50" stroke="#111" stroke-width="0.85" />
<circle cx="209.20" cy="545.10" r="1.75" fill="#2e3192"/>
<circle cx="209.20" cy="547.30" r="1.75" fill="#2e3192"/>
<circle cx="209.20" cy="553.40" r="1.75" fill="#2e3192"/>
<circle cx="209.20" cy="558.90" r="1.75" fill="#2e3192"/>
<circle cx="209.20" cy="562.00" r="1.75" fill="#2e3192"/>
<circle cx="209.20" cy="569.60" r="1.75" fill="#2e3192"/>
<circle cx="225.80" cy="569.00" r="1.6" fill="#fff" stroke="#5a5fc4" stroke-width="0.7"/>
<circle cx="225.80" cy="576.10" r="1.6" fill="#fff" stroke="#5a5fc4" stroke-width="0.7"/>
<circle cx="225.80" cy="585.90" r="1.6" fill="#fff" stroke="#5a5fc4" stroke-width="0.7"/>
<circle cx="225.80" cy="587.00" r="1.6" fill="#fff" stroke="#5a5fc4" stroke-width="0.7"/>
<circle cx="225.80" cy="591.10" r="1.6" fill="#fff" stroke="#5a5fc4" stroke-width="0.7"/>
<circle cx="225.80" cy="588.50" r="1.6" fill="#fff" stroke="#5a5fc4" stroke-width="0.7"/>
<line x1="252.70" y1="561.40" x2="269.30" y2="605.50" stroke="#111" stroke-width="0.85" />
<line x1="252.70" y1="564.40" x2="269.30" y2="605.50" stroke="#111" stroke-width="0.85" />
<line x1="252.70" y1="569.00" x2="269.30" y2="605.50" stroke="#111" stroke-width="0.85" />
<line x1="252.70" y1="571.20" x2="269.30" y2="605.50" stroke="#111" stroke-width="0.85" />
<line x1="252.70" y1="581.30" x2="269.30" y2="605.50" stroke="#111" stroke-width="0.85" />
<line x1="252.70" y1="589.60" x2="269.30" y2="605.50" stroke="#111" stroke-width="0.85" />
<circle cx="252.70" cy="561.40" r="1.75" fill="#2e3192"/>
<circle cx="252.70" cy="564.40" r="1.75" fill="#2e3192"/>
<circle cx="252.70" cy="569.00" r="1.75" fill="#2e3192"/>
<circle cx="252.70" cy="571.20" r="1.75" fill="#2e3192"/>
<circle cx="252.70" cy="581.30" r="1.75" fill="#2e3192"/>
<circle cx="252.70" cy="589.60" r="1.75" fill="#2e3192"/>
<circle cx="269.30" cy="605.70" r="1.6" fill="#fff" stroke="#5a5fc4" stroke-width="0.7"/>
<circle cx="258.60" cy="498.20" r="2.5" fill="#2e3192"/>
<circle cx="270.20" cy="498.20" r="2.3" fill="#fff" stroke="#5a5fc4" stroke-width="0.7"/>
<text x="222.70" y="509.00" font-size="7.6" text-anchor="start" fill="#1a1a1a" >101<tspan dy="-2.8" font-size="4.4">WT_mcherry</tspan></text>
<text x="268.00" y="509.00" font-size="7.6" text-anchor="start" fill="#1a1a1a" textLength="26.5" lengthAdjust="spacingAndGlyphs">ece1Δ/Δ</text>
<text x="265.90" y="517.70" font-size="7.4" text-anchor="middle" fill="#1a1a1a" >1 : 50</text>
<line x1="357.60" y1="508.30" x2="357.60" y2="577.60" stroke="#6a6a6a" stroke-width="0.75" />
<line x1="353.40" y1="508.60" x2="357.60" y2="508.60" stroke="#6a6a6a" stroke-width="0.75" />
<text x="349.20" y="511.10" font-size="7" text-anchor="end" fill="#1a1a1a" >1,010</text>
<line x1="353.40" y1="522.30" x2="357.60" y2="522.30" stroke="#6a6a6a" stroke-width="0.75" />
<text x="349.20" y="524.80" font-size="7" text-anchor="end" fill="#1a1a1a" >810</text>
<line x1="353.40" y1="536.10" x2="357.60" y2="536.10" stroke="#6a6a6a" stroke-width="0.75" />
<text x="349.20" y="538.60" font-size="7" text-anchor="end" fill="#1a1a1a" >610</text>
<line x1="353.40" y1="549.80" x2="357.60" y2="549.80" stroke="#6a6a6a" stroke-width="0.75" />
<text x="349.20" y="552.30" font-size="7" text-anchor="end" fill="#1a1a1a" >410</text>
<line x1="353.40" y1="563.60" x2="357.60" y2="563.60" stroke="#6a6a6a" stroke-width="0.75" />
<text x="349.20" y="566.10" font-size="7" text-anchor="end" fill="#1a1a1a" >210</text>
<line x1="353.40" y1="577.30" x2="357.60" y2="577.30" stroke="#6a6a6a" stroke-width="0.75" />
<text x="349.20" y="579.80" font-size="7" text-anchor="end" fill="#1a1a1a" >10</text>
<line x1="357.60" y1="584.90" x2="357.60" y2="614.80" stroke="#6a6a6a" stroke-width="0.75" />
<line x1="353.40" y1="585.20" x2="357.60" y2="585.20" stroke="#6a6a6a" stroke-width="0.75" />
<text x="349.20" y="587.70" font-size="7" text-anchor="end" fill="#1a1a1a" >2</text>
<line x1="353.40" y1="599.80" x2="357.60" y2="599.80" stroke="#6a6a6a" stroke-width="0.75" />
<text x="349.20" y="602.30" font-size="7" text-anchor="end" fill="#1a1a1a" >1</text>
<line x1="353.40" y1="614.50" x2="357.60" y2="614.50" stroke="#6a6a6a" stroke-width="0.75" />
<text x="349.20" y="617.00" font-size="7" text-anchor="end" fill="#1a1a1a" >0</text>
<line x1="353.00" y1="614.50" x2="420.70" y2="614.50" stroke="#6a6a6a" stroke-width="0.75" />
<line x1="370.00" y1="614.50" x2="370.00" y2="619.20" stroke="#6a6a6a" stroke-width="0.75" />
<text x="370.00" y="627.80" font-size="7.5" text-anchor="middle" fill="#1a1a1a" >d3</text>
<line x1="388.90" y1="614.50" x2="388.90" y2="619.20" stroke="#6a6a6a" stroke-width="0.75" />
<text x="388.90" y="627.80" font-size="7.5" text-anchor="middle" fill="#1a1a1a" >d7</text>
<line x1="407.90" y1="614.50" x2="407.90" y2="619.20" stroke="#6a6a6a" stroke-width="0.75" />
<text x="407.90" y="627.80" font-size="7.5" text-anchor="middle" fill="#1a1a1a" >d28</text>
<line x1="357.90" y1="599.80" x2="418.90" y2="599.80" stroke="#000" stroke-width="1.3" stroke-dasharray="1.15 1.20"/>
<text transform="translate(314.20 562.20) rotate(-90)" font-size="8.5" text-anchor="middle" fill="#1a1a1a"  textLength="42.5" lengthAdjust="spacingAndGlyphs">Ratio 101<tspan dy="-2.9" font-size="5">WT</tspan></text>
<text transform="translate(324.60 562.60) rotate(-90)" font-size="8.5" text-anchor="middle" fill="#1a1a1a"  textLength="108" lengthAdjust="spacingAndGlyphs">(CFU g<tspan dy="-2.8" font-size="5">–1</tspan><tspan dy="2.8">):</tspan><tspan font-style="italic">ece1</tspan>Δ/Δ (CFU g<tspan dy="-2.8" font-size="5">–1</tspan><tspan dy="2.8">)</tspan></text>
<line x1="370.00" y1="500.30" x2="408.10" y2="500.30" stroke="#555" stroke-width="0.65" />
<text x="389.70" y="498.50" font-size="7.3" text-anchor="middle" fill="#1a1a1a" textLength="24.0" lengthAdjust="spacingAndGlyphs">0.0020</text>
<line x1="370.00" y1="510.40" x2="388.90" y2="510.40" stroke="#bdbdbd" stroke-width="0.65" />
<text x="377.50" y="509.10" font-size="7.3" text-anchor="middle" fill="#1a1a1a" textLength="24.0" lengthAdjust="spacingAndGlyphs">0.0358</text>
<line x1="388.90" y1="515.50" x2="408.10" y2="515.50" stroke="#555" stroke-width="0.65" />
<text x="398.50" y="513.50" font-size="7.3" text-anchor="middle" fill="#1a1a1a" >NS</text>
<circle cx="365.20" cy="599.80" r="1.6" fill="#111"/>
<circle cx="374.00" cy="601.90" r="1.6" fill="#111"/>
<circle cx="369.50" cy="603.10" r="1.6" fill="#111"/>
<circle cx="366.90" cy="606.40" r="1.6" fill="#111"/>
<circle cx="373.30" cy="608.40" r="1.6" fill="#111"/>
<circle cx="370.20" cy="613.20" r="1.6" fill="#111"/>
<line x1="364.40" y1="605.60" x2="375.80" y2="605.60" stroke="#111" stroke-width="0.8" />
<line x1="370.10" y1="604.00" x2="370.10" y2="607.40" stroke="#111" stroke-width="0.6" />
<line x1="367.90" y1="604.00" x2="372.30" y2="604.00" stroke="#111" stroke-width="0.6" />
<line x1="367.90" y1="607.40" x2="372.30" y2="607.40" stroke="#111" stroke-width="0.6" />
<circle cx="388.90" cy="526.10" r="1.6" fill="#111"/>
<circle cx="384.10" cy="573.60" r="1.6" fill="#111"/>
<circle cx="387.10" cy="574.10" r="1.6" fill="#111"/>
<circle cx="390.40" cy="575.60" r="1.6" fill="#111"/>
<circle cx="393.50" cy="575.60" r="1.6" fill="#111"/>
<circle cx="384.60" cy="577.40" r="1.6" fill="#111"/>
<line x1="382.60" y1="566.70" x2="395.40" y2="566.70" stroke="#888" stroke-width="0.9" />
<line x1="389.00" y1="558.40" x2="389.00" y2="575.60" stroke="#888" stroke-width="0.6" />
<line x1="386.00" y1="558.40" x2="392.00" y2="558.40" stroke="#888" stroke-width="0.6" />
<line x1="386.00" y1="575.60" x2="392.00" y2="575.60" stroke="#888" stroke-width="0.6" />
<circle cx="407.90" cy="521.80" r="1.6" fill="#111"/>
<circle cx="407.90" cy="542.70" r="1.6" fill="#111"/>
<circle cx="403.10" cy="565.50" r="1.6" fill="#111"/>
<circle cx="412.40" cy="564.70" r="1.6" fill="#111"/>
<circle cx="412.40" cy="575.60" r="1.6" fill="#111"/>
<circle cx="403.10" cy="577.40" r="1.6" fill="#111"/>
<line x1="401.60" y1="558.20" x2="414.20" y2="558.20" stroke="#888" stroke-width="0.8" />
<line x1="407.90" y1="550.80" x2="407.90" y2="565.50" stroke="#888" stroke-width="0.6" />
<line x1="404.90" y1="550.80" x2="410.90" y2="550.80" stroke="#888" stroke-width="0.6" />
<line x1="404.90" y1="565.50" x2="410.90" y2="565.50" stroke="#888" stroke-width="0.6" />
<line x1="401.60" y1="558.20" x2="414.20" y2="558.20" stroke="#111" stroke-width="0.9" />
</svg></body></html>
